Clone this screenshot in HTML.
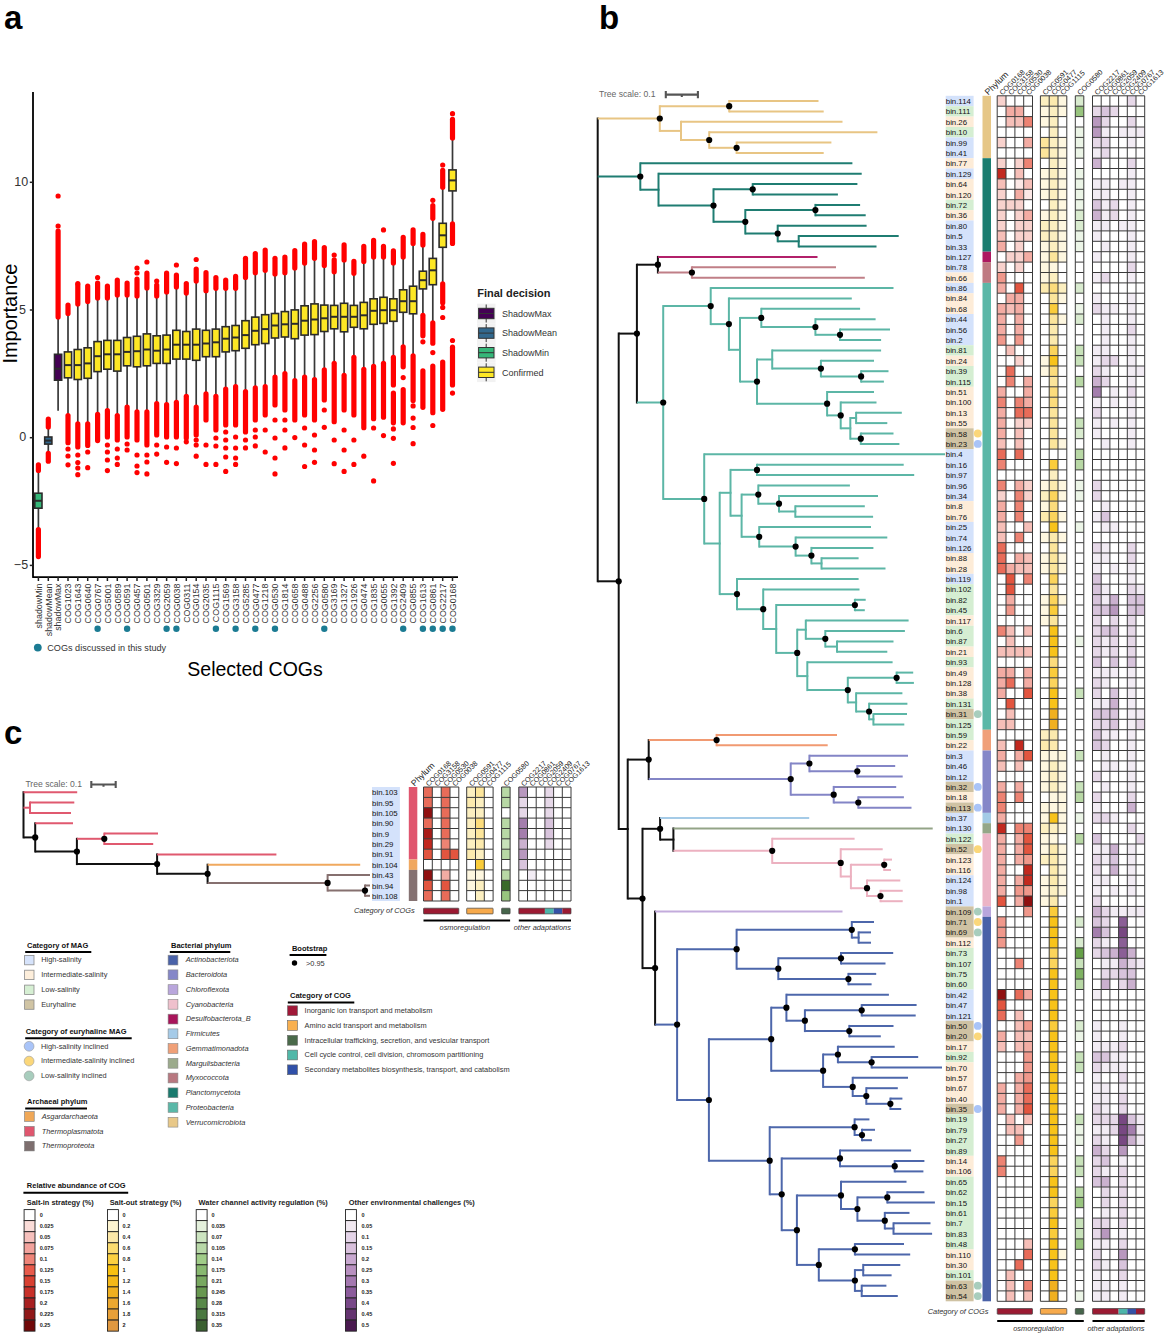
<!DOCTYPE html>
<html><head><meta charset="utf-8"><title>Figure</title>
<style>html,body{margin:0;padding:0;background:#fff;overflow:hidden;}svg{display:block;}</style></head>
<body>
<svg width="1166" height="1334" viewBox="0 0 1166 1334" font-family="'Liberation Sans', Arial, sans-serif">
<rect width="1166" height="1334" fill="#fff"/>
<line x1="38.4" y1="470.5" x2="38.4" y2="493.2" stroke="#383838" stroke-width="1.7"/>
<line x1="38.4" y1="508.2" x2="38.4" y2="529.5" stroke="#383838" stroke-width="1.7"/>
<line x1="48.3" y1="427" x2="48.3" y2="437" stroke="#383838" stroke-width="1.7"/>
<line x1="48.3" y1="444.1" x2="48.3" y2="453.4" stroke="#383838" stroke-width="1.7"/>
<line x1="58.1" y1="317" x2="58.1" y2="354.3" stroke="#383838" stroke-width="1.7"/>
<line x1="58.1" y1="380.2" x2="58.1" y2="410.7" stroke="#383838" stroke-width="1.7"/>
<line x1="68" y1="313.5" x2="68" y2="351.9" stroke="#383838" stroke-width="1.7"/>
<line x1="68" y1="377.8" x2="68" y2="415.5" stroke="#383838" stroke-width="1.7"/>
<line x1="77.8" y1="303.9" x2="77.8" y2="349.5" stroke="#383838" stroke-width="1.7"/>
<line x1="77.8" y1="379.5" x2="77.8" y2="423.9" stroke="#383838" stroke-width="1.7"/>
<line x1="87.7" y1="301.5" x2="87.7" y2="347.8" stroke="#383838" stroke-width="1.7"/>
<line x1="87.7" y1="378.3" x2="87.7" y2="423.9" stroke="#383838" stroke-width="1.7"/>
<line x1="97.6" y1="297.9" x2="97.6" y2="341.6" stroke="#383838" stroke-width="1.7"/>
<line x1="97.6" y1="371.6" x2="97.6" y2="414.3" stroke="#383838" stroke-width="1.7"/>
<line x1="107.4" y1="297.9" x2="107.4" y2="340.4" stroke="#383838" stroke-width="1.7"/>
<line x1="107.4" y1="369.2" x2="107.4" y2="410.7" stroke="#383838" stroke-width="1.7"/>
<line x1="117.3" y1="295" x2="117.3" y2="340.4" stroke="#383838" stroke-width="1.7"/>
<line x1="117.3" y1="371.1" x2="117.3" y2="415.5" stroke="#383838" stroke-width="1.7"/>
<line x1="127.1" y1="295" x2="127.1" y2="337.5" stroke="#383838" stroke-width="1.7"/>
<line x1="127.1" y1="365.8" x2="127.1" y2="407" stroke="#383838" stroke-width="1.7"/>
<line x1="137" y1="296" x2="137" y2="336.3" stroke="#383838" stroke-width="1.7"/>
<line x1="137" y1="366.8" x2="137" y2="411.9" stroke="#383838" stroke-width="1.7"/>
<line x1="146.9" y1="288" x2="146.9" y2="333.9" stroke="#383838" stroke-width="1.7"/>
<line x1="146.9" y1="365.8" x2="146.9" y2="411.9" stroke="#383838" stroke-width="1.7"/>
<line x1="156.7" y1="296" x2="156.7" y2="335.8" stroke="#383838" stroke-width="1.7"/>
<line x1="156.7" y1="363.4" x2="156.7" y2="403.5" stroke="#383838" stroke-width="1.7"/>
<line x1="166.6" y1="292" x2="166.6" y2="335.1" stroke="#383838" stroke-width="1.7"/>
<line x1="166.6" y1="363.4" x2="166.6" y2="404.7" stroke="#383838" stroke-width="1.7"/>
<line x1="176.4" y1="287" x2="176.4" y2="330.3" stroke="#383838" stroke-width="1.7"/>
<line x1="176.4" y1="359.1" x2="176.4" y2="402.3" stroke="#383838" stroke-width="1.7"/>
<line x1="186.3" y1="293.1" x2="186.3" y2="331.5" stroke="#383838" stroke-width="1.7"/>
<line x1="186.3" y1="359.1" x2="186.3" y2="396.3" stroke="#383838" stroke-width="1.7"/>
<line x1="196.2" y1="281.1" x2="196.2" y2="329.1" stroke="#383838" stroke-width="1.7"/>
<line x1="196.2" y1="360.3" x2="196.2" y2="407" stroke="#383838" stroke-width="1.7"/>
<line x1="206" y1="290.7" x2="206" y2="330.3" stroke="#383838" stroke-width="1.7"/>
<line x1="206" y1="356.7" x2="206" y2="393.9" stroke="#383838" stroke-width="1.7"/>
<line x1="215.9" y1="288.3" x2="215.9" y2="329.1" stroke="#383838" stroke-width="1.7"/>
<line x1="215.9" y1="356.7" x2="215.9" y2="396.3" stroke="#383838" stroke-width="1.7"/>
<line x1="225.7" y1="288.3" x2="225.7" y2="326.7" stroke="#383838" stroke-width="1.7"/>
<line x1="225.7" y1="351.9" x2="225.7" y2="389.1" stroke="#383838" stroke-width="1.7"/>
<line x1="235.6" y1="288.3" x2="235.6" y2="325.5" stroke="#383838" stroke-width="1.7"/>
<line x1="235.6" y1="350.7" x2="235.6" y2="386.7" stroke="#383838" stroke-width="1.7"/>
<line x1="245.5" y1="277.5" x2="245.5" y2="320.7" stroke="#383838" stroke-width="1.7"/>
<line x1="245.5" y1="348.3" x2="245.5" y2="391.5" stroke="#383838" stroke-width="1.7"/>
<line x1="255.3" y1="272.7" x2="255.3" y2="317.1" stroke="#383838" stroke-width="1.7"/>
<line x1="255.3" y1="344.7" x2="255.3" y2="387.9" stroke="#383838" stroke-width="1.7"/>
<line x1="265.2" y1="270.3" x2="265.2" y2="314.7" stroke="#383838" stroke-width="1.7"/>
<line x1="265.2" y1="343.5" x2="265.2" y2="386.7" stroke="#383838" stroke-width="1.7"/>
<line x1="275" y1="274" x2="275" y2="313.5" stroke="#383838" stroke-width="1.7"/>
<line x1="275" y1="338" x2="275" y2="377.1" stroke="#383838" stroke-width="1.7"/>
<line x1="284.9" y1="272.7" x2="284.9" y2="311.6" stroke="#383838" stroke-width="1.7"/>
<line x1="284.9" y1="337" x2="284.9" y2="373.5" stroke="#383838" stroke-width="1.7"/>
<line x1="294.8" y1="268" x2="294.8" y2="309.9" stroke="#383838" stroke-width="1.7"/>
<line x1="294.8" y1="338.7" x2="294.8" y2="380.7" stroke="#383838" stroke-width="1.7"/>
<line x1="304.6" y1="263.1" x2="304.6" y2="305.8" stroke="#383838" stroke-width="1.7"/>
<line x1="304.6" y1="335.1" x2="304.6" y2="377.1" stroke="#383838" stroke-width="1.7"/>
<line x1="314.5" y1="258.3" x2="314.5" y2="303.9" stroke="#383838" stroke-width="1.7"/>
<line x1="314.5" y1="334.6" x2="314.5" y2="379.5" stroke="#383838" stroke-width="1.7"/>
<line x1="324.3" y1="265.5" x2="324.3" y2="305.1" stroke="#383838" stroke-width="1.7"/>
<line x1="324.3" y1="331.5" x2="324.3" y2="369.9" stroke="#383838" stroke-width="1.7"/>
<line x1="334.2" y1="271.8" x2="334.2" y2="305.4" stroke="#383838" stroke-width="1.7"/>
<line x1="334.2" y1="328.8" x2="334.2" y2="363.3" stroke="#383838" stroke-width="1.7"/>
<line x1="344.1" y1="259.9" x2="344.1" y2="303.3" stroke="#383838" stroke-width="1.7"/>
<line x1="344.1" y1="331.8" x2="344.1" y2="375.3" stroke="#383838" stroke-width="1.7"/>
<line x1="353.9" y1="273.3" x2="353.9" y2="305.4" stroke="#383838" stroke-width="1.7"/>
<line x1="353.9" y1="327.3" x2="353.9" y2="357.3" stroke="#383838" stroke-width="1.7"/>
<line x1="363.8" y1="261.4" x2="363.8" y2="302.4" stroke="#383838" stroke-width="1.7"/>
<line x1="363.8" y1="328.8" x2="363.8" y2="369.3" stroke="#383838" stroke-width="1.7"/>
<line x1="373.6" y1="256.9" x2="373.6" y2="298.8" stroke="#383838" stroke-width="1.7"/>
<line x1="373.6" y1="324.3" x2="373.6" y2="366.3" stroke="#383838" stroke-width="1.7"/>
<line x1="383.5" y1="256.9" x2="383.5" y2="297.3" stroke="#383838" stroke-width="1.7"/>
<line x1="383.5" y1="323.4" x2="383.5" y2="363.3" stroke="#383838" stroke-width="1.7"/>
<line x1="393.4" y1="262.9" x2="393.4" y2="298.8" stroke="#383838" stroke-width="1.7"/>
<line x1="393.4" y1="321.3" x2="393.4" y2="357.3" stroke="#383838" stroke-width="1.7"/>
<line x1="403.2" y1="256.9" x2="403.2" y2="289.8" stroke="#383838" stroke-width="1.7"/>
<line x1="403.2" y1="312.3" x2="403.2" y2="346.8" stroke="#383838" stroke-width="1.7"/>
<line x1="413.1" y1="243.4" x2="413.1" y2="286.2" stroke="#383838" stroke-width="1.7"/>
<line x1="413.1" y1="313.8" x2="413.1" y2="355.8" stroke="#383838" stroke-width="1.7"/>
<line x1="422.9" y1="244.9" x2="422.9" y2="271.2" stroke="#383838" stroke-width="1.7"/>
<line x1="422.9" y1="288.9" x2="422.9" y2="315.3" stroke="#383838" stroke-width="1.7"/>
<line x1="432.8" y1="218.3" x2="432.8" y2="258.4" stroke="#383838" stroke-width="1.7"/>
<line x1="432.8" y1="284.7" x2="432.8" y2="322.8" stroke="#383838" stroke-width="1.7"/>
<line x1="442.7" y1="187.2" x2="442.7" y2="223.3" stroke="#383838" stroke-width="1.7"/>
<line x1="442.7" y1="247.3" x2="442.7" y2="283.8" stroke="#383838" stroke-width="1.7"/>
<line x1="452.5" y1="138" x2="452.5" y2="169.9" stroke="#383838" stroke-width="1.7"/>
<line x1="452.5" y1="190.9" x2="452.5" y2="223.9" stroke="#383838" stroke-width="1.7"/>
<line x1="38.4" y1="464.8" x2="38.4" y2="470.5" stroke="#ff0000" stroke-width="5.2" stroke-linecap="round"/>
<line x1="38.4" y1="529.5" x2="38.4" y2="556.6" stroke="#ff0000" stroke-width="5.2" stroke-linecap="round"/>
<line x1="48.3" y1="419.2" x2="48.3" y2="427" stroke="#ff0000" stroke-width="5.2" stroke-linecap="round"/>
<line x1="48.3" y1="453.4" x2="48.3" y2="461.2" stroke="#ff0000" stroke-width="5.2" stroke-linecap="round"/>
<line x1="58.1" y1="231" x2="58.1" y2="317" stroke="#ff0000" stroke-width="5.2" stroke-linecap="round"/>
<circle cx="58.1" cy="196" r="2.6" fill="#ff0000"/>
<circle cx="58.1" cy="226" r="2.6" fill="#ff0000"/>
<line x1="68" y1="305.1" x2="68" y2="313.5" stroke="#ff0000" stroke-width="5.2" stroke-linecap="round"/>
<line x1="68" y1="415.5" x2="68" y2="442.7" stroke="#ff0000" stroke-width="5.2" stroke-linecap="round"/>
<circle cx="68" cy="449" r="2.6" fill="#ff0000"/>
<circle cx="68" cy="456" r="2.6" fill="#ff0000"/>
<circle cx="68" cy="464.8" r="2.6" fill="#ff0000"/>
<line x1="77.8" y1="285" x2="77.8" y2="303.9" stroke="#ff0000" stroke-width="5.2" stroke-linecap="round"/>
<circle cx="77.8" cy="283.5" r="2.6" fill="#ff0000"/>
<line x1="77.8" y1="423.9" x2="77.8" y2="447" stroke="#ff0000" stroke-width="5.2" stroke-linecap="round"/>
<circle cx="77.8" cy="455" r="2.6" fill="#ff0000"/>
<circle cx="77.8" cy="462.6" r="2.6" fill="#ff0000"/>
<circle cx="77.8" cy="468" r="2.6" fill="#ff0000"/>
<circle cx="77.8" cy="474.7" r="2.6" fill="#ff0000"/>
<line x1="87.7" y1="286" x2="87.7" y2="301.5" stroke="#ff0000" stroke-width="5.2" stroke-linecap="round"/>
<line x1="87.7" y1="423.9" x2="87.7" y2="445.5" stroke="#ff0000" stroke-width="5.2" stroke-linecap="round"/>
<circle cx="87.7" cy="452" r="2.6" fill="#ff0000"/>
<circle cx="87.7" cy="467.7" r="2.6" fill="#ff0000"/>
<line x1="97.6" y1="283" x2="97.6" y2="297.9" stroke="#ff0000" stroke-width="5.2" stroke-linecap="round"/>
<circle cx="97.6" cy="277.5" r="2.6" fill="#ff0000"/>
<line x1="97.6" y1="414.3" x2="97.6" y2="440.6" stroke="#ff0000" stroke-width="5.2" stroke-linecap="round"/>
<line x1="107.4" y1="286" x2="107.4" y2="297.9" stroke="#ff0000" stroke-width="5.2" stroke-linecap="round"/>
<line x1="107.4" y1="410.7" x2="107.4" y2="437" stroke="#ff0000" stroke-width="5.2" stroke-linecap="round"/>
<circle cx="107.4" cy="445" r="2.6" fill="#ff0000"/>
<circle cx="107.4" cy="452" r="2.6" fill="#ff0000"/>
<circle cx="107.4" cy="460" r="2.6" fill="#ff0000"/>
<circle cx="107.4" cy="470.6" r="2.6" fill="#ff0000"/>
<line x1="117.3" y1="280" x2="117.3" y2="295" stroke="#ff0000" stroke-width="5.2" stroke-linecap="round"/>
<line x1="117.3" y1="415.5" x2="117.3" y2="440" stroke="#ff0000" stroke-width="5.2" stroke-linecap="round"/>
<circle cx="117.3" cy="449" r="2.6" fill="#ff0000"/>
<circle cx="117.3" cy="458" r="2.6" fill="#ff0000"/>
<circle cx="117.3" cy="464.4" r="2.6" fill="#ff0000"/>
<line x1="127.1" y1="283" x2="127.1" y2="295" stroke="#ff0000" stroke-width="5.2" stroke-linecap="round"/>
<line x1="127.1" y1="407" x2="127.1" y2="437" stroke="#ff0000" stroke-width="5.2" stroke-linecap="round"/>
<circle cx="127.1" cy="444" r="2.6" fill="#ff0000"/>
<circle cx="127.1" cy="450" r="2.6" fill="#ff0000"/>
<line x1="137" y1="279" x2="137" y2="296" stroke="#ff0000" stroke-width="5.2" stroke-linecap="round"/>
<circle cx="137" cy="268" r="2.6" fill="#ff0000"/>
<circle cx="137" cy="273" r="2.6" fill="#ff0000"/>
<line x1="137" y1="411.9" x2="137" y2="440" stroke="#ff0000" stroke-width="5.2" stroke-linecap="round"/>
<circle cx="137" cy="455" r="2.6" fill="#ff0000"/>
<circle cx="137" cy="466" r="2.6" fill="#ff0000"/>
<circle cx="137" cy="472.6" r="2.6" fill="#ff0000"/>
<line x1="146.9" y1="273" x2="146.9" y2="288" stroke="#ff0000" stroke-width="5.2" stroke-linecap="round"/>
<circle cx="146.9" cy="262" r="2.6" fill="#ff0000"/>
<line x1="146.9" y1="411.9" x2="146.9" y2="445" stroke="#ff0000" stroke-width="5.2" stroke-linecap="round"/>
<circle cx="146.9" cy="455" r="2.6" fill="#ff0000"/>
<circle cx="146.9" cy="462" r="2.6" fill="#ff0000"/>
<circle cx="146.9" cy="473.9" r="2.6" fill="#ff0000"/>
<line x1="156.7" y1="285" x2="156.7" y2="296" stroke="#ff0000" stroke-width="5.2" stroke-linecap="round"/>
<circle cx="156.7" cy="281" r="2.6" fill="#ff0000"/>
<line x1="156.7" y1="403.5" x2="156.7" y2="435" stroke="#ff0000" stroke-width="5.2" stroke-linecap="round"/>
<circle cx="156.7" cy="445" r="2.6" fill="#ff0000"/>
<circle cx="156.7" cy="454.1" r="2.6" fill="#ff0000"/>
<line x1="166.6" y1="273" x2="166.6" y2="292" stroke="#ff0000" stroke-width="5.2" stroke-linecap="round"/>
<line x1="166.6" y1="404.7" x2="166.6" y2="437" stroke="#ff0000" stroke-width="5.2" stroke-linecap="round"/>
<circle cx="166.6" cy="447" r="2.6" fill="#ff0000"/>
<circle cx="166.6" cy="462.3" r="2.6" fill="#ff0000"/>
<line x1="176.4" y1="275" x2="176.4" y2="287" stroke="#ff0000" stroke-width="5.2" stroke-linecap="round"/>
<circle cx="176.4" cy="265" r="2.6" fill="#ff0000"/>
<line x1="176.4" y1="402.3" x2="176.4" y2="437" stroke="#ff0000" stroke-width="5.2" stroke-linecap="round"/>
<circle cx="176.4" cy="448" r="2.6" fill="#ff0000"/>
<circle cx="176.4" cy="463.6" r="2.6" fill="#ff0000"/>
<line x1="186.3" y1="283.5" x2="186.3" y2="293.1" stroke="#ff0000" stroke-width="5.2" stroke-linecap="round"/>
<line x1="186.3" y1="396.3" x2="186.3" y2="438" stroke="#ff0000" stroke-width="5.2" stroke-linecap="round"/>
<circle cx="186.3" cy="441.8" r="2.6" fill="#ff0000"/>
<line x1="196.2" y1="269.1" x2="196.2" y2="281.1" stroke="#ff0000" stroke-width="5.2" stroke-linecap="round"/>
<circle cx="196.2" cy="259.5" r="2.6" fill="#ff0000"/>
<line x1="196.2" y1="407" x2="196.2" y2="435" stroke="#ff0000" stroke-width="5.2" stroke-linecap="round"/>
<circle cx="196.2" cy="440" r="2.6" fill="#ff0000"/>
<circle cx="196.2" cy="445" r="2.6" fill="#ff0000"/>
<circle cx="196.2" cy="456.2" r="2.6" fill="#ff0000"/>
<line x1="206" y1="272.7" x2="206" y2="290.7" stroke="#ff0000" stroke-width="5.2" stroke-linecap="round"/>
<line x1="206" y1="393.9" x2="206" y2="420" stroke="#ff0000" stroke-width="5.2" stroke-linecap="round"/>
<circle cx="206" cy="445" r="2.6" fill="#ff0000"/>
<circle cx="206" cy="464.4" r="2.6" fill="#ff0000"/>
<line x1="215.9" y1="277.5" x2="215.9" y2="288.3" stroke="#ff0000" stroke-width="5.2" stroke-linecap="round"/>
<line x1="215.9" y1="396.3" x2="215.9" y2="430" stroke="#ff0000" stroke-width="5.2" stroke-linecap="round"/>
<circle cx="215.9" cy="438" r="2.6" fill="#ff0000"/>
<circle cx="215.9" cy="446" r="2.6" fill="#ff0000"/>
<circle cx="215.9" cy="464.4" r="2.6" fill="#ff0000"/>
<line x1="225.7" y1="280" x2="225.7" y2="288.3" stroke="#ff0000" stroke-width="5.2" stroke-linecap="round"/>
<line x1="225.7" y1="389.1" x2="225.7" y2="425" stroke="#ff0000" stroke-width="5.2" stroke-linecap="round"/>
<circle cx="225.7" cy="432" r="2.6" fill="#ff0000"/>
<circle cx="225.7" cy="440" r="2.6" fill="#ff0000"/>
<circle cx="225.7" cy="448" r="2.6" fill="#ff0000"/>
<circle cx="225.7" cy="457" r="2.6" fill="#ff0000"/>
<circle cx="225.7" cy="471.4" r="2.6" fill="#ff0000"/>
<line x1="235.6" y1="276.3" x2="235.6" y2="288.3" stroke="#ff0000" stroke-width="5.2" stroke-linecap="round"/>
<line x1="235.6" y1="386.7" x2="235.6" y2="425" stroke="#ff0000" stroke-width="5.2" stroke-linecap="round"/>
<circle cx="235.6" cy="437" r="2.6" fill="#ff0000"/>
<circle cx="235.6" cy="448" r="2.6" fill="#ff0000"/>
<circle cx="235.6" cy="458" r="2.6" fill="#ff0000"/>
<circle cx="235.6" cy="464.4" r="2.6" fill="#ff0000"/>
<line x1="245.5" y1="258.3" x2="245.5" y2="277.5" stroke="#ff0000" stroke-width="5.2" stroke-linecap="round"/>
<line x1="245.5" y1="391.5" x2="245.5" y2="432" stroke="#ff0000" stroke-width="5.2" stroke-linecap="round"/>
<circle cx="245.5" cy="440" r="2.6" fill="#ff0000"/>
<circle cx="245.5" cy="447.9" r="2.6" fill="#ff0000"/>
<line x1="255.3" y1="253.5" x2="255.3" y2="272.7" stroke="#ff0000" stroke-width="5.2" stroke-linecap="round"/>
<line x1="255.3" y1="387.9" x2="255.3" y2="420" stroke="#ff0000" stroke-width="5.2" stroke-linecap="round"/>
<circle cx="255.3" cy="430" r="2.6" fill="#ff0000"/>
<circle cx="255.3" cy="437" r="2.6" fill="#ff0000"/>
<circle cx="255.3" cy="445.9" r="2.6" fill="#ff0000"/>
<line x1="265.2" y1="250" x2="265.2" y2="270.3" stroke="#ff0000" stroke-width="5.2" stroke-linecap="round"/>
<line x1="265.2" y1="386.7" x2="265.2" y2="415" stroke="#ff0000" stroke-width="5.2" stroke-linecap="round"/>
<circle cx="265.2" cy="430" r="2.6" fill="#ff0000"/>
<circle cx="265.2" cy="452" r="2.6" fill="#ff0000"/>
<line x1="275" y1="258.3" x2="275" y2="274" stroke="#ff0000" stroke-width="5.2" stroke-linecap="round"/>
<line x1="275" y1="377.1" x2="275" y2="405" stroke="#ff0000" stroke-width="5.2" stroke-linecap="round"/>
<circle cx="275" cy="420" r="2.6" fill="#ff0000"/>
<circle cx="275" cy="438" r="2.6" fill="#ff0000"/>
<circle cx="275" cy="458" r="2.6" fill="#ff0000"/>
<circle cx="275" cy="473.9" r="2.6" fill="#ff0000"/>
<line x1="284.9" y1="257" x2="284.9" y2="272.7" stroke="#ff0000" stroke-width="5.2" stroke-linecap="round"/>
<line x1="284.9" y1="373.5" x2="284.9" y2="410" stroke="#ff0000" stroke-width="5.2" stroke-linecap="round"/>
<circle cx="284.9" cy="420" r="2.6" fill="#ff0000"/>
<circle cx="284.9" cy="430" r="2.6" fill="#ff0000"/>
<circle cx="284.9" cy="447.9" r="2.6" fill="#ff0000"/>
<line x1="294.8" y1="250.7" x2="294.8" y2="268" stroke="#ff0000" stroke-width="5.2" stroke-linecap="round"/>
<line x1="294.8" y1="380.7" x2="294.8" y2="420" stroke="#ff0000" stroke-width="5.2" stroke-linecap="round"/>
<circle cx="294.8" cy="437.6" r="2.6" fill="#ff0000"/>
<line x1="304.6" y1="244" x2="304.6" y2="263.1" stroke="#ff0000" stroke-width="5.2" stroke-linecap="round"/>
<line x1="304.6" y1="377.1" x2="304.6" y2="415" stroke="#ff0000" stroke-width="5.2" stroke-linecap="round"/>
<circle cx="304.6" cy="428" r="2.6" fill="#ff0000"/>
<circle cx="304.6" cy="445" r="2.6" fill="#ff0000"/>
<circle cx="304.6" cy="466.5" r="2.6" fill="#ff0000"/>
<line x1="314.5" y1="241.6" x2="314.5" y2="258.3" stroke="#ff0000" stroke-width="5.2" stroke-linecap="round"/>
<line x1="314.5" y1="379.5" x2="314.5" y2="420" stroke="#ff0000" stroke-width="5.2" stroke-linecap="round"/>
<circle cx="314.5" cy="435" r="2.6" fill="#ff0000"/>
<circle cx="314.5" cy="450" r="2.6" fill="#ff0000"/>
<circle cx="314.5" cy="462.3" r="2.6" fill="#ff0000"/>
<line x1="324.3" y1="247.5" x2="324.3" y2="265.5" stroke="#ff0000" stroke-width="5.2" stroke-linecap="round"/>
<line x1="324.3" y1="369.9" x2="324.3" y2="400" stroke="#ff0000" stroke-width="5.2" stroke-linecap="round"/>
<circle cx="324.3" cy="410" r="2.6" fill="#ff0000"/>
<circle cx="324.3" cy="427.3" r="2.6" fill="#ff0000"/>
<line x1="334.2" y1="259.9" x2="334.2" y2="271.8" stroke="#ff0000" stroke-width="5.2" stroke-linecap="round"/>
<circle cx="334.2" cy="255" r="2.6" fill="#ff0000"/>
<line x1="334.2" y1="363.3" x2="334.2" y2="421.7" stroke="#ff0000" stroke-width="5.2" stroke-linecap="round"/>
<circle cx="334.2" cy="440" r="2.6" fill="#ff0000"/>
<circle cx="334.2" cy="463.7" r="2.6" fill="#ff0000"/>
<line x1="344.1" y1="244.9" x2="344.1" y2="259.9" stroke="#ff0000" stroke-width="5.2" stroke-linecap="round"/>
<line x1="344.1" y1="375.3" x2="344.1" y2="410" stroke="#ff0000" stroke-width="5.2" stroke-linecap="round"/>
<circle cx="344.1" cy="430" r="2.6" fill="#ff0000"/>
<circle cx="344.1" cy="450" r="2.6" fill="#ff0000"/>
<circle cx="344.1" cy="471.4" r="2.6" fill="#ff0000"/>
<line x1="353.9" y1="261.4" x2="353.9" y2="273.3" stroke="#ff0000" stroke-width="5.2" stroke-linecap="round"/>
<line x1="353.9" y1="357.3" x2="353.9" y2="415" stroke="#ff0000" stroke-width="5.2" stroke-linecap="round"/>
<circle cx="353.9" cy="440" r="2.6" fill="#ff0000"/>
<circle cx="353.9" cy="464.4" r="2.6" fill="#ff0000"/>
<line x1="363.8" y1="246.4" x2="363.8" y2="261.4" stroke="#ff0000" stroke-width="5.2" stroke-linecap="round"/>
<line x1="363.8" y1="369.3" x2="363.8" y2="427.7" stroke="#ff0000" stroke-width="5.2" stroke-linecap="round"/>
<circle cx="363.8" cy="456.2" r="2.6" fill="#ff0000"/>
<line x1="373.6" y1="240.4" x2="373.6" y2="256.9" stroke="#ff0000" stroke-width="5.2" stroke-linecap="round"/>
<line x1="373.6" y1="366.3" x2="373.6" y2="418.7" stroke="#ff0000" stroke-width="5.2" stroke-linecap="round"/>
<circle cx="373.6" cy="428" r="2.6" fill="#ff0000"/>
<circle cx="373.6" cy="480.9" r="2.6" fill="#ff0000"/>
<line x1="383.5" y1="246.4" x2="383.5" y2="256.9" stroke="#ff0000" stroke-width="5.2" stroke-linecap="round"/>
<circle cx="383.5" cy="229.9" r="2.6" fill="#ff0000"/>
<line x1="383.5" y1="363.3" x2="383.5" y2="417.2" stroke="#ff0000" stroke-width="5.2" stroke-linecap="round"/>
<circle cx="383.5" cy="435.6" r="2.6" fill="#ff0000"/>
<line x1="393.4" y1="250.9" x2="393.4" y2="262.9" stroke="#ff0000" stroke-width="5.2" stroke-linecap="round"/>
<line x1="393.4" y1="357.3" x2="393.4" y2="385" stroke="#ff0000" stroke-width="5.2" stroke-linecap="round"/>
<line x1="393.4" y1="393.1" x2="393.4" y2="422.8" stroke="#ff0000" stroke-width="5.2" stroke-linecap="round"/>
<circle cx="393.4" cy="428.9" r="2.6" fill="#ff0000"/>
<circle cx="393.4" cy="438.3" r="2.6" fill="#ff0000"/>
<circle cx="393.4" cy="463.3" r="2.6" fill="#ff0000"/>
<line x1="403.2" y1="237.4" x2="403.2" y2="256.9" stroke="#ff0000" stroke-width="5.2" stroke-linecap="round"/>
<line x1="403.2" y1="346.8" x2="403.2" y2="366.8" stroke="#ff0000" stroke-width="5.2" stroke-linecap="round"/>
<circle cx="403.2" cy="377.6" r="2.6" fill="#ff0000"/>
<line x1="403.2" y1="389.7" x2="403.2" y2="422.8" stroke="#ff0000" stroke-width="5.2" stroke-linecap="round"/>
<line x1="413.1" y1="229.9" x2="413.1" y2="243.4" stroke="#ff0000" stroke-width="5.2" stroke-linecap="round"/>
<line x1="413.1" y1="355.8" x2="413.1" y2="400.5" stroke="#ff0000" stroke-width="5.2" stroke-linecap="round"/>
<circle cx="413.1" cy="405.9" r="2.6" fill="#ff0000"/>
<circle cx="413.1" cy="418.1" r="2.6" fill="#ff0000"/>
<circle cx="413.1" cy="427.5" r="2.6" fill="#ff0000"/>
<circle cx="413.1" cy="443.7" r="2.6" fill="#ff0000"/>
<line x1="422.9" y1="234.4" x2="422.9" y2="244.9" stroke="#ff0000" stroke-width="5.2" stroke-linecap="round"/>
<line x1="422.9" y1="315.3" x2="422.9" y2="335.8" stroke="#ff0000" stroke-width="5.2" stroke-linecap="round"/>
<circle cx="422.9" cy="341.8" r="2.6" fill="#ff0000"/>
<line x1="422.9" y1="370.8" x2="422.9" y2="407.3" stroke="#ff0000" stroke-width="5.2" stroke-linecap="round"/>
<line x1="432.8" y1="205.7" x2="432.8" y2="218.3" stroke="#ff0000" stroke-width="5.2" stroke-linecap="round"/>
<circle cx="432.8" cy="200.3" r="2.6" fill="#ff0000"/>
<line x1="432.8" y1="322.8" x2="432.8" y2="343.2" stroke="#ff0000" stroke-width="5.2" stroke-linecap="round"/>
<circle cx="432.8" cy="352.6" r="2.6" fill="#ff0000"/>
<line x1="432.8" y1="366.1" x2="432.8" y2="412.7" stroke="#ff0000" stroke-width="5.2" stroke-linecap="round"/>
<circle cx="432.8" cy="425.5" r="2.6" fill="#ff0000"/>
<line x1="442.7" y1="170.4" x2="442.7" y2="187.2" stroke="#ff0000" stroke-width="5.2" stroke-linecap="round"/>
<circle cx="442.7" cy="165" r="2.6" fill="#ff0000"/>
<line x1="442.7" y1="283.8" x2="442.7" y2="302.7" stroke="#ff0000" stroke-width="5.2" stroke-linecap="round"/>
<circle cx="442.7" cy="307.4" r="2.6" fill="#ff0000"/>
<circle cx="442.7" cy="317.5" r="2.6" fill="#ff0000"/>
<line x1="442.7" y1="362.1" x2="442.7" y2="409.3" stroke="#ff0000" stroke-width="5.2" stroke-linecap="round"/>
<line x1="452.5" y1="119.4" x2="452.5" y2="138" stroke="#ff0000" stroke-width="5.2" stroke-linecap="round"/>
<circle cx="452.5" cy="113.7" r="2.6" fill="#ff0000"/>
<line x1="452.5" y1="223.9" x2="452.5" y2="243.4" stroke="#ff0000" stroke-width="5.2" stroke-linecap="round"/>
<circle cx="452.5" cy="340.5" r="2.6" fill="#ff0000"/>
<line x1="452.5" y1="347.2" x2="452.5" y2="385" stroke="#ff0000" stroke-width="5.2" stroke-linecap="round"/>
<circle cx="452.5" cy="393.1" r="2.6" fill="#ff0000"/>
<rect x="34.8" y="493.2" width="7.2" height="15" fill="#35B779" stroke="#2b2b2b" stroke-width="1.6"/>
<line x1="34.8" y1="500.8" x2="42" y2="500.8" stroke="#2b2b2b" stroke-width="2"/>
<rect x="44.7" y="437" width="7.2" height="7.1" fill="#31688E" stroke="#2b2b2b" stroke-width="1.6"/>
<line x1="44.7" y1="440.6" x2="51.9" y2="440.6" stroke="#2b2b2b" stroke-width="2"/>
<rect x="54.5" y="354.3" width="7.2" height="25.9" fill="#440154" stroke="#2b2b2b" stroke-width="1.6"/>
<line x1="54.5" y1="368.7" x2="61.7" y2="368.7" stroke="#2b2b2b" stroke-width="2"/>
<rect x="64.4" y="351.9" width="7.2" height="25.9" fill="#FDE725" stroke="#2b2b2b" stroke-width="1.6"/>
<line x1="64.4" y1="365.1" x2="71.6" y2="365.1" stroke="#2b2b2b" stroke-width="2"/>
<rect x="74.2" y="349.5" width="7.2" height="30" fill="#FDE725" stroke="#2b2b2b" stroke-width="1.6"/>
<line x1="74.2" y1="365.1" x2="81.4" y2="365.1" stroke="#2b2b2b" stroke-width="2"/>
<rect x="84.1" y="347.8" width="7.2" height="30.5" fill="#FDE725" stroke="#2b2b2b" stroke-width="1.6"/>
<line x1="84.1" y1="363.4" x2="91.3" y2="363.4" stroke="#2b2b2b" stroke-width="2"/>
<rect x="94" y="341.6" width="7.2" height="30" fill="#FDE725" stroke="#2b2b2b" stroke-width="1.6"/>
<line x1="94" y1="356.2" x2="101.2" y2="356.2" stroke="#2b2b2b" stroke-width="2"/>
<rect x="103.8" y="340.4" width="7.2" height="28.8" fill="#FDE725" stroke="#2b2b2b" stroke-width="1.6"/>
<line x1="103.8" y1="354.3" x2="111" y2="354.3" stroke="#2b2b2b" stroke-width="2"/>
<rect x="113.7" y="340.4" width="7.2" height="30.7" fill="#FDE725" stroke="#2b2b2b" stroke-width="1.6"/>
<line x1="113.7" y1="354.3" x2="120.9" y2="354.3" stroke="#2b2b2b" stroke-width="2"/>
<rect x="123.5" y="337.5" width="7.2" height="28.3" fill="#FDE725" stroke="#2b2b2b" stroke-width="1.6"/>
<line x1="123.5" y1="351.9" x2="130.7" y2="351.9" stroke="#2b2b2b" stroke-width="2"/>
<rect x="133.4" y="336.3" width="7.2" height="30.5" fill="#FDE725" stroke="#2b2b2b" stroke-width="1.6"/>
<line x1="133.4" y1="351.2" x2="140.6" y2="351.2" stroke="#2b2b2b" stroke-width="2"/>
<rect x="143.3" y="333.9" width="7.2" height="31.9" fill="#FDE725" stroke="#2b2b2b" stroke-width="1.6"/>
<line x1="143.3" y1="349.5" x2="150.5" y2="349.5" stroke="#2b2b2b" stroke-width="2"/>
<rect x="153.1" y="335.8" width="7.2" height="27.6" fill="#FDE725" stroke="#2b2b2b" stroke-width="1.6"/>
<line x1="153.1" y1="350.7" x2="160.3" y2="350.7" stroke="#2b2b2b" stroke-width="2"/>
<rect x="163" y="335.1" width="7.2" height="28.3" fill="#FDE725" stroke="#2b2b2b" stroke-width="1.6"/>
<line x1="163" y1="349.5" x2="170.2" y2="349.5" stroke="#2b2b2b" stroke-width="2"/>
<rect x="172.8" y="330.3" width="7.2" height="28.8" fill="#FDE725" stroke="#2b2b2b" stroke-width="1.6"/>
<line x1="172.8" y1="344.7" x2="180" y2="344.7" stroke="#2b2b2b" stroke-width="2"/>
<rect x="182.7" y="331.5" width="7.2" height="27.6" fill="#FDE725" stroke="#2b2b2b" stroke-width="1.6"/>
<line x1="182.7" y1="344.7" x2="189.9" y2="344.7" stroke="#2b2b2b" stroke-width="2"/>
<rect x="192.6" y="329.1" width="7.2" height="31.2" fill="#FDE725" stroke="#2b2b2b" stroke-width="1.6"/>
<line x1="192.6" y1="344.7" x2="199.8" y2="344.7" stroke="#2b2b2b" stroke-width="2"/>
<rect x="202.4" y="330.3" width="7.2" height="26.4" fill="#FDE725" stroke="#2b2b2b" stroke-width="1.6"/>
<line x1="202.4" y1="343.5" x2="209.6" y2="343.5" stroke="#2b2b2b" stroke-width="2"/>
<rect x="212.3" y="329.1" width="7.2" height="27.6" fill="#FDE725" stroke="#2b2b2b" stroke-width="1.6"/>
<line x1="212.3" y1="342.3" x2="219.5" y2="342.3" stroke="#2b2b2b" stroke-width="2"/>
<rect x="222.1" y="326.7" width="7.2" height="25.2" fill="#FDE725" stroke="#2b2b2b" stroke-width="1.6"/>
<line x1="222.1" y1="338.7" x2="229.3" y2="338.7" stroke="#2b2b2b" stroke-width="2"/>
<rect x="232" y="325.5" width="7.2" height="25.2" fill="#FDE725" stroke="#2b2b2b" stroke-width="1.6"/>
<line x1="232" y1="337.5" x2="239.2" y2="337.5" stroke="#2b2b2b" stroke-width="2"/>
<rect x="241.9" y="320.7" width="7.2" height="27.6" fill="#FDE725" stroke="#2b2b2b" stroke-width="1.6"/>
<line x1="241.9" y1="335.1" x2="249.1" y2="335.1" stroke="#2b2b2b" stroke-width="2"/>
<rect x="251.7" y="317.1" width="7.2" height="27.6" fill="#FDE725" stroke="#2b2b2b" stroke-width="1.6"/>
<line x1="251.7" y1="330.8" x2="258.9" y2="330.8" stroke="#2b2b2b" stroke-width="2"/>
<rect x="261.6" y="314.7" width="7.2" height="28.8" fill="#FDE725" stroke="#2b2b2b" stroke-width="1.6"/>
<line x1="261.6" y1="329.1" x2="268.8" y2="329.1" stroke="#2b2b2b" stroke-width="2"/>
<rect x="271.4" y="313.5" width="7.2" height="24.5" fill="#FDE725" stroke="#2b2b2b" stroke-width="1.6"/>
<line x1="271.4" y1="325.5" x2="278.6" y2="325.5" stroke="#2b2b2b" stroke-width="2"/>
<rect x="281.3" y="311.6" width="7.2" height="25.4" fill="#FDE725" stroke="#2b2b2b" stroke-width="1.6"/>
<line x1="281.3" y1="324.3" x2="288.5" y2="324.3" stroke="#2b2b2b" stroke-width="2"/>
<rect x="291.2" y="309.9" width="7.2" height="28.8" fill="#FDE725" stroke="#2b2b2b" stroke-width="1.6"/>
<line x1="291.2" y1="323.8" x2="298.4" y2="323.8" stroke="#2b2b2b" stroke-width="2"/>
<rect x="301" y="305.8" width="7.2" height="29.3" fill="#FDE725" stroke="#2b2b2b" stroke-width="1.6"/>
<line x1="301" y1="320.7" x2="308.2" y2="320.7" stroke="#2b2b2b" stroke-width="2"/>
<rect x="310.9" y="303.9" width="7.2" height="30.7" fill="#FDE725" stroke="#2b2b2b" stroke-width="1.6"/>
<line x1="310.9" y1="319.5" x2="318.1" y2="319.5" stroke="#2b2b2b" stroke-width="2"/>
<rect x="320.7" y="305.1" width="7.2" height="26.4" fill="#FDE725" stroke="#2b2b2b" stroke-width="1.6"/>
<line x1="320.7" y1="318.3" x2="327.9" y2="318.3" stroke="#2b2b2b" stroke-width="2"/>
<rect x="330.6" y="305.4" width="7.2" height="23.4" fill="#FDE725" stroke="#2b2b2b" stroke-width="1.6"/>
<line x1="330.6" y1="316.8" x2="337.8" y2="316.8" stroke="#2b2b2b" stroke-width="2"/>
<rect x="340.5" y="303.3" width="7.2" height="28.5" fill="#FDE725" stroke="#2b2b2b" stroke-width="1.6"/>
<line x1="340.5" y1="316.8" x2="347.7" y2="316.8" stroke="#2b2b2b" stroke-width="2"/>
<rect x="350.3" y="305.4" width="7.2" height="21.9" fill="#FDE725" stroke="#2b2b2b" stroke-width="1.6"/>
<line x1="350.3" y1="316.8" x2="357.5" y2="316.8" stroke="#2b2b2b" stroke-width="2"/>
<rect x="360.2" y="302.4" width="7.2" height="26.4" fill="#FDE725" stroke="#2b2b2b" stroke-width="1.6"/>
<line x1="360.2" y1="315.3" x2="367.4" y2="315.3" stroke="#2b2b2b" stroke-width="2"/>
<rect x="370" y="298.8" width="7.2" height="25.5" fill="#FDE725" stroke="#2b2b2b" stroke-width="1.6"/>
<line x1="370" y1="310.8" x2="377.2" y2="310.8" stroke="#2b2b2b" stroke-width="2"/>
<rect x="379.9" y="297.3" width="7.2" height="26.1" fill="#FDE725" stroke="#2b2b2b" stroke-width="1.6"/>
<line x1="379.9" y1="310.2" x2="387.1" y2="310.2" stroke="#2b2b2b" stroke-width="2"/>
<rect x="389.8" y="298.8" width="7.2" height="22.5" fill="#FDE725" stroke="#2b2b2b" stroke-width="1.6"/>
<line x1="389.8" y1="310.2" x2="397" y2="310.2" stroke="#2b2b2b" stroke-width="2"/>
<rect x="399.6" y="289.8" width="7.2" height="22.5" fill="#FDE725" stroke="#2b2b2b" stroke-width="1.6"/>
<line x1="399.6" y1="301.2" x2="406.8" y2="301.2" stroke="#2b2b2b" stroke-width="2"/>
<rect x="409.5" y="286.2" width="7.2" height="27.6" fill="#FDE725" stroke="#2b2b2b" stroke-width="1.6"/>
<line x1="409.5" y1="301.2" x2="416.7" y2="301.2" stroke="#2b2b2b" stroke-width="2"/>
<rect x="419.3" y="271.2" width="7.2" height="17.7" fill="#FDE725" stroke="#2b2b2b" stroke-width="1.6"/>
<line x1="419.3" y1="280.2" x2="426.5" y2="280.2" stroke="#2b2b2b" stroke-width="2"/>
<rect x="429.2" y="258.4" width="7.2" height="26.3" fill="#FDE725" stroke="#2b2b2b" stroke-width="1.6"/>
<line x1="429.2" y1="270.3" x2="436.4" y2="270.3" stroke="#2b2b2b" stroke-width="2"/>
<rect x="439.1" y="223.3" width="7.2" height="24" fill="#FDE725" stroke="#2b2b2b" stroke-width="1.6"/>
<line x1="439.1" y1="235.3" x2="446.3" y2="235.3" stroke="#2b2b2b" stroke-width="2"/>
<rect x="448.9" y="169.9" width="7.2" height="21" fill="#FDE725" stroke="#2b2b2b" stroke-width="1.6"/>
<line x1="448.9" y1="180.4" x2="456.1" y2="180.4" stroke="#2b2b2b" stroke-width="2"/>
<path d="M33 92V577.2H458" stroke="#000" stroke-width="1.8" fill="none" stroke-linejoin="round"/>
<line x1="29.8" y1="182.3" x2="33" y2="182.3" stroke="#222" stroke-width="1.5"/>
<text x="28.1" y="185.8" font-size="12.5" fill="#333" text-anchor="end">10</text>
<line x1="29.8" y1="310" x2="33" y2="310" stroke="#222" stroke-width="1.5"/>
<text x="25.9" y="313.5" font-size="12.5" fill="#333" text-anchor="end">5</text>
<line x1="29.8" y1="437.7" x2="33" y2="437.7" stroke="#222" stroke-width="1.5"/>
<text x="26.2" y="441.2" font-size="12.5" fill="#333" text-anchor="end">0</text>
<line x1="29.8" y1="565.4" x2="33" y2="565.4" stroke="#222" stroke-width="1.5"/>
<text x="28.1" y="568.9" font-size="12.5" fill="#333" text-anchor="end">−5</text>
<line x1="38.4" y1="577" x2="38.4" y2="581" stroke="#222" stroke-width="1.5"/>
<text transform="translate(41.6,583.5) rotate(-90)" font-size="8.9" fill="#333" text-anchor="end">shadowMin</text>
<line x1="48.3" y1="577" x2="48.3" y2="581" stroke="#222" stroke-width="1.5"/>
<text transform="translate(51.5,583.5) rotate(-90)" font-size="8.9" fill="#333" text-anchor="end">shadowMean</text>
<line x1="58.1" y1="577" x2="58.1" y2="581" stroke="#222" stroke-width="1.5"/>
<text transform="translate(61.3,583.5) rotate(-90)" font-size="8.9" fill="#333" text-anchor="end">shadowMax</text>
<line x1="68" y1="577" x2="68" y2="581" stroke="#222" stroke-width="1.5"/>
<text transform="translate(71.2,583.5) rotate(-90)" font-size="8.9" fill="#333" text-anchor="end">COG1023</text>
<line x1="77.8" y1="577" x2="77.8" y2="581" stroke="#222" stroke-width="1.5"/>
<text transform="translate(81,583.5) rotate(-90)" font-size="8.9" fill="#333" text-anchor="end">COG1643</text>
<line x1="87.7" y1="577" x2="87.7" y2="581" stroke="#222" stroke-width="1.5"/>
<text transform="translate(90.9,583.5) rotate(-90)" font-size="8.9" fill="#333" text-anchor="end">COG0640</text>
<line x1="97.6" y1="577" x2="97.6" y2="581" stroke="#222" stroke-width="1.5"/>
<text transform="translate(100.8,583.5) rotate(-90)" font-size="8.9" fill="#333" text-anchor="end">COG0767</text>
<circle cx="97.6" cy="628.7" r="3.2" fill="#1b7b93"/>
<line x1="107.4" y1="577" x2="107.4" y2="581" stroke="#222" stroke-width="1.5"/>
<text transform="translate(110.6,583.5) rotate(-90)" font-size="8.9" fill="#333" text-anchor="end">COG5001</text>
<line x1="117.3" y1="577" x2="117.3" y2="581" stroke="#222" stroke-width="1.5"/>
<text transform="translate(120.5,583.5) rotate(-90)" font-size="8.9" fill="#333" text-anchor="end">COG0589</text>
<line x1="127.1" y1="577" x2="127.1" y2="581" stroke="#222" stroke-width="1.5"/>
<text transform="translate(130.3,583.5) rotate(-90)" font-size="8.9" fill="#333" text-anchor="end">COG0591</text>
<circle cx="127.1" cy="628.7" r="3.2" fill="#1b7b93"/>
<line x1="137" y1="577" x2="137" y2="581" stroke="#222" stroke-width="1.5"/>
<text transform="translate(140.2,583.5) rotate(-90)" font-size="8.9" fill="#333" text-anchor="end">COG0457</text>
<line x1="146.9" y1="577" x2="146.9" y2="581" stroke="#222" stroke-width="1.5"/>
<text transform="translate(150.1,583.5) rotate(-90)" font-size="8.9" fill="#333" text-anchor="end">COG0501</text>
<line x1="156.7" y1="577" x2="156.7" y2="581" stroke="#222" stroke-width="1.5"/>
<text transform="translate(159.9,583.5) rotate(-90)" font-size="8.9" fill="#333" text-anchor="end">COG3329</text>
<line x1="166.6" y1="577" x2="166.6" y2="581" stroke="#222" stroke-width="1.5"/>
<text transform="translate(169.8,583.5) rotate(-90)" font-size="8.9" fill="#333" text-anchor="end">COG2059</text>
<circle cx="166.6" cy="628.7" r="3.2" fill="#1b7b93"/>
<line x1="176.4" y1="577" x2="176.4" y2="581" stroke="#222" stroke-width="1.5"/>
<text transform="translate(179.6,583.5) rotate(-90)" font-size="8.9" fill="#333" text-anchor="end">COG0038</text>
<circle cx="176.4" cy="628.7" r="3.2" fill="#1b7b93"/>
<line x1="186.3" y1="577" x2="186.3" y2="581" stroke="#222" stroke-width="1.5"/>
<text transform="translate(189.5,583.5) rotate(-90)" font-size="8.9" fill="#333" text-anchor="end">COG0311</text>
<line x1="196.2" y1="577" x2="196.2" y2="581" stroke="#222" stroke-width="1.5"/>
<text transform="translate(199.4,583.5) rotate(-90)" font-size="8.9" fill="#333" text-anchor="end">COG0154</text>
<line x1="206" y1="577" x2="206" y2="581" stroke="#222" stroke-width="1.5"/>
<text transform="translate(209.2,583.5) rotate(-90)" font-size="8.9" fill="#333" text-anchor="end">COG2035</text>
<line x1="215.9" y1="577" x2="215.9" y2="581" stroke="#222" stroke-width="1.5"/>
<text transform="translate(219.1,583.5) rotate(-90)" font-size="8.9" fill="#333" text-anchor="end">COG1115</text>
<circle cx="215.9" cy="628.7" r="3.2" fill="#1b7b93"/>
<line x1="225.7" y1="577" x2="225.7" y2="581" stroke="#222" stroke-width="1.5"/>
<text transform="translate(228.9,583.5) rotate(-90)" font-size="8.9" fill="#333" text-anchor="end">COG1569</text>
<line x1="235.6" y1="577" x2="235.6" y2="581" stroke="#222" stroke-width="1.5"/>
<text transform="translate(238.8,583.5) rotate(-90)" font-size="8.9" fill="#333" text-anchor="end">COG3158</text>
<circle cx="235.6" cy="628.7" r="3.2" fill="#1b7b93"/>
<line x1="245.5" y1="577" x2="245.5" y2="581" stroke="#222" stroke-width="1.5"/>
<text transform="translate(248.7,583.5) rotate(-90)" font-size="8.9" fill="#333" text-anchor="end">COG5285</text>
<line x1="255.3" y1="577" x2="255.3" y2="581" stroke="#222" stroke-width="1.5"/>
<text transform="translate(258.5,583.5) rotate(-90)" font-size="8.9" fill="#333" text-anchor="end">COG0477</text>
<circle cx="255.3" cy="628.7" r="3.2" fill="#1b7b93"/>
<line x1="265.2" y1="577" x2="265.2" y2="581" stroke="#222" stroke-width="1.5"/>
<text transform="translate(268.4,583.5) rotate(-90)" font-size="8.9" fill="#333" text-anchor="end">COG1218</text>
<line x1="275" y1="577" x2="275" y2="581" stroke="#222" stroke-width="1.5"/>
<text transform="translate(278.2,583.5) rotate(-90)" font-size="8.9" fill="#333" text-anchor="end">COG0530</text>
<circle cx="275" cy="628.7" r="3.2" fill="#1b7b93"/>
<line x1="284.9" y1="577" x2="284.9" y2="581" stroke="#222" stroke-width="1.5"/>
<text transform="translate(288.1,583.5) rotate(-90)" font-size="8.9" fill="#333" text-anchor="end">COG1814</text>
<line x1="294.8" y1="577" x2="294.8" y2="581" stroke="#222" stroke-width="1.5"/>
<text transform="translate(298,583.5) rotate(-90)" font-size="8.9" fill="#333" text-anchor="end">COG0658</text>
<line x1="304.6" y1="577" x2="304.6" y2="581" stroke="#222" stroke-width="1.5"/>
<text transform="translate(307.8,583.5) rotate(-90)" font-size="8.9" fill="#333" text-anchor="end">COG0488</text>
<line x1="314.5" y1="577" x2="314.5" y2="581" stroke="#222" stroke-width="1.5"/>
<text transform="translate(317.7,583.5) rotate(-90)" font-size="8.9" fill="#333" text-anchor="end">COG2256</text>
<line x1="324.3" y1="577" x2="324.3" y2="581" stroke="#222" stroke-width="1.5"/>
<text transform="translate(327.5,583.5) rotate(-90)" font-size="8.9" fill="#333" text-anchor="end">COG0580</text>
<circle cx="324.3" cy="628.7" r="3.2" fill="#1b7b93"/>
<line x1="334.2" y1="577" x2="334.2" y2="581" stroke="#222" stroke-width="1.5"/>
<text transform="translate(337.4,583.5) rotate(-90)" font-size="8.9" fill="#333" text-anchor="end">COG3169</text>
<line x1="344.1" y1="577" x2="344.1" y2="581" stroke="#222" stroke-width="1.5"/>
<text transform="translate(347.3,583.5) rotate(-90)" font-size="8.9" fill="#333" text-anchor="end">COG1327</text>
<line x1="353.9" y1="577" x2="353.9" y2="581" stroke="#222" stroke-width="1.5"/>
<text transform="translate(357.1,583.5) rotate(-90)" font-size="8.9" fill="#333" text-anchor="end">COG1926</text>
<line x1="363.8" y1="577" x2="363.8" y2="581" stroke="#222" stroke-width="1.5"/>
<text transform="translate(367,583.5) rotate(-90)" font-size="8.9" fill="#333" text-anchor="end">COG0474</text>
<line x1="373.6" y1="577" x2="373.6" y2="581" stroke="#222" stroke-width="1.5"/>
<text transform="translate(376.8,583.5) rotate(-90)" font-size="8.9" fill="#333" text-anchor="end">COG1835</text>
<line x1="383.5" y1="577" x2="383.5" y2="581" stroke="#222" stroke-width="1.5"/>
<text transform="translate(386.7,583.5) rotate(-90)" font-size="8.9" fill="#333" text-anchor="end">COG0055</text>
<line x1="393.4" y1="577" x2="393.4" y2="581" stroke="#222" stroke-width="1.5"/>
<text transform="translate(396.6,583.5) rotate(-90)" font-size="8.9" fill="#333" text-anchor="end">COG1392</text>
<line x1="403.2" y1="577" x2="403.2" y2="581" stroke="#222" stroke-width="1.5"/>
<text transform="translate(406.4,583.5) rotate(-90)" font-size="8.9" fill="#333" text-anchor="end">COG2409</text>
<circle cx="403.2" cy="628.7" r="3.2" fill="#1b7b93"/>
<line x1="413.1" y1="577" x2="413.1" y2="581" stroke="#222" stroke-width="1.5"/>
<text transform="translate(416.3,583.5) rotate(-90)" font-size="8.9" fill="#333" text-anchor="end">COG0855</text>
<line x1="422.9" y1="577" x2="422.9" y2="581" stroke="#222" stroke-width="1.5"/>
<text transform="translate(426.1,583.5) rotate(-90)" font-size="8.9" fill="#333" text-anchor="end">COG1613</text>
<circle cx="422.9" cy="628.7" r="3.2" fill="#1b7b93"/>
<line x1="432.8" y1="577" x2="432.8" y2="581" stroke="#222" stroke-width="1.5"/>
<text transform="translate(436,583.5) rotate(-90)" font-size="8.9" fill="#333" text-anchor="end">COG0861</text>
<circle cx="432.8" cy="628.7" r="3.2" fill="#1b7b93"/>
<line x1="442.7" y1="577" x2="442.7" y2="581" stroke="#222" stroke-width="1.5"/>
<text transform="translate(445.9,583.5) rotate(-90)" font-size="8.9" fill="#333" text-anchor="end">COG2217</text>
<circle cx="442.7" cy="628.7" r="3.2" fill="#1b7b93"/>
<line x1="452.5" y1="577" x2="452.5" y2="581" stroke="#222" stroke-width="1.5"/>
<text transform="translate(455.7,583.5) rotate(-90)" font-size="8.9" fill="#333" text-anchor="end">COG0168</text>
<circle cx="452.5" cy="628.7" r="3.2" fill="#1b7b93"/>
<circle cx="37.8" cy="647.6" r="3.9" fill="#1b7b93"/>
<text x="47.3" y="650.8" font-size="9.1" fill="#333">COGs discussed in this study</text>
<text x="187.3" y="676" font-size="19.5" fill="#000">Selected COGs</text>
<text transform="translate(17.2,363.6) rotate(-90)" font-size="20" fill="#000">Importance</text>
<text x="477.2" y="296.5" font-size="11" font-weight="bold" fill="#222">Final decision</text>
<rect x="477" y="303.7" width="18.5" height="19.6" fill="#f2f2f2"/>
<line x1="486.2" y1="304.5" x2="486.2" y2="322.5" stroke="#333" stroke-width="1"/>
<rect x="478.6" y="308.3" width="15.4" height="10.4" fill="#440154" stroke="#333" stroke-width="1"/>
<line x1="478.6" y1="313.5" x2="494" y2="313.5" stroke="#333" stroke-width="1"/>
<text x="502" y="316.7" font-size="9" fill="#333">ShadowMax</text>
<rect x="477" y="323.3" width="18.5" height="19.6" fill="#f2f2f2"/>
<line x1="486.2" y1="324.1" x2="486.2" y2="342.1" stroke="#333" stroke-width="1"/>
<rect x="478.6" y="327.9" width="15.4" height="10.4" fill="#31688E" stroke="#333" stroke-width="1"/>
<line x1="478.6" y1="333.1" x2="494" y2="333.1" stroke="#333" stroke-width="1"/>
<text x="502" y="336.3" font-size="9" fill="#333">ShadowMean</text>
<rect x="477" y="342.9" width="18.5" height="19.6" fill="#f2f2f2"/>
<line x1="486.2" y1="343.7" x2="486.2" y2="361.7" stroke="#333" stroke-width="1"/>
<rect x="478.6" y="347.5" width="15.4" height="10.4" fill="#35B779" stroke="#333" stroke-width="1"/>
<line x1="478.6" y1="352.7" x2="494" y2="352.7" stroke="#333" stroke-width="1"/>
<text x="502" y="355.9" font-size="9" fill="#333">ShadowMin</text>
<rect x="477" y="362.5" width="18.5" height="19.6" fill="#f2f2f2"/>
<line x1="486.2" y1="363.3" x2="486.2" y2="381.3" stroke="#333" stroke-width="1"/>
<rect x="478.6" y="367.1" width="15.4" height="10.4" fill="#FDE725" stroke="#333" stroke-width="1"/>
<line x1="478.6" y1="372.3" x2="494" y2="372.3" stroke="#333" stroke-width="1"/>
<text x="502" y="375.5" font-size="9" fill="#333">Confirmed</text>
<text x="4" y="28.8" font-size="33" font-weight="bold" fill="#000">a</text>
<text x="599" y="29.3" font-size="33" font-weight="bold" fill="#000">b</text>
<text x="599" y="97" font-size="8.6" fill="#666">Tree scale: 0.1</text>
<path d="M665.8 94.6H697.9M665.8 91V98.2M697.9 91V98.2M681.8 94.6V97" stroke="#555" stroke-width="2.1" fill="none"/>
<line x1="597.7" y1="118.5" x2="597.7" y2="581.3" stroke="#111" stroke-width="2.0" stroke-linecap="square"/>
<line x1="597.7" y1="118.5" x2="660.8" y2="118.5" stroke="#e8c584" stroke-width="2.0"/>
<line x1="659.8" y1="106.2" x2="659.8" y2="130.9" stroke="#e8c584" stroke-width="2.0" stroke-linecap="square"/>
<line x1="659.8" y1="106.2" x2="730.2" y2="106.2" stroke="#e8c584" stroke-width="2.0"/>
<line x1="729.2" y1="101" x2="729.2" y2="111.4" stroke="#e8c584" stroke-width="2.0" stroke-linecap="square"/>
<line x1="729.2" y1="101" x2="818.5" y2="101" stroke="#e8c584" stroke-width="2.0"/>
<line x1="729.2" y1="111.4" x2="823.7" y2="111.4" stroke="#e8c584" stroke-width="2.0"/>
<line x1="659.8" y1="130.9" x2="682" y2="130.9" stroke="#e8c584" stroke-width="2.0"/>
<line x1="681" y1="121.8" x2="681" y2="140" stroke="#e8c584" stroke-width="2.0" stroke-linecap="square"/>
<line x1="681" y1="121.8" x2="842.5" y2="121.8" stroke="#e8c584" stroke-width="2.0"/>
<line x1="681" y1="140" x2="710.2" y2="140" stroke="#e8c584" stroke-width="2.0"/>
<line x1="709.2" y1="132.2" x2="709.2" y2="147.8" stroke="#e8c584" stroke-width="2.0" stroke-linecap="square"/>
<line x1="709.2" y1="132.2" x2="877.4" y2="132.2" stroke="#e8c584" stroke-width="2.0"/>
<line x1="709.2" y1="147.8" x2="737.6" y2="147.8" stroke="#e8c584" stroke-width="2.0"/>
<line x1="736.6" y1="142.6" x2="736.6" y2="153" stroke="#e8c584" stroke-width="2.0" stroke-linecap="square"/>
<line x1="736.6" y1="142.6" x2="831.4" y2="142.6" stroke="#e8c584" stroke-width="2.0"/>
<line x1="736.6" y1="153" x2="823.7" y2="153" stroke="#e8c584" stroke-width="2.0"/>
<line x1="597.7" y1="176.5" x2="641.3" y2="176.5" stroke="#1f7d72" stroke-width="2.0"/>
<line x1="640.3" y1="163.3" x2="640.3" y2="189.7" stroke="#1f7d72" stroke-width="2.0" stroke-linecap="square"/>
<line x1="640.3" y1="163.3" x2="852.4" y2="163.3" stroke="#1f7d72" stroke-width="2.0"/>
<line x1="640.3" y1="189.7" x2="659.5" y2="189.7" stroke="#1f7d72" stroke-width="2.0"/>
<line x1="658.5" y1="173.7" x2="658.5" y2="205.6" stroke="#1f7d72" stroke-width="2.0" stroke-linecap="square"/>
<line x1="658.5" y1="173.7" x2="861.7" y2="173.7" stroke="#1f7d72" stroke-width="2.0"/>
<line x1="658.5" y1="205.6" x2="714.5" y2="205.6" stroke="#1f7d72" stroke-width="2.0"/>
<line x1="713.5" y1="189.3" x2="713.5" y2="221.8" stroke="#1f7d72" stroke-width="2.0" stroke-linecap="square"/>
<line x1="713.5" y1="189.3" x2="753.7" y2="189.3" stroke="#1f7d72" stroke-width="2.0"/>
<line x1="752.7" y1="184.1" x2="752.7" y2="194.5" stroke="#1f7d72" stroke-width="2.0" stroke-linecap="square"/>
<line x1="752.7" y1="184.1" x2="857.4" y2="184.1" stroke="#1f7d72" stroke-width="2.0"/>
<line x1="752.7" y1="194.5" x2="837.9" y2="194.5" stroke="#1f7d72" stroke-width="2.0"/>
<line x1="713.5" y1="221.8" x2="746.3" y2="221.8" stroke="#1f7d72" stroke-width="2.0"/>
<line x1="745.3" y1="210.1" x2="745.3" y2="233.5" stroke="#1f7d72" stroke-width="2.0" stroke-linecap="square"/>
<line x1="745.3" y1="210.1" x2="816.4" y2="210.1" stroke="#1f7d72" stroke-width="2.0"/>
<line x1="815.4" y1="204.9" x2="815.4" y2="215.3" stroke="#1f7d72" stroke-width="2.0" stroke-linecap="square"/>
<line x1="815.4" y1="204.9" x2="860.1" y2="204.9" stroke="#1f7d72" stroke-width="2.0"/>
<line x1="815.4" y1="215.3" x2="865.7" y2="215.3" stroke="#1f7d72" stroke-width="2.0"/>
<line x1="745.3" y1="233.5" x2="778.7" y2="233.5" stroke="#1f7d72" stroke-width="2.0"/>
<line x1="777.7" y1="225.7" x2="777.7" y2="241.3" stroke="#1f7d72" stroke-width="2.0" stroke-linecap="square"/>
<line x1="777.7" y1="225.7" x2="866.6" y2="225.7" stroke="#1f7d72" stroke-width="2.0"/>
<line x1="777.7" y1="241.3" x2="799.7" y2="241.3" stroke="#1f7d72" stroke-width="2.0"/>
<line x1="798.7" y1="236.1" x2="798.7" y2="246.5" stroke="#1f7d72" stroke-width="2.0" stroke-linecap="square"/>
<line x1="798.7" y1="236.1" x2="898.7" y2="236.1" stroke="#1f7d72" stroke-width="2.0"/>
<line x1="798.7" y1="246.5" x2="876.5" y2="246.5" stroke="#1f7d72" stroke-width="2.0"/>
<line x1="597.7" y1="581.3" x2="619.7" y2="581.3" stroke="#111" stroke-width="2.0"/>
<line x1="618.7" y1="333.6" x2="618.7" y2="829" stroke="#111" stroke-width="2.0" stroke-linecap="square"/>
<line x1="618.7" y1="333.6" x2="637.9" y2="333.6" stroke="#111" stroke-width="2.0"/>
<line x1="636.9" y1="264.7" x2="636.9" y2="402.5" stroke="#111" stroke-width="2.0" stroke-linecap="square"/>
<line x1="636.9" y1="264.7" x2="658.9" y2="264.7" stroke="#111" stroke-width="2.0"/>
<line x1="657.9" y1="256.9" x2="657.9" y2="272.5" stroke="#111" stroke-width="2.0" stroke-linecap="square"/>
<line x1="657.9" y1="256.9" x2="817.5" y2="256.9" stroke="#b2206a" stroke-width="2.0"/>
<line x1="657.9" y1="272.5" x2="692.9" y2="272.5" stroke="#c07f87" stroke-width="2.0"/>
<line x1="691.9" y1="267.3" x2="691.9" y2="277.7" stroke="#c07f87" stroke-width="2.0" stroke-linecap="square"/>
<line x1="691.9" y1="267.3" x2="836" y2="267.3" stroke="#c07f87" stroke-width="2.0"/>
<line x1="691.9" y1="277.7" x2="864.8" y2="277.7" stroke="#c07f87" stroke-width="2.0"/>
<line x1="636.9" y1="402.5" x2="664.2" y2="402.5" stroke="#5cb6a6" stroke-width="2.0"/>
<line x1="663.2" y1="306.1" x2="663.2" y2="498.9" stroke="#5cb6a6" stroke-width="2.0" stroke-linecap="square"/>
<line x1="663.2" y1="306.1" x2="711.7" y2="306.1" stroke="#5cb6a6" stroke-width="2.0"/>
<line x1="710.7" y1="288.1" x2="710.7" y2="324.1" stroke="#5cb6a6" stroke-width="2.0" stroke-linecap="square"/>
<line x1="710.7" y1="288.1" x2="893.5" y2="288.1" stroke="#5cb6a6" stroke-width="2.0"/>
<line x1="710.7" y1="324.1" x2="729.9" y2="324.1" stroke="#5cb6a6" stroke-width="2.0"/>
<line x1="728.9" y1="298.4" x2="728.9" y2="349.8" stroke="#5cb6a6" stroke-width="2.0" stroke-linecap="square"/>
<line x1="728.9" y1="298.4" x2="851.8" y2="298.4" stroke="#5cb6a6" stroke-width="2.0"/>
<line x1="728.9" y1="349.8" x2="741" y2="349.8" stroke="#5cb6a6" stroke-width="2.0"/>
<line x1="740" y1="317.9" x2="740" y2="381.6" stroke="#5cb6a6" stroke-width="2.0" stroke-linecap="square"/>
<line x1="740" y1="317.9" x2="762.3" y2="317.9" stroke="#5cb6a6" stroke-width="2.0"/>
<line x1="761.3" y1="308.8" x2="761.3" y2="327" stroke="#5cb6a6" stroke-width="2.0" stroke-linecap="square"/>
<line x1="761.3" y1="308.8" x2="860.1" y2="308.8" stroke="#5cb6a6" stroke-width="2.0"/>
<line x1="761.3" y1="327" x2="816.4" y2="327" stroke="#5cb6a6" stroke-width="2.0"/>
<line x1="815.4" y1="319.2" x2="815.4" y2="334.8" stroke="#5cb6a6" stroke-width="2.0" stroke-linecap="square"/>
<line x1="815.4" y1="319.2" x2="875.6" y2="319.2" stroke="#5cb6a6" stroke-width="2.0"/>
<line x1="815.4" y1="334.8" x2="841" y2="334.8" stroke="#5cb6a6" stroke-width="2.0"/>
<line x1="840" y1="329.6" x2="840" y2="340" stroke="#5cb6a6" stroke-width="2.0" stroke-linecap="square"/>
<line x1="840" y1="329.6" x2="890" y2="329.6" stroke="#5cb6a6" stroke-width="2.0"/>
<line x1="840" y1="340" x2="881.1" y2="340" stroke="#5cb6a6" stroke-width="2.0"/>
<line x1="740" y1="381.6" x2="758" y2="381.6" stroke="#5cb6a6" stroke-width="2.0"/>
<line x1="757" y1="359.5" x2="757" y2="403.7" stroke="#5cb6a6" stroke-width="2.0" stroke-linecap="square"/>
<line x1="757" y1="359.5" x2="773.2" y2="359.5" stroke="#5cb6a6" stroke-width="2.0"/>
<line x1="772.2" y1="350.4" x2="772.2" y2="368.6" stroke="#5cb6a6" stroke-width="2.0" stroke-linecap="square"/>
<line x1="772.2" y1="350.4" x2="881.1" y2="350.4" stroke="#5cb6a6" stroke-width="2.0"/>
<line x1="772.2" y1="368.6" x2="821.9" y2="368.6" stroke="#5cb6a6" stroke-width="2.0"/>
<line x1="820.9" y1="360.8" x2="820.9" y2="376.4" stroke="#5cb6a6" stroke-width="2.0" stroke-linecap="square"/>
<line x1="820.9" y1="360.8" x2="874" y2="360.8" stroke="#5cb6a6" stroke-width="2.0"/>
<line x1="820.9" y1="376.4" x2="862.1" y2="376.4" stroke="#5cb6a6" stroke-width="2.0"/>
<line x1="861.1" y1="371.2" x2="861.1" y2="381.6" stroke="#5cb6a6" stroke-width="2.0" stroke-linecap="square"/>
<line x1="861.1" y1="371.2" x2="888.5" y2="371.2" stroke="#5cb6a6" stroke-width="2.0"/>
<line x1="861.1" y1="381.6" x2="883.9" y2="381.6" stroke="#5cb6a6" stroke-width="2.0"/>
<line x1="757" y1="403.7" x2="828.1" y2="403.7" stroke="#5cb6a6" stroke-width="2.0"/>
<line x1="827.1" y1="392" x2="827.1" y2="415.4" stroke="#5cb6a6" stroke-width="2.0" stroke-linecap="square"/>
<line x1="827.1" y1="392" x2="874" y2="392" stroke="#5cb6a6" stroke-width="2.0"/>
<line x1="827.1" y1="415.4" x2="841.7" y2="415.4" stroke="#5cb6a6" stroke-width="2.0"/>
<line x1="840.7" y1="402.4" x2="840.7" y2="428.3" stroke="#5cb6a6" stroke-width="2.0" stroke-linecap="square"/>
<line x1="840.7" y1="402.4" x2="876.5" y2="402.4" stroke="#5cb6a6" stroke-width="2.0"/>
<line x1="840.7" y1="428.3" x2="851.3" y2="428.3" stroke="#5cb6a6" stroke-width="2.0"/>
<line x1="850.3" y1="418" x2="850.3" y2="438.7" stroke="#5cb6a6" stroke-width="2.0" stroke-linecap="square"/>
<line x1="850.3" y1="418" x2="857.1" y2="418" stroke="#5cb6a6" stroke-width="2.0"/>
<line x1="856.1" y1="412.8" x2="856.1" y2="423.1" stroke="#5cb6a6" stroke-width="2.0" stroke-linecap="square"/>
<line x1="856.1" y1="412.8" x2="901.8" y2="412.8" stroke="#5cb6a6" stroke-width="2.0"/>
<line x1="856.1" y1="423.1" x2="887.3" y2="423.1" stroke="#5cb6a6" stroke-width="2.0"/>
<line x1="850.3" y1="438.7" x2="861.8" y2="438.7" stroke="#5cb6a6" stroke-width="2.0"/>
<line x1="860.8" y1="433.5" x2="860.8" y2="443.9" stroke="#5cb6a6" stroke-width="2.0" stroke-linecap="square"/>
<line x1="860.8" y1="433.5" x2="893.5" y2="433.5" stroke="#5cb6a6" stroke-width="2.0"/>
<line x1="860.8" y1="443.9" x2="899.4" y2="443.9" stroke="#5cb6a6" stroke-width="2.0"/>
<line x1="663.2" y1="498.9" x2="705.2" y2="498.9" stroke="#5cb6a6" stroke-width="2.0"/>
<line x1="704.2" y1="454.3" x2="704.2" y2="543.5" stroke="#5cb6a6" stroke-width="2.0" stroke-linecap="square"/>
<line x1="704.2" y1="454.3" x2="945" y2="454.3" stroke="#5cb6a6" stroke-width="2.0"/>
<line x1="704.2" y1="543.5" x2="720.7" y2="543.5" stroke="#5cb6a6" stroke-width="2.0"/>
<line x1="719.7" y1="492.8" x2="719.7" y2="594.1" stroke="#5cb6a6" stroke-width="2.0" stroke-linecap="square"/>
<line x1="719.7" y1="492.8" x2="731.5" y2="492.8" stroke="#5cb6a6" stroke-width="2.0"/>
<line x1="730.5" y1="469.9" x2="730.5" y2="515.7" stroke="#5cb6a6" stroke-width="2.0" stroke-linecap="square"/>
<line x1="730.5" y1="469.9" x2="758" y2="469.9" stroke="#5cb6a6" stroke-width="2.0"/>
<line x1="757" y1="464.7" x2="757" y2="475.1" stroke="#5cb6a6" stroke-width="2.0" stroke-linecap="square"/>
<line x1="757" y1="464.7" x2="903.7" y2="464.7" stroke="#5cb6a6" stroke-width="2.0"/>
<line x1="757" y1="475.1" x2="914.2" y2="475.1" stroke="#5cb6a6" stroke-width="2.0"/>
<line x1="730.5" y1="515.7" x2="742.6" y2="515.7" stroke="#5cb6a6" stroke-width="2.0"/>
<line x1="741.6" y1="494.6" x2="741.6" y2="536.8" stroke="#5cb6a6" stroke-width="2.0" stroke-linecap="square"/>
<line x1="741.6" y1="494.6" x2="759.3" y2="494.6" stroke="#5cb6a6" stroke-width="2.0"/>
<line x1="758.3" y1="485.5" x2="758.3" y2="503.7" stroke="#5cb6a6" stroke-width="2.0" stroke-linecap="square"/>
<line x1="758.3" y1="485.5" x2="849.9" y2="485.5" stroke="#5cb6a6" stroke-width="2.0"/>
<line x1="758.3" y1="503.7" x2="780" y2="503.7" stroke="#5cb6a6" stroke-width="2.0"/>
<line x1="779" y1="495.9" x2="779" y2="511.5" stroke="#5cb6a6" stroke-width="2.0" stroke-linecap="square"/>
<line x1="779" y1="495.9" x2="878" y2="495.9" stroke="#5cb6a6" stroke-width="2.0"/>
<line x1="779" y1="511.5" x2="796.3" y2="511.5" stroke="#5cb6a6" stroke-width="2.0"/>
<line x1="795.3" y1="506.3" x2="795.3" y2="516.7" stroke="#5cb6a6" stroke-width="2.0" stroke-linecap="square"/>
<line x1="795.3" y1="506.3" x2="864.8" y2="506.3" stroke="#5cb6a6" stroke-width="2.0"/>
<line x1="795.3" y1="516.7" x2="873.1" y2="516.7" stroke="#5cb6a6" stroke-width="2.0"/>
<line x1="741.6" y1="536.8" x2="760.2" y2="536.8" stroke="#5cb6a6" stroke-width="2.0"/>
<line x1="759.2" y1="527.1" x2="759.2" y2="546.6" stroke="#5cb6a6" stroke-width="2.0" stroke-linecap="square"/>
<line x1="759.2" y1="527.1" x2="871" y2="527.1" stroke="#5cb6a6" stroke-width="2.0"/>
<line x1="759.2" y1="546.6" x2="796.6" y2="546.6" stroke="#5cb6a6" stroke-width="2.0"/>
<line x1="795.6" y1="537.5" x2="795.6" y2="555.6" stroke="#5cb6a6" stroke-width="2.0" stroke-linecap="square"/>
<line x1="795.6" y1="537.5" x2="887.3" y2="537.5" stroke="#5cb6a6" stroke-width="2.0"/>
<line x1="795.6" y1="555.6" x2="812.4" y2="555.6" stroke="#5cb6a6" stroke-width="2.0"/>
<line x1="811.4" y1="547.9" x2="811.4" y2="563.4" stroke="#5cb6a6" stroke-width="2.0" stroke-linecap="square"/>
<line x1="811.4" y1="547.9" x2="873.4" y2="547.9" stroke="#5cb6a6" stroke-width="2.0"/>
<line x1="811.4" y1="563.4" x2="822.5" y2="563.4" stroke="#5cb6a6" stroke-width="2.0"/>
<line x1="821.5" y1="558.2" x2="821.5" y2="568.6" stroke="#5cb6a6" stroke-width="2.0" stroke-linecap="square"/>
<line x1="821.5" y1="558.2" x2="858.6" y2="558.2" stroke="#5cb6a6" stroke-width="2.0"/>
<line x1="821.5" y1="568.6" x2="885.5" y2="568.6" stroke="#5cb6a6" stroke-width="2.0"/>
<line x1="719.7" y1="594.1" x2="738" y2="594.1" stroke="#5cb6a6" stroke-width="2.0"/>
<line x1="737" y1="579" x2="737" y2="609.2" stroke="#5cb6a6" stroke-width="2.0" stroke-linecap="square"/>
<line x1="737" y1="579" x2="858.6" y2="579" stroke="#5cb6a6" stroke-width="2.0"/>
<line x1="737" y1="609.2" x2="764.2" y2="609.2" stroke="#5cb6a6" stroke-width="2.0"/>
<line x1="763.2" y1="589.4" x2="763.2" y2="629" stroke="#5cb6a6" stroke-width="2.0" stroke-linecap="square"/>
<line x1="763.2" y1="589.4" x2="859.5" y2="589.4" stroke="#5cb6a6" stroke-width="2.0"/>
<line x1="763.2" y1="629" x2="777.2" y2="629" stroke="#5cb6a6" stroke-width="2.0"/>
<line x1="776.2" y1="605" x2="776.2" y2="652.9" stroke="#5cb6a6" stroke-width="2.0" stroke-linecap="square"/>
<line x1="776.2" y1="605" x2="855.9" y2="605" stroke="#5cb6a6" stroke-width="2.0"/>
<line x1="854.9" y1="599.8" x2="854.9" y2="610.2" stroke="#5cb6a6" stroke-width="2.0" stroke-linecap="square"/>
<line x1="854.9" y1="599.8" x2="865.7" y2="599.8" stroke="#5cb6a6" stroke-width="2.0"/>
<line x1="854.9" y1="610.2" x2="864.8" y2="610.2" stroke="#5cb6a6" stroke-width="2.0"/>
<line x1="776.2" y1="652.9" x2="798.2" y2="652.9" stroke="#5cb6a6" stroke-width="2.0"/>
<line x1="797.2" y1="629.7" x2="797.2" y2="676.1" stroke="#5cb6a6" stroke-width="2.0" stroke-linecap="square"/>
<line x1="797.2" y1="629.7" x2="806.8" y2="629.7" stroke="#5cb6a6" stroke-width="2.0"/>
<line x1="805.8" y1="620.6" x2="805.8" y2="638.8" stroke="#5cb6a6" stroke-width="2.0" stroke-linecap="square"/>
<line x1="805.8" y1="620.6" x2="908.6" y2="620.6" stroke="#5cb6a6" stroke-width="2.0"/>
<line x1="805.8" y1="638.8" x2="826.3" y2="638.8" stroke="#5cb6a6" stroke-width="2.0"/>
<line x1="825.3" y1="631" x2="825.3" y2="646.6" stroke="#5cb6a6" stroke-width="2.0" stroke-linecap="square"/>
<line x1="825.3" y1="631" x2="904.9" y2="631" stroke="#5cb6a6" stroke-width="2.0"/>
<line x1="825.3" y1="646.6" x2="838" y2="646.6" stroke="#5cb6a6" stroke-width="2.0"/>
<line x1="837" y1="641.4" x2="837" y2="651.8" stroke="#5cb6a6" stroke-width="2.0" stroke-linecap="square"/>
<line x1="837" y1="641.4" x2="893.5" y2="641.4" stroke="#5cb6a6" stroke-width="2.0"/>
<line x1="837" y1="651.8" x2="887.3" y2="651.8" stroke="#5cb6a6" stroke-width="2.0"/>
<line x1="797.2" y1="676.1" x2="808.3" y2="676.1" stroke="#5cb6a6" stroke-width="2.0"/>
<line x1="807.3" y1="662.2" x2="807.3" y2="690.1" stroke="#5cb6a6" stroke-width="2.0" stroke-linecap="square"/>
<line x1="807.3" y1="662.2" x2="892.6" y2="662.2" stroke="#5cb6a6" stroke-width="2.0"/>
<line x1="807.3" y1="690.1" x2="848.8" y2="690.1" stroke="#5cb6a6" stroke-width="2.0"/>
<line x1="847.8" y1="677.8" x2="847.8" y2="702.4" stroke="#5cb6a6" stroke-width="2.0" stroke-linecap="square"/>
<line x1="847.8" y1="677.8" x2="897.6" y2="677.8" stroke="#5cb6a6" stroke-width="2.0"/>
<line x1="896.6" y1="672.6" x2="896.6" y2="682.9" stroke="#5cb6a6" stroke-width="2.0" stroke-linecap="square"/>
<line x1="896.6" y1="672.6" x2="913.2" y2="672.6" stroke="#5cb6a6" stroke-width="2.0"/>
<line x1="896.6" y1="682.9" x2="913.9" y2="682.9" stroke="#5cb6a6" stroke-width="2.0"/>
<line x1="847.8" y1="702.4" x2="857.1" y2="702.4" stroke="#5cb6a6" stroke-width="2.0"/>
<line x1="856.1" y1="693.3" x2="856.1" y2="711.5" stroke="#5cb6a6" stroke-width="2.0" stroke-linecap="square"/>
<line x1="856.1" y1="693.3" x2="902.4" y2="693.3" stroke="#5cb6a6" stroke-width="2.0"/>
<line x1="856.1" y1="711.5" x2="870.1" y2="711.5" stroke="#5cb6a6" stroke-width="2.0"/>
<line x1="869.1" y1="703.7" x2="869.1" y2="719.3" stroke="#5cb6a6" stroke-width="2.0" stroke-linecap="square"/>
<line x1="869.1" y1="703.7" x2="907.4" y2="703.7" stroke="#5cb6a6" stroke-width="2.0"/>
<line x1="869.1" y1="719.3" x2="874.4" y2="719.3" stroke="#5cb6a6" stroke-width="2.0"/>
<line x1="873.4" y1="714.1" x2="873.4" y2="724.5" stroke="#5cb6a6" stroke-width="2.0" stroke-linecap="square"/>
<line x1="873.4" y1="714.1" x2="907" y2="714.1" stroke="#5cb6a6" stroke-width="2.0"/>
<line x1="873.4" y1="724.5" x2="904.3" y2="724.5" stroke="#5cb6a6" stroke-width="2.0"/>
<line x1="618.7" y1="829" x2="628.7" y2="829" stroke="#111" stroke-width="2.0"/>
<line x1="627.7" y1="759.6" x2="627.7" y2="898.5" stroke="#111" stroke-width="2.0" stroke-linecap="square"/>
<line x1="627.7" y1="759.6" x2="649.7" y2="759.6" stroke="#111" stroke-width="2.0"/>
<line x1="648.7" y1="740.1" x2="648.7" y2="779.1" stroke="#111" stroke-width="2.0" stroke-linecap="square"/>
<line x1="648.7" y1="740.1" x2="717.6" y2="740.1" stroke="#f19a72" stroke-width="2.0"/>
<line x1="716.6" y1="734.9" x2="716.6" y2="745.3" stroke="#f19a72" stroke-width="2.0" stroke-linecap="square"/>
<line x1="716.6" y1="734.9" x2="837" y2="734.9" stroke="#f19a72" stroke-width="2.0"/>
<line x1="716.6" y1="745.3" x2="827.7" y2="745.3" stroke="#f19a72" stroke-width="2.0"/>
<line x1="648.7" y1="779.1" x2="791.7" y2="779.1" stroke="#8385c6" stroke-width="2.0"/>
<line x1="790.7" y1="763.5" x2="790.7" y2="794.7" stroke="#8385c6" stroke-width="2.0" stroke-linecap="square"/>
<line x1="790.7" y1="763.5" x2="810.4" y2="763.5" stroke="#8385c6" stroke-width="2.0"/>
<line x1="809.4" y1="755.7" x2="809.4" y2="771.3" stroke="#8385c6" stroke-width="2.0" stroke-linecap="square"/>
<line x1="809.4" y1="755.7" x2="908" y2="755.7" stroke="#8385c6" stroke-width="2.0"/>
<line x1="809.4" y1="771.3" x2="858.3" y2="771.3" stroke="#8385c6" stroke-width="2.0"/>
<line x1="857.3" y1="766.1" x2="857.3" y2="776.5" stroke="#8385c6" stroke-width="2.0" stroke-linecap="square"/>
<line x1="857.3" y1="766.1" x2="895.2" y2="766.1" stroke="#8385c6" stroke-width="2.0"/>
<line x1="857.3" y1="776.5" x2="902.7" y2="776.5" stroke="#8385c6" stroke-width="2.0"/>
<line x1="790.7" y1="794.7" x2="834.7" y2="794.7" stroke="#8385c6" stroke-width="2.0"/>
<line x1="833.7" y1="786.9" x2="833.7" y2="802.5" stroke="#8385c6" stroke-width="2.0" stroke-linecap="square"/>
<line x1="833.7" y1="786.9" x2="896.2" y2="786.9" stroke="#8385c6" stroke-width="2.0"/>
<line x1="833.7" y1="802.5" x2="859.3" y2="802.5" stroke="#8385c6" stroke-width="2.0"/>
<line x1="858.3" y1="797.3" x2="858.3" y2="807.7" stroke="#8385c6" stroke-width="2.0" stroke-linecap="square"/>
<line x1="858.3" y1="797.3" x2="903.9" y2="797.3" stroke="#8385c6" stroke-width="2.0"/>
<line x1="858.3" y1="807.7" x2="911.5" y2="807.7" stroke="#8385c6" stroke-width="2.0"/>
<line x1="627.7" y1="898.5" x2="643.5" y2="898.5" stroke="#111" stroke-width="2.0"/>
<line x1="642.5" y1="828.8" x2="642.5" y2="968.1" stroke="#111" stroke-width="2.0" stroke-linecap="square"/>
<line x1="642.5" y1="828.8" x2="661.1" y2="828.8" stroke="#111" stroke-width="2.0"/>
<line x1="660.1" y1="818" x2="660.1" y2="839.6" stroke="#111" stroke-width="2.0" stroke-linecap="square"/>
<line x1="660.1" y1="818" x2="809.2" y2="818" stroke="#a5cbe7" stroke-width="2.0"/>
<line x1="660.1" y1="839.6" x2="674.4" y2="839.6" stroke="#111" stroke-width="2.0"/>
<line x1="673.4" y1="828.4" x2="673.4" y2="850.8" stroke="#111" stroke-width="2.0" stroke-linecap="square"/>
<line x1="673.4" y1="828.4" x2="932.7" y2="828.4" stroke="#93a487" stroke-width="2.0"/>
<line x1="673.4" y1="850.8" x2="773.2" y2="850.8" stroke="#ecb1c0" stroke-width="2.0"/>
<line x1="772.2" y1="838.8" x2="772.2" y2="862.9" stroke="#ecb1c0" stroke-width="2.0" stroke-linecap="square"/>
<line x1="772.2" y1="838.8" x2="854.6" y2="838.8" stroke="#ecb1c0" stroke-width="2.0"/>
<line x1="772.2" y1="862.9" x2="841.7" y2="862.9" stroke="#ecb1c0" stroke-width="2.0"/>
<line x1="840.7" y1="849.2" x2="840.7" y2="876.5" stroke="#ecb1c0" stroke-width="2.0" stroke-linecap="square"/>
<line x1="840.7" y1="849.2" x2="882.7" y2="849.2" stroke="#ecb1c0" stroke-width="2.0"/>
<line x1="840.7" y1="876.5" x2="851.9" y2="876.5" stroke="#ecb1c0" stroke-width="2.0"/>
<line x1="850.9" y1="864.8" x2="850.9" y2="888.2" stroke="#ecb1c0" stroke-width="2.0" stroke-linecap="square"/>
<line x1="850.9" y1="864.8" x2="885.2" y2="864.8" stroke="#ecb1c0" stroke-width="2.0"/>
<line x1="884.2" y1="859.6" x2="884.2" y2="870" stroke="#ecb1c0" stroke-width="2.0" stroke-linecap="square"/>
<line x1="884.2" y1="859.6" x2="892" y2="859.6" stroke="#ecb1c0" stroke-width="2.0"/>
<line x1="884.2" y1="870" x2="891" y2="870" stroke="#ecb1c0" stroke-width="2.0"/>
<line x1="850.9" y1="888.2" x2="868" y2="888.2" stroke="#ecb1c0" stroke-width="2.0"/>
<line x1="867" y1="880.4" x2="867" y2="896" stroke="#ecb1c0" stroke-width="2.0" stroke-linecap="square"/>
<line x1="867" y1="880.4" x2="900.3" y2="880.4" stroke="#ecb1c0" stroke-width="2.0"/>
<line x1="867" y1="896" x2="881.5" y2="896" stroke="#ecb1c0" stroke-width="2.0"/>
<line x1="880.5" y1="890.8" x2="880.5" y2="901.2" stroke="#ecb1c0" stroke-width="2.0" stroke-linecap="square"/>
<line x1="880.5" y1="890.8" x2="902.7" y2="890.8" stroke="#ecb1c0" stroke-width="2.0"/>
<line x1="880.5" y1="901.2" x2="902.7" y2="901.2" stroke="#ecb1c0" stroke-width="2.0"/>
<line x1="642.5" y1="968.1" x2="656.1" y2="968.1" stroke="#111" stroke-width="2.0"/>
<line x1="655.1" y1="911.6" x2="655.1" y2="1024.6" stroke="#111" stroke-width="2.0" stroke-linecap="square"/>
<line x1="655.1" y1="911.6" x2="842.5" y2="911.6" stroke="#c3abdc" stroke-width="2.0"/>
<line x1="655.1" y1="1024.6" x2="678.1" y2="1024.6" stroke="#4d67ab" stroke-width="2.0"/>
<line x1="677.1" y1="949.2" x2="677.1" y2="1100" stroke="#4d67ab" stroke-width="2.0" stroke-linecap="square"/>
<line x1="677.1" y1="949.2" x2="737.6" y2="949.2" stroke="#4d67ab" stroke-width="2.0"/>
<line x1="736.6" y1="929.8" x2="736.6" y2="968.7" stroke="#4d67ab" stroke-width="2.0" stroke-linecap="square"/>
<line x1="736.6" y1="929.8" x2="852.8" y2="929.8" stroke="#4d67ab" stroke-width="2.0"/>
<line x1="851.8" y1="922" x2="851.8" y2="937.6" stroke="#4d67ab" stroke-width="2.0" stroke-linecap="square"/>
<line x1="851.8" y1="922" x2="874" y2="922" stroke="#4d67ab" stroke-width="2.0"/>
<line x1="851.8" y1="937.6" x2="859.6" y2="937.6" stroke="#4d67ab" stroke-width="2.0"/>
<line x1="858.6" y1="932.4" x2="858.6" y2="942.7" stroke="#4d67ab" stroke-width="2.0" stroke-linecap="square"/>
<line x1="858.6" y1="932.4" x2="871" y2="932.4" stroke="#4d67ab" stroke-width="2.0"/>
<line x1="858.6" y1="942.7" x2="871" y2="942.7" stroke="#4d67ab" stroke-width="2.0"/>
<line x1="736.6" y1="968.7" x2="779.3" y2="968.7" stroke="#4d67ab" stroke-width="2.0"/>
<line x1="778.3" y1="958.3" x2="778.3" y2="979.1" stroke="#4d67ab" stroke-width="2.0" stroke-linecap="square"/>
<line x1="778.3" y1="958.3" x2="842" y2="958.3" stroke="#4d67ab" stroke-width="2.0"/>
<line x1="841" y1="953.1" x2="841" y2="963.5" stroke="#4d67ab" stroke-width="2.0" stroke-linecap="square"/>
<line x1="841" y1="953.1" x2="893.2" y2="953.1" stroke="#4d67ab" stroke-width="2.0"/>
<line x1="841" y1="963.5" x2="885.5" y2="963.5" stroke="#4d67ab" stroke-width="2.0"/>
<line x1="778.3" y1="979.1" x2="849.4" y2="979.1" stroke="#4d67ab" stroke-width="2.0"/>
<line x1="848.4" y1="973.9" x2="848.4" y2="984.3" stroke="#4d67ab" stroke-width="2.0" stroke-linecap="square"/>
<line x1="848.4" y1="973.9" x2="876.2" y2="973.9" stroke="#4d67ab" stroke-width="2.0"/>
<line x1="848.4" y1="984.3" x2="871.6" y2="984.3" stroke="#4d67ab" stroke-width="2.0"/>
<line x1="677.1" y1="1100" x2="709.9" y2="1100" stroke="#4d67ab" stroke-width="2.0"/>
<line x1="708.9" y1="1039.2" x2="708.9" y2="1160.7" stroke="#4d67ab" stroke-width="2.0" stroke-linecap="square"/>
<line x1="708.9" y1="1039.2" x2="772.2" y2="1039.2" stroke="#4d67ab" stroke-width="2.0"/>
<line x1="771.2" y1="1007.7" x2="771.2" y2="1070.7" stroke="#4d67ab" stroke-width="2.0" stroke-linecap="square"/>
<line x1="771.2" y1="1007.7" x2="787.4" y2="1007.7" stroke="#4d67ab" stroke-width="2.0"/>
<line x1="786.4" y1="994.7" x2="786.4" y2="1020.7" stroke="#4d67ab" stroke-width="2.0" stroke-linecap="square"/>
<line x1="786.4" y1="994.7" x2="888.9" y2="994.7" stroke="#4d67ab" stroke-width="2.0"/>
<line x1="786.4" y1="1020.7" x2="805.9" y2="1020.7" stroke="#4d67ab" stroke-width="2.0"/>
<line x1="804.9" y1="1010.3" x2="804.9" y2="1031.1" stroke="#4d67ab" stroke-width="2.0" stroke-linecap="square"/>
<line x1="804.9" y1="1010.3" x2="862.7" y2="1010.3" stroke="#4d67ab" stroke-width="2.0"/>
<line x1="861.7" y1="1005.1" x2="861.7" y2="1015.5" stroke="#4d67ab" stroke-width="2.0" stroke-linecap="square"/>
<line x1="861.7" y1="1005.1" x2="916.6" y2="1005.1" stroke="#4d67ab" stroke-width="2.0"/>
<line x1="861.7" y1="1015.5" x2="915.7" y2="1015.5" stroke="#4d67ab" stroke-width="2.0"/>
<line x1="804.9" y1="1031.1" x2="850.3" y2="1031.1" stroke="#4d67ab" stroke-width="2.0"/>
<line x1="849.3" y1="1025.9" x2="849.3" y2="1036.3" stroke="#4d67ab" stroke-width="2.0" stroke-linecap="square"/>
<line x1="849.3" y1="1025.9" x2="893.5" y2="1025.9" stroke="#4d67ab" stroke-width="2.0"/>
<line x1="849.3" y1="1036.3" x2="880.8" y2="1036.3" stroke="#4d67ab" stroke-width="2.0"/>
<line x1="771.2" y1="1070.7" x2="824.1" y2="1070.7" stroke="#4d67ab" stroke-width="2.0"/>
<line x1="823.1" y1="1054.5" x2="823.1" y2="1086.9" stroke="#4d67ab" stroke-width="2.0" stroke-linecap="square"/>
<line x1="823.1" y1="1054.5" x2="838.9" y2="1054.5" stroke="#4d67ab" stroke-width="2.0"/>
<line x1="837.9" y1="1046.7" x2="837.9" y2="1062.3" stroke="#4d67ab" stroke-width="2.0" stroke-linecap="square"/>
<line x1="837.9" y1="1046.7" x2="894.7" y2="1046.7" stroke="#4d67ab" stroke-width="2.0"/>
<line x1="837.9" y1="1062.3" x2="872.6" y2="1062.3" stroke="#4d67ab" stroke-width="2.0"/>
<line x1="871.6" y1="1057.1" x2="871.6" y2="1067.5" stroke="#4d67ab" stroke-width="2.0" stroke-linecap="square"/>
<line x1="871.6" y1="1057.1" x2="918.2" y2="1057.1" stroke="#4d67ab" stroke-width="2.0"/>
<line x1="871.6" y1="1067.5" x2="942" y2="1067.5" stroke="#4d67ab" stroke-width="2.0"/>
<line x1="823.1" y1="1086.9" x2="853.7" y2="1086.9" stroke="#4d67ab" stroke-width="2.0"/>
<line x1="852.7" y1="1077.8" x2="852.7" y2="1096" stroke="#4d67ab" stroke-width="2.0" stroke-linecap="square"/>
<line x1="852.7" y1="1077.8" x2="908" y2="1077.8" stroke="#4d67ab" stroke-width="2.0"/>
<line x1="852.7" y1="1096" x2="867.3" y2="1096" stroke="#4d67ab" stroke-width="2.0"/>
<line x1="866.3" y1="1088.2" x2="866.3" y2="1103.8" stroke="#4d67ab" stroke-width="2.0" stroke-linecap="square"/>
<line x1="866.3" y1="1088.2" x2="897.8" y2="1088.2" stroke="#4d67ab" stroke-width="2.0"/>
<line x1="866.3" y1="1103.8" x2="891.4" y2="1103.8" stroke="#4d67ab" stroke-width="2.0"/>
<line x1="890.4" y1="1098.6" x2="890.4" y2="1109" stroke="#4d67ab" stroke-width="2.0" stroke-linecap="square"/>
<line x1="890.4" y1="1098.6" x2="902.4" y2="1098.6" stroke="#4d67ab" stroke-width="2.0"/>
<line x1="890.4" y1="1109" x2="901.2" y2="1109" stroke="#4d67ab" stroke-width="2.0"/>
<line x1="708.9" y1="1160.7" x2="770.7" y2="1160.7" stroke="#4d67ab" stroke-width="2.0"/>
<line x1="769.7" y1="1127.2" x2="769.7" y2="1194.3" stroke="#4d67ab" stroke-width="2.0" stroke-linecap="square"/>
<line x1="769.7" y1="1127.2" x2="855.6" y2="1127.2" stroke="#4d67ab" stroke-width="2.0"/>
<line x1="854.6" y1="1119.4" x2="854.6" y2="1135" stroke="#4d67ab" stroke-width="2.0" stroke-linecap="square"/>
<line x1="854.6" y1="1119.4" x2="869.4" y2="1119.4" stroke="#4d67ab" stroke-width="2.0"/>
<line x1="854.6" y1="1135" x2="863" y2="1135" stroke="#4d67ab" stroke-width="2.0"/>
<line x1="862" y1="1129.8" x2="862" y2="1140.2" stroke="#4d67ab" stroke-width="2.0" stroke-linecap="square"/>
<line x1="862" y1="1129.8" x2="875" y2="1129.8" stroke="#4d67ab" stroke-width="2.0"/>
<line x1="862" y1="1140.2" x2="871.9" y2="1140.2" stroke="#4d67ab" stroke-width="2.0"/>
<line x1="769.7" y1="1194.3" x2="782.7" y2="1194.3" stroke="#4d67ab" stroke-width="2.0"/>
<line x1="781.7" y1="1158.4" x2="781.7" y2="1230.2" stroke="#4d67ab" stroke-width="2.0" stroke-linecap="square"/>
<line x1="781.7" y1="1158.4" x2="841" y2="1158.4" stroke="#4d67ab" stroke-width="2.0"/>
<line x1="840" y1="1150.6" x2="840" y2="1166.2" stroke="#4d67ab" stroke-width="2.0" stroke-linecap="square"/>
<line x1="840" y1="1150.6" x2="911.1" y2="1150.6" stroke="#4d67ab" stroke-width="2.0"/>
<line x1="840" y1="1166.2" x2="895.7" y2="1166.2" stroke="#4d67ab" stroke-width="2.0"/>
<line x1="894.7" y1="1161" x2="894.7" y2="1171.4" stroke="#4d67ab" stroke-width="2.0" stroke-linecap="square"/>
<line x1="894.7" y1="1161" x2="924.4" y2="1161" stroke="#4d67ab" stroke-width="2.0"/>
<line x1="894.7" y1="1171.4" x2="923.4" y2="1171.4" stroke="#4d67ab" stroke-width="2.0"/>
<line x1="781.7" y1="1230.2" x2="797.9" y2="1230.2" stroke="#4d67ab" stroke-width="2.0"/>
<line x1="796.9" y1="1195.4" x2="796.9" y2="1264.9" stroke="#4d67ab" stroke-width="2.0" stroke-linecap="square"/>
<line x1="796.9" y1="1195.4" x2="842" y2="1195.4" stroke="#4d67ab" stroke-width="2.0"/>
<line x1="841" y1="1181.8" x2="841" y2="1209" stroke="#4d67ab" stroke-width="2.0" stroke-linecap="square"/>
<line x1="841" y1="1181.8" x2="906.5" y2="1181.8" stroke="#4d67ab" stroke-width="2.0"/>
<line x1="841" y1="1209" x2="858.4" y2="1209" stroke="#4d67ab" stroke-width="2.0"/>
<line x1="857.4" y1="1197.4" x2="857.4" y2="1220.7" stroke="#4d67ab" stroke-width="2.0" stroke-linecap="square"/>
<line x1="857.4" y1="1197.4" x2="888.3" y2="1197.4" stroke="#4d67ab" stroke-width="2.0"/>
<line x1="887.3" y1="1192.2" x2="887.3" y2="1202.5" stroke="#4d67ab" stroke-width="2.0" stroke-linecap="square"/>
<line x1="887.3" y1="1192.2" x2="924.4" y2="1192.2" stroke="#4d67ab" stroke-width="2.0"/>
<line x1="887.3" y1="1202.5" x2="934.9" y2="1202.5" stroke="#4d67ab" stroke-width="2.0"/>
<line x1="857.4" y1="1220.7" x2="885.8" y2="1220.7" stroke="#4d67ab" stroke-width="2.0"/>
<line x1="884.8" y1="1212.9" x2="884.8" y2="1228.5" stroke="#4d67ab" stroke-width="2.0" stroke-linecap="square"/>
<line x1="884.8" y1="1212.9" x2="909.5" y2="1212.9" stroke="#4d67ab" stroke-width="2.0"/>
<line x1="884.8" y1="1228.5" x2="894.5" y2="1228.5" stroke="#4d67ab" stroke-width="2.0"/>
<line x1="893.5" y1="1223.3" x2="893.5" y2="1233.7" stroke="#4d67ab" stroke-width="2.0" stroke-linecap="square"/>
<line x1="893.5" y1="1223.3" x2="930.5" y2="1223.3" stroke="#4d67ab" stroke-width="2.0"/>
<line x1="893.5" y1="1233.7" x2="932.1" y2="1233.7" stroke="#4d67ab" stroke-width="2.0"/>
<line x1="796.9" y1="1264.9" x2="819.8" y2="1264.9" stroke="#4d67ab" stroke-width="2.0"/>
<line x1="818.8" y1="1249.3" x2="818.8" y2="1280.5" stroke="#4d67ab" stroke-width="2.0" stroke-linecap="square"/>
<line x1="818.8" y1="1249.3" x2="855.9" y2="1249.3" stroke="#4d67ab" stroke-width="2.0"/>
<line x1="854.9" y1="1244.1" x2="854.9" y2="1254.5" stroke="#4d67ab" stroke-width="2.0" stroke-linecap="square"/>
<line x1="854.9" y1="1244.1" x2="904" y2="1244.1" stroke="#4d67ab" stroke-width="2.0"/>
<line x1="854.9" y1="1254.5" x2="910.2" y2="1254.5" stroke="#4d67ab" stroke-width="2.0"/>
<line x1="818.8" y1="1280.5" x2="855.9" y2="1280.5" stroke="#4d67ab" stroke-width="2.0"/>
<line x1="854.9" y1="1270.1" x2="854.9" y2="1290.9" stroke="#4d67ab" stroke-width="2.0" stroke-linecap="square"/>
<line x1="854.9" y1="1270.1" x2="864.2" y2="1270.1" stroke="#4d67ab" stroke-width="2.0"/>
<line x1="863.2" y1="1264.9" x2="863.2" y2="1275.3" stroke="#4d67ab" stroke-width="2.0" stroke-linecap="square"/>
<line x1="863.2" y1="1264.9" x2="900.3" y2="1264.9" stroke="#4d67ab" stroke-width="2.0"/>
<line x1="863.2" y1="1275.3" x2="891.6" y2="1275.3" stroke="#4d67ab" stroke-width="2.0"/>
<line x1="854.9" y1="1290.9" x2="862.7" y2="1290.9" stroke="#4d67ab" stroke-width="2.0"/>
<line x1="861.7" y1="1285.7" x2="861.7" y2="1296.1" stroke="#4d67ab" stroke-width="2.0" stroke-linecap="square"/>
<line x1="861.7" y1="1285.7" x2="886.4" y2="1285.7" stroke="#4d67ab" stroke-width="2.0"/>
<line x1="861.7" y1="1296.1" x2="897.8" y2="1296.1" stroke="#4d67ab" stroke-width="2.0"/>
<g fill="#000"><circle cx="729.2" cy="106.2" r="3.1"/>
<circle cx="736.6" cy="147.8" r="3.1"/>
<circle cx="709.2" cy="140" r="3.1"/>
<circle cx="659.8" cy="118.5" r="3.1"/>
<circle cx="752.7" cy="189.3" r="3.1"/>
<circle cx="815.4" cy="210.1" r="3.1"/>
<circle cx="777.7" cy="233.5" r="3.1"/>
<circle cx="745.3" cy="221.8" r="3.1"/>
<circle cx="713.5" cy="205.6" r="3.1"/>
<circle cx="640.3" cy="176.5" r="3.1"/>
<circle cx="691.9" cy="272.5" r="3.1"/>
<circle cx="657.9" cy="264.7" r="3.1"/>
<circle cx="840" cy="334.8" r="3.1"/>
<circle cx="815.4" cy="327" r="3.1"/>
<circle cx="761.3" cy="317.9" r="3.1"/>
<circle cx="861.1" cy="376.4" r="3.1"/>
<circle cx="820.9" cy="368.6" r="3.1"/>
<circle cx="860.8" cy="438.7" r="3.1"/>
<circle cx="840.7" cy="415.4" r="3.1"/>
<circle cx="827.1" cy="403.7" r="3.1"/>
<circle cx="757" cy="381.6" r="3.1"/>
<circle cx="728.9" cy="324.1" r="3.1"/>
<circle cx="710.7" cy="306.1" r="3.1"/>
<circle cx="757" cy="469.9" r="3.1"/>
<circle cx="779" cy="503.7" r="3.1"/>
<circle cx="758.3" cy="494.6" r="3.1"/>
<circle cx="811.4" cy="555.6" r="3.1"/>
<circle cx="795.6" cy="546.6" r="3.1"/>
<circle cx="759.2" cy="536.8" r="3.1"/>
<circle cx="854.9" cy="605" r="3.1"/>
<circle cx="825.3" cy="638.8" r="3.1"/>
<circle cx="896.6" cy="677.8" r="3.1"/>
<circle cx="869.1" cy="711.5" r="3.1"/>
<circle cx="847.8" cy="690.1" r="3.1"/>
<circle cx="797.2" cy="652.9" r="3.1"/>
<circle cx="763.2" cy="609.2" r="3.1"/>
<circle cx="737" cy="594.1" r="3.1"/>
<circle cx="704.2" cy="498.9" r="3.1"/>
<circle cx="663.2" cy="402.5" r="3.1"/>
<circle cx="636.9" cy="333.6" r="3.1"/>
<circle cx="716.6" cy="740.1" r="3.1"/>
<circle cx="857.3" cy="771.3" r="3.1"/>
<circle cx="809.4" cy="763.5" r="3.1"/>
<circle cx="858.3" cy="802.5" r="3.1"/>
<circle cx="833.7" cy="794.7" r="3.1"/>
<circle cx="790.7" cy="779.1" r="3.1"/>
<circle cx="648.7" cy="759.6" r="3.1"/>
<circle cx="884.2" cy="864.8" r="3.1"/>
<circle cx="880.5" cy="896" r="3.1"/>
<circle cx="867" cy="888.2" r="3.1"/>
<circle cx="840.7" cy="862.9" r="3.1"/>
<circle cx="772.2" cy="850.8" r="3.1"/>
<circle cx="660.1" cy="828.8" r="3.1"/>
<circle cx="851.8" cy="929.8" r="3.1"/>
<circle cx="841" cy="958.3" r="3.1"/>
<circle cx="848.4" cy="979.1" r="3.1"/>
<circle cx="778.3" cy="968.7" r="3.1"/>
<circle cx="736.6" cy="949.2" r="3.1"/>
<circle cx="861.7" cy="1010.3" r="3.1"/>
<circle cx="849.3" cy="1031.1" r="3.1"/>
<circle cx="804.9" cy="1020.7" r="3.1"/>
<circle cx="786.4" cy="1007.7" r="3.1"/>
<circle cx="871.6" cy="1062.3" r="3.1"/>
<circle cx="837.9" cy="1054.5" r="3.1"/>
<circle cx="890.4" cy="1103.8" r="3.1"/>
<circle cx="866.3" cy="1096" r="3.1"/>
<circle cx="852.7" cy="1086.9" r="3.1"/>
<circle cx="823.1" cy="1070.7" r="3.1"/>
<circle cx="771.2" cy="1039.2" r="3.1"/>
<circle cx="862" cy="1135" r="3.1"/>
<circle cx="854.6" cy="1127.2" r="3.1"/>
<circle cx="894.7" cy="1166.2" r="3.1"/>
<circle cx="840" cy="1158.4" r="3.1"/>
<circle cx="887.3" cy="1197.4" r="3.1"/>
<circle cx="884.8" cy="1220.7" r="3.1"/>
<circle cx="857.4" cy="1209" r="3.1"/>
<circle cx="841" cy="1195.4" r="3.1"/>
<circle cx="854.9" cy="1249.3" r="3.1"/>
<circle cx="854.9" cy="1280.5" r="3.1"/>
<circle cx="818.8" cy="1264.9" r="3.1"/>
<circle cx="796.9" cy="1230.2" r="3.1"/>
<circle cx="781.7" cy="1194.3" r="3.1"/>
<circle cx="769.7" cy="1160.7" r="3.1"/>
<circle cx="708.9" cy="1100" r="3.1"/>
<circle cx="677.1" cy="1024.6" r="3.1"/>
<circle cx="655.1" cy="968.1" r="3.1"/>
<circle cx="642.5" cy="898.5" r="3.1"/>
<circle cx="618.7" cy="581.3" r="3.1"/></g>
<rect x="945.7" y="95.8" width="27.9" height="10.4" fill="#d4e2fb"/>
<rect x="945.7" y="106.2" width="27.9" height="10.4" fill="#d5eed2"/>
<rect x="945.7" y="116.6" width="27.9" height="10.4" fill="#fdecd8"/>
<rect x="945.7" y="127" width="27.9" height="10.4" fill="#d5eed2"/>
<rect x="945.7" y="137.4" width="27.9" height="20.8" fill="#d4e2fb"/>
<rect x="945.7" y="158.2" width="27.9" height="10.4" fill="#fdecd8"/>
<rect x="945.7" y="168.5" width="27.9" height="10.4" fill="#d4e2fb"/>
<rect x="945.7" y="178.9" width="27.9" height="20.8" fill="#fdecd8"/>
<rect x="945.7" y="199.7" width="27.9" height="10.4" fill="#d5eed2"/>
<rect x="945.7" y="210.1" width="27.9" height="10.4" fill="#fdecd8"/>
<rect x="945.7" y="220.5" width="27.9" height="52" fill="#d4e2fb"/>
<rect x="945.7" y="272.5" width="27.9" height="10.4" fill="#fdecd8"/>
<rect x="945.7" y="282.9" width="27.9" height="10.4" fill="#d4e2fb"/>
<rect x="945.7" y="293.2" width="27.9" height="20.8" fill="#fdecd8"/>
<rect x="945.7" y="314" width="27.9" height="31.2" fill="#d4e2fb"/>
<rect x="945.7" y="345.2" width="27.9" height="10.4" fill="#d5eed2"/>
<rect x="945.7" y="355.6" width="27.9" height="10.4" fill="#fdecd8"/>
<rect x="945.7" y="366" width="27.9" height="20.8" fill="#d5eed2"/>
<rect x="945.7" y="386.8" width="27.9" height="41.6" fill="#fdecd8"/>
<rect x="945.7" y="428.3" width="27.9" height="20.8" fill="#cfc2a3"/>
<rect x="945.7" y="449.1" width="27.9" height="52" fill="#d4e2fb"/>
<rect x="945.7" y="501.1" width="27.9" height="20.8" fill="#fdecd8"/>
<rect x="945.7" y="521.9" width="27.9" height="31.2" fill="#d4e2fb"/>
<rect x="945.7" y="553" width="27.9" height="20.8" fill="#fdecd8"/>
<rect x="945.7" y="573.8" width="27.9" height="10.4" fill="#d4e2fb"/>
<rect x="945.7" y="584.2" width="27.9" height="31.2" fill="#d5eed2"/>
<rect x="945.7" y="615.4" width="27.9" height="10.4" fill="#fdecd8"/>
<rect x="945.7" y="625.8" width="27.9" height="20.8" fill="#d5eed2"/>
<rect x="945.7" y="646.6" width="27.9" height="10.4" fill="#fdecd8"/>
<rect x="945.7" y="657" width="27.9" height="10.4" fill="#d5eed2"/>
<rect x="945.7" y="667.4" width="27.9" height="31.2" fill="#fdecd8"/>
<rect x="945.7" y="698.5" width="27.9" height="10.4" fill="#d5eed2"/>
<rect x="945.7" y="708.9" width="27.9" height="10.4" fill="#cfc2a3"/>
<rect x="945.7" y="719.3" width="27.9" height="20.8" fill="#d5eed2"/>
<rect x="945.7" y="740.1" width="27.9" height="10.4" fill="#fdecd8"/>
<rect x="945.7" y="750.5" width="27.9" height="31.2" fill="#d4e2fb"/>
<rect x="945.7" y="781.7" width="27.9" height="10.4" fill="#cfc2a3"/>
<rect x="945.7" y="792.1" width="27.9" height="10.4" fill="#fdecd8"/>
<rect x="945.7" y="802.5" width="27.9" height="10.4" fill="#cfc2a3"/>
<rect x="945.7" y="812.8" width="27.9" height="20.8" fill="#d4e2fb"/>
<rect x="945.7" y="833.6" width="27.9" height="10.4" fill="#d5eed2"/>
<rect x="945.7" y="844" width="27.9" height="10.4" fill="#cfc2a3"/>
<rect x="945.7" y="854.4" width="27.9" height="20.8" fill="#fdecd8"/>
<rect x="945.7" y="875.2" width="27.9" height="31.2" fill="#d4e2fb"/>
<rect x="945.7" y="906.4" width="27.9" height="31.2" fill="#cfc2a3"/>
<rect x="945.7" y="937.6" width="27.9" height="10.4" fill="#fdecd8"/>
<rect x="945.7" y="947.9" width="27.9" height="41.6" fill="#d5eed2"/>
<rect x="945.7" y="989.5" width="27.9" height="31.2" fill="#d4e2fb"/>
<rect x="945.7" y="1020.7" width="27.9" height="20.8" fill="#cfc2a3"/>
<rect x="945.7" y="1041.5" width="27.9" height="10.4" fill="#fdecd8"/>
<rect x="945.7" y="1051.9" width="27.9" height="10.4" fill="#d5eed2"/>
<rect x="945.7" y="1062.3" width="27.9" height="41.6" fill="#fdecd8"/>
<rect x="945.7" y="1103.8" width="27.9" height="10.4" fill="#cfc2a3"/>
<rect x="945.7" y="1114.2" width="27.9" height="41.6" fill="#d5eed2"/>
<rect x="945.7" y="1155.8" width="27.9" height="20.8" fill="#fdecd8"/>
<rect x="945.7" y="1176.6" width="27.9" height="72.7" fill="#d5eed2"/>
<rect x="945.7" y="1249.3" width="27.9" height="20.8" fill="#fdecd8"/>
<rect x="945.7" y="1270.1" width="27.9" height="10.4" fill="#d5eed2"/>
<rect x="945.7" y="1280.5" width="27.9" height="20.8" fill="#cfc2a3"/>
<rect x="982.5" y="95.8" width="8.5" height="62.4" fill="#e6c787"/>
<rect x="982.5" y="158.2" width="8.5" height="93.5" fill="#1a7d70"/>
<rect x="982.5" y="251.7" width="8.5" height="10.4" fill="#ad1860"/>
<rect x="982.5" y="262.1" width="8.5" height="20.8" fill="#bf7a82"/>
<rect x="982.5" y="282.9" width="8.5" height="446.9" fill="#5bb7a7"/>
<rect x="982.5" y="729.7" width="8.5" height="20.8" fill="#f0a07a"/>
<rect x="982.5" y="750.5" width="8.5" height="62.4" fill="#8587c8"/>
<rect x="982.5" y="812.8" width="8.5" height="10.4" fill="#a3cbe6"/>
<rect x="982.5" y="823.2" width="8.5" height="10.4" fill="#94a788"/>
<rect x="982.5" y="833.6" width="8.5" height="72.7" fill="#ecb4c6"/>
<rect x="982.5" y="906.4" width="8.5" height="10.4" fill="#b9a6dc"/>
<rect x="982.5" y="916.8" width="8.5" height="384.5" fill="#4a62a8"/>
<g font-size="7.8" fill="#111">
<text x="945.8" y="104">bin.114</text>
<text x="945.8" y="114.4">bin.111</text>
<text x="945.8" y="124.8">bin.26</text>
<text x="945.8" y="135.2">bin.10</text>
<text x="945.8" y="145.6">bin.99</text>
<text x="945.8" y="156">bin.41</text>
<text x="945.8" y="166.3">bin.77</text>
<text x="945.8" y="176.7">bin.129</text>
<text x="945.8" y="187.1">bin.64</text>
<text x="945.8" y="197.5">bin.120</text>
<text x="945.8" y="207.9">bin.72</text>
<text x="945.8" y="218.3">bin.36</text>
<text x="945.8" y="228.7">bin.80</text>
<text x="945.8" y="239.1">bin.5</text>
<text x="945.8" y="249.5">bin.33</text>
<text x="945.8" y="259.9">bin.127</text>
<text x="945.8" y="270.3">bin.78</text>
<text x="945.8" y="280.7">bin.66</text>
<text x="945.8" y="291.1">bin.86</text>
<text x="945.8" y="301.4">bin.84</text>
<text x="945.8" y="311.8">bin.68</text>
<text x="945.8" y="322.2">bin.44</text>
<text x="945.8" y="332.6">bin.56</text>
<text x="945.8" y="343">bin.2</text>
<text x="945.8" y="353.4">bin.81</text>
<text x="945.8" y="363.8">bin.24</text>
<text x="945.8" y="374.2">bin.39</text>
<text x="945.8" y="384.6">bin.115</text>
<text x="945.8" y="395">bin.51</text>
<text x="945.8" y="405.4">bin.100</text>
<text x="945.8" y="415.8">bin.13</text>
<text x="945.8" y="426.1">bin.55</text>
<text x="945.8" y="436.5">bin.58</text>
<text x="945.8" y="446.9">bin.23</text>
<text x="945.8" y="457.3">bin.4</text>
<text x="945.8" y="467.7">bin.16</text>
<text x="945.8" y="478.1">bin.97</text>
<text x="945.8" y="488.5">bin.96</text>
<text x="945.8" y="498.9">bin.34</text>
<text x="945.8" y="509.3">bin.8</text>
<text x="945.8" y="519.7">bin.76</text>
<text x="945.8" y="530.1">bin.25</text>
<text x="945.8" y="540.5">bin.74</text>
<text x="945.8" y="550.9">bin.126</text>
<text x="945.8" y="561.2">bin.88</text>
<text x="945.8" y="571.6">bin.28</text>
<text x="945.8" y="582">bin.119</text>
<text x="945.8" y="592.4">bin.102</text>
<text x="945.8" y="602.8">bin.82</text>
<text x="945.8" y="613.2">bin.45</text>
<text x="945.8" y="623.6">bin.117</text>
<text x="945.8" y="634">bin.6</text>
<text x="945.8" y="644.4">bin.87</text>
<text x="945.8" y="654.8">bin.21</text>
<text x="945.8" y="665.2">bin.93</text>
<text x="945.8" y="675.6">bin.49</text>
<text x="945.8" y="685.9">bin.128</text>
<text x="945.8" y="696.3">bin.38</text>
<text x="945.8" y="706.7">bin.131</text>
<text x="945.8" y="717.1">bin.31</text>
<text x="945.8" y="727.5">bin.125</text>
<text x="945.8" y="737.9">bin.59</text>
<text x="945.8" y="748.3">bin.22</text>
<text x="945.8" y="758.7">bin.3</text>
<text x="945.8" y="769.1">bin.46</text>
<text x="945.8" y="779.5">bin.12</text>
<text x="945.8" y="789.9">bin.32</text>
<text x="945.8" y="800.3">bin.18</text>
<text x="945.8" y="810.7">bin.113</text>
<text x="945.8" y="821">bin.37</text>
<text x="945.8" y="831.4">bin.130</text>
<text x="945.8" y="841.8">bin.122</text>
<text x="945.8" y="852.2">bin.52</text>
<text x="945.8" y="862.6">bin.123</text>
<text x="945.8" y="873">bin.116</text>
<text x="945.8" y="883.4">bin.124</text>
<text x="945.8" y="893.8">bin.98</text>
<text x="945.8" y="904.2">bin.1</text>
<text x="945.8" y="914.6">bin.109</text>
<text x="945.8" y="925">bin.71</text>
<text x="945.8" y="935.4">bin.69</text>
<text x="945.8" y="945.7">bin.112</text>
<text x="945.8" y="956.1">bin.73</text>
<text x="945.8" y="966.5">bin.107</text>
<text x="945.8" y="976.9">bin.75</text>
<text x="945.8" y="987.3">bin.60</text>
<text x="945.8" y="997.7">bin.42</text>
<text x="945.8" y="1008.1">bin.47</text>
<text x="945.8" y="1018.5">bin.121</text>
<text x="945.8" y="1028.9">bin.50</text>
<text x="945.8" y="1039.3">bin.20</text>
<text x="945.8" y="1049.7">bin.17</text>
<text x="945.8" y="1060.1">bin.92</text>
<text x="945.8" y="1070.5">bin.70</text>
<text x="945.8" y="1080.8">bin.57</text>
<text x="945.8" y="1091.2">bin.67</text>
<text x="945.8" y="1101.6">bin.40</text>
<text x="945.8" y="1112">bin.35</text>
<text x="945.8" y="1122.4">bin.19</text>
<text x="945.8" y="1132.8">bin.79</text>
<text x="945.8" y="1143.2">bin.27</text>
<text x="945.8" y="1153.6">bin.89</text>
<text x="945.8" y="1164">bin.14</text>
<text x="945.8" y="1174.4">bin.106</text>
<text x="945.8" y="1184.8">bin.65</text>
<text x="945.8" y="1195.2">bin.62</text>
<text x="945.8" y="1205.5">bin.15</text>
<text x="945.8" y="1215.9">bin.61</text>
<text x="945.8" y="1226.3">bin.7</text>
<text x="945.8" y="1236.7">bin.83</text>
<text x="945.8" y="1247.1">bin.48</text>
<text x="945.8" y="1257.5">bin.110</text>
<text x="945.8" y="1267.9">bin.30</text>
<text x="945.8" y="1278.3">bin.101</text>
<text x="945.8" y="1288.7">bin.63</text>
<text x="945.8" y="1299.1">bin.54</text>
</g>
<circle cx="977.8" cy="433.5" r="3.9" fill="#fbd77a"/>
<circle cx="977.8" cy="443.9" r="3.9" fill="#a9c4f8"/>
<circle cx="977.8" cy="714.1" r="3.9" fill="#a8cdbd"/>
<circle cx="977.8" cy="786.9" r="3.9" fill="#a9c4f8"/>
<circle cx="977.8" cy="807.7" r="3.9" fill="#a9c4f8"/>
<circle cx="977.8" cy="849.2" r="3.9" fill="#fbd77a"/>
<circle cx="977.8" cy="911.6" r="3.9" fill="#a8cdbd"/>
<circle cx="977.8" cy="922" r="3.9" fill="#fbd77a"/>
<circle cx="977.8" cy="932.4" r="3.9" fill="#a8cdbd"/>
<circle cx="977.8" cy="1025.9" r="3.9" fill="#a9c4f8"/>
<circle cx="977.8" cy="1036.3" r="3.9" fill="#fbd77a"/>
<circle cx="977.8" cy="1109" r="3.9" fill="#a9c4f8"/>
<circle cx="977.8" cy="1285.7" r="3.9" fill="#a8cdbd"/>
<circle cx="977.8" cy="1296.1" r="3.9" fill="#a8cdbd"/>
<rect x="997.2" y="95.8" width="8.8" height="10.4" fill="#f8d2cd"/>
<rect x="1006" y="106.2" width="8.8" height="10.4" fill="#f3aca3"/>
<rect x="1014.9" y="106.2" width="8.8" height="10.4" fill="#f3aca3"/>
<rect x="1006" y="116.6" width="8.8" height="10.4" fill="#f6bfb8"/>
<rect x="1014.9" y="116.6" width="8.8" height="10.4" fill="#f6bfb8"/>
<rect x="1023.7" y="116.6" width="8.8" height="10.4" fill="#ed8373"/>
<rect x="997.2" y="137.4" width="8.8" height="10.4" fill="#f8d2cd"/>
<rect x="1023.7" y="137.4" width="8.8" height="10.4" fill="#f3aca3"/>
<rect x="997.2" y="158.2" width="8.8" height="10.4" fill="#f8d2cd"/>
<rect x="1014.9" y="158.2" width="8.8" height="10.4" fill="#f8d2cd"/>
<rect x="1023.7" y="158.2" width="8.8" height="10.4" fill="#ed8373"/>
<rect x="997.2" y="168.5" width="8.8" height="10.4" fill="#c2291f"/>
<rect x="1014.9" y="168.5" width="8.8" height="10.4" fill="#f6bfb8"/>
<rect x="997.2" y="178.9" width="8.8" height="10.4" fill="#f6bfb8"/>
<rect x="1014.9" y="178.9" width="8.8" height="10.4" fill="#fce8e6"/>
<rect x="1023.7" y="178.9" width="8.8" height="10.4" fill="#f6bfb8"/>
<rect x="997.2" y="189.3" width="8.8" height="10.4" fill="#f8d2cd"/>
<rect x="1014.9" y="189.3" width="8.8" height="10.4" fill="#f3aca3"/>
<rect x="1023.7" y="189.3" width="8.8" height="10.4" fill="#fce8e6"/>
<rect x="997.2" y="199.7" width="8.8" height="10.4" fill="#f8d2cd"/>
<rect x="1006" y="199.7" width="8.8" height="10.4" fill="#f8d2cd"/>
<rect x="1014.9" y="199.7" width="8.8" height="10.4" fill="#f8d2cd"/>
<rect x="997.2" y="210.1" width="8.8" height="10.4" fill="#f8d2cd"/>
<rect x="1014.9" y="210.1" width="8.8" height="10.4" fill="#f8d2cd"/>
<rect x="1023.7" y="210.1" width="8.8" height="10.4" fill="#f3aca3"/>
<rect x="997.2" y="220.5" width="8.8" height="10.4" fill="#f8d2cd"/>
<rect x="1014.9" y="220.5" width="8.8" height="10.4" fill="#f8d2cd"/>
<rect x="1023.7" y="220.5" width="8.8" height="10.4" fill="#f8d2cd"/>
<rect x="997.2" y="230.9" width="8.8" height="10.4" fill="#f6bfb8"/>
<rect x="1014.9" y="230.9" width="8.8" height="10.4" fill="#f8d2cd"/>
<rect x="1023.7" y="230.9" width="8.8" height="10.4" fill="#f8d2cd"/>
<rect x="997.2" y="241.3" width="8.8" height="10.4" fill="#f3aca3"/>
<rect x="1014.9" y="241.3" width="8.8" height="10.4" fill="#f8d2cd"/>
<rect x="1006" y="251.7" width="8.8" height="10.4" fill="#f8d2cd"/>
<rect x="1014.9" y="251.7" width="8.8" height="10.4" fill="#f8d2cd"/>
<rect x="1023.7" y="251.7" width="8.8" height="10.4" fill="#f3aca3"/>
<rect x="997.2" y="262.1" width="8.8" height="10.4" fill="#f8d2cd"/>
<rect x="1014.9" y="262.1" width="8.8" height="10.4" fill="#f8d2cd"/>
<rect x="997.2" y="272.5" width="8.8" height="10.4" fill="#f0988b"/>
<rect x="997.2" y="282.9" width="8.8" height="10.4" fill="#f3aca3"/>
<rect x="1014.9" y="282.9" width="8.8" height="10.4" fill="#e2553f"/>
<rect x="1006" y="293.2" width="8.8" height="10.4" fill="#f3aca3"/>
<rect x="1014.9" y="293.2" width="8.8" height="10.4" fill="#f3aca3"/>
<rect x="997.2" y="303.6" width="8.8" height="10.4" fill="#f3aca3"/>
<rect x="1006" y="303.6" width="8.8" height="10.4" fill="#f6bfb8"/>
<rect x="1014.9" y="303.6" width="8.8" height="10.4" fill="#f3aca3"/>
<rect x="997.2" y="314" width="8.8" height="10.4" fill="#f3aca3"/>
<rect x="1014.9" y="314" width="8.8" height="10.4" fill="#f3aca3"/>
<rect x="997.2" y="324.4" width="8.8" height="10.4" fill="#f3aca3"/>
<rect x="1014.9" y="324.4" width="8.8" height="10.4" fill="#f3aca3"/>
<rect x="997.2" y="334.8" width="8.8" height="10.4" fill="#f0988b"/>
<rect x="1014.9" y="334.8" width="8.8" height="10.4" fill="#f0988b"/>
<rect x="1006" y="345.2" width="8.8" height="10.4" fill="#f6bfb8"/>
<rect x="1014.9" y="355.6" width="8.8" height="10.4" fill="#f8d2cd"/>
<rect x="1006" y="366" width="8.8" height="10.4" fill="#e86c59"/>
<rect x="1006" y="376.4" width="8.8" height="10.4" fill="#ed8373"/>
<rect x="1023.7" y="376.4" width="8.8" height="10.4" fill="#f3aca3"/>
<rect x="997.2" y="386.8" width="8.8" height="10.4" fill="#f3aca3"/>
<rect x="1023.7" y="386.8" width="8.8" height="10.4" fill="#f3aca3"/>
<rect x="997.2" y="397.2" width="8.8" height="10.4" fill="#ed8373"/>
<rect x="1014.9" y="397.2" width="8.8" height="10.4" fill="#ed8373"/>
<rect x="1023.7" y="397.2" width="8.8" height="10.4" fill="#f3aca3"/>
<rect x="997.2" y="407.6" width="8.8" height="10.4" fill="#f3aca3"/>
<rect x="1014.9" y="407.6" width="8.8" height="10.4" fill="#e86c59"/>
<rect x="1023.7" y="407.6" width="8.8" height="10.4" fill="#e86c59"/>
<rect x="997.2" y="418" width="8.8" height="10.4" fill="#f3aca3"/>
<rect x="1014.9" y="418" width="8.8" height="10.4" fill="#f8d2cd"/>
<rect x="1023.7" y="418" width="8.8" height="10.4" fill="#f8d2cd"/>
<rect x="997.2" y="428.3" width="8.8" height="10.4" fill="#f3aca3"/>
<rect x="1014.9" y="428.3" width="8.8" height="10.4" fill="#f6bfb8"/>
<rect x="997.2" y="438.7" width="8.8" height="10.4" fill="#f6bfb8"/>
<rect x="1014.9" y="438.7" width="8.8" height="10.4" fill="#f6bfb8"/>
<rect x="997.2" y="449.1" width="8.8" height="10.4" fill="#e86c59"/>
<rect x="1014.9" y="449.1" width="8.8" height="10.4" fill="#e86c59"/>
<rect x="997.2" y="459.5" width="8.8" height="10.4" fill="#ed8373"/>
<rect x="997.2" y="480.3" width="8.8" height="10.4" fill="#ed8373"/>
<rect x="1014.9" y="480.3" width="8.8" height="10.4" fill="#f3aca3"/>
<rect x="1023.7" y="480.3" width="8.8" height="10.4" fill="#f8d2cd"/>
<rect x="997.2" y="490.7" width="8.8" height="10.4" fill="#f8d2cd"/>
<rect x="1014.9" y="490.7" width="8.8" height="10.4" fill="#ed8373"/>
<rect x="1023.7" y="490.7" width="8.8" height="10.4" fill="#f8d2cd"/>
<rect x="997.2" y="501.1" width="8.8" height="10.4" fill="#f3aca3"/>
<rect x="1014.9" y="501.1" width="8.8" height="10.4" fill="#ed8373"/>
<rect x="997.2" y="511.5" width="8.8" height="10.4" fill="#f3aca3"/>
<rect x="1014.9" y="511.5" width="8.8" height="10.4" fill="#ed8373"/>
<rect x="997.2" y="521.9" width="8.8" height="10.4" fill="#f6bfb8"/>
<rect x="1023.7" y="521.9" width="8.8" height="10.4" fill="#f6bfb8"/>
<rect x="997.2" y="532.3" width="8.8" height="10.4" fill="#f6bfb8"/>
<rect x="1014.9" y="532.3" width="8.8" height="10.4" fill="#ed8373"/>
<rect x="997.2" y="542.7" width="8.8" height="10.4" fill="#e86c59"/>
<rect x="997.2" y="553" width="8.8" height="10.4" fill="#e86c59"/>
<rect x="1014.9" y="553" width="8.8" height="10.4" fill="#f3aca3"/>
<rect x="1023.7" y="553" width="8.8" height="10.4" fill="#f6bfb8"/>
<rect x="997.2" y="563.4" width="8.8" height="10.4" fill="#e86c59"/>
<rect x="1006" y="563.4" width="8.8" height="10.4" fill="#f3aca3"/>
<rect x="1014.9" y="563.4" width="8.8" height="10.4" fill="#f6bfb8"/>
<rect x="1023.7" y="563.4" width="8.8" height="10.4" fill="#f6bfb8"/>
<rect x="1006" y="573.8" width="8.8" height="10.4" fill="#e2553f"/>
<rect x="1023.7" y="573.8" width="8.8" height="10.4" fill="#ed8373"/>
<rect x="1006" y="584.2" width="8.8" height="10.4" fill="#e2553f"/>
<rect x="1006" y="594.6" width="8.8" height="10.4" fill="#f3aca3"/>
<rect x="1006" y="605" width="8.8" height="10.4" fill="#f0988b"/>
<rect x="997.2" y="625.8" width="8.8" height="10.4" fill="#ed8373"/>
<rect x="1006" y="625.8" width="8.8" height="10.4" fill="#f6bfb8"/>
<rect x="1023.7" y="625.8" width="8.8" height="10.4" fill="#f6bfb8"/>
<rect x="1006" y="636.2" width="8.8" height="10.4" fill="#f6bfb8"/>
<rect x="997.2" y="646.6" width="8.8" height="10.4" fill="#f6bfb8"/>
<rect x="1006" y="646.6" width="8.8" height="10.4" fill="#f6bfb8"/>
<rect x="1014.9" y="646.6" width="8.8" height="10.4" fill="#f6bfb8"/>
<rect x="1023.7" y="646.6" width="8.8" height="10.4" fill="#f6bfb8"/>
<rect x="997.2" y="667.4" width="8.8" height="10.4" fill="#f3aca3"/>
<rect x="1006" y="667.4" width="8.8" height="10.4" fill="#f3aca3"/>
<rect x="1023.7" y="667.4" width="8.8" height="10.4" fill="#f3aca3"/>
<rect x="997.2" y="677.8" width="8.8" height="10.4" fill="#f3aca3"/>
<rect x="1006" y="677.8" width="8.8" height="10.4" fill="#e86c59"/>
<rect x="1023.7" y="677.8" width="8.8" height="10.4" fill="#f3aca3"/>
<rect x="997.2" y="688.1" width="8.8" height="10.4" fill="#f3aca3"/>
<rect x="1023.7" y="688.1" width="8.8" height="10.4" fill="#e2553f"/>
<rect x="1006" y="698.5" width="8.8" height="10.4" fill="#e2553f"/>
<rect x="1006" y="708.9" width="8.8" height="10.4" fill="#f6bfb8"/>
<rect x="997.2" y="719.3" width="8.8" height="10.4" fill="#f6bfb8"/>
<rect x="1006" y="719.3" width="8.8" height="10.4" fill="#f6bfb8"/>
<rect x="997.2" y="740.1" width="8.8" height="10.4" fill="#f6bfb8"/>
<rect x="1014.9" y="740.1" width="8.8" height="10.4" fill="#c2291f"/>
<rect x="997.2" y="750.5" width="8.8" height="10.4" fill="#f3aca3"/>
<rect x="1014.9" y="750.5" width="8.8" height="10.4" fill="#f3aca3"/>
<rect x="1023.7" y="750.5" width="8.8" height="10.4" fill="#e2553f"/>
<rect x="997.2" y="760.9" width="8.8" height="10.4" fill="#f6bfb8"/>
<rect x="1014.9" y="760.9" width="8.8" height="10.4" fill="#f6bfb8"/>
<rect x="997.2" y="781.7" width="8.8" height="10.4" fill="#f3aca3"/>
<rect x="1014.9" y="781.7" width="8.8" height="10.4" fill="#f3aca3"/>
<rect x="997.2" y="792.1" width="8.8" height="10.4" fill="#ed8373"/>
<rect x="1014.9" y="792.1" width="8.8" height="10.4" fill="#ed8373"/>
<rect x="997.2" y="802.5" width="8.8" height="10.4" fill="#ed8373"/>
<rect x="997.2" y="812.8" width="8.8" height="10.4" fill="#f3aca3"/>
<rect x="997.2" y="823.2" width="8.8" height="10.4" fill="#c2291f"/>
<rect x="1014.9" y="823.2" width="8.8" height="10.4" fill="#ed8373"/>
<rect x="1023.7" y="823.2" width="8.8" height="10.4" fill="#ed8373"/>
<rect x="997.2" y="833.6" width="8.8" height="10.4" fill="#f3aca3"/>
<rect x="1014.9" y="833.6" width="8.8" height="10.4" fill="#f3aca3"/>
<rect x="1023.7" y="833.6" width="8.8" height="10.4" fill="#e2553f"/>
<rect x="997.2" y="844" width="8.8" height="10.4" fill="#f3aca3"/>
<rect x="1014.9" y="844" width="8.8" height="10.4" fill="#f3aca3"/>
<rect x="1023.7" y="844" width="8.8" height="10.4" fill="#e2553f"/>
<rect x="997.2" y="854.4" width="8.8" height="10.4" fill="#f3aca3"/>
<rect x="1014.9" y="854.4" width="8.8" height="10.4" fill="#f3aca3"/>
<rect x="1023.7" y="854.4" width="8.8" height="10.4" fill="#f0988b"/>
<rect x="997.2" y="864.8" width="8.8" height="10.4" fill="#f3aca3"/>
<rect x="1023.7" y="864.8" width="8.8" height="10.4" fill="#c2291f"/>
<rect x="997.2" y="875.2" width="8.8" height="10.4" fill="#f3aca3"/>
<rect x="1014.9" y="875.2" width="8.8" height="10.4" fill="#f3aca3"/>
<rect x="1023.7" y="875.2" width="8.8" height="10.4" fill="#c2291f"/>
<rect x="997.2" y="885.6" width="8.8" height="10.4" fill="#f3aca3"/>
<rect x="1014.9" y="885.6" width="8.8" height="10.4" fill="#f0988b"/>
<rect x="1023.7" y="885.6" width="8.8" height="10.4" fill="#f0988b"/>
<rect x="997.2" y="896" width="8.8" height="10.4" fill="#e2553f"/>
<rect x="1014.9" y="896" width="8.8" height="10.4" fill="#f3aca3"/>
<rect x="1023.7" y="896" width="8.8" height="10.4" fill="#901010"/>
<rect x="1023.7" y="906.4" width="8.8" height="10.4" fill="#f0988b"/>
<rect x="997.2" y="916.8" width="8.8" height="10.4" fill="#f0988b"/>
<rect x="997.2" y="927.2" width="8.8" height="10.4" fill="#f0988b"/>
<rect x="997.2" y="937.6" width="8.8" height="10.4" fill="#f0988b"/>
<rect x="1014.9" y="958.3" width="8.8" height="10.4" fill="#ed8373"/>
<rect x="997.2" y="989.5" width="8.8" height="10.4" fill="#901010"/>
<rect x="1014.9" y="989.5" width="8.8" height="10.4" fill="#e86c59"/>
<rect x="1023.7" y="989.5" width="8.8" height="10.4" fill="#f3aca3"/>
<rect x="997.2" y="999.9" width="8.8" height="10.4" fill="#e2553f"/>
<rect x="997.2" y="1010.3" width="8.8" height="10.4" fill="#e86c59"/>
<rect x="1014.9" y="1010.3" width="8.8" height="10.4" fill="#f6bfb8"/>
<rect x="1014.9" y="1020.7" width="8.8" height="10.4" fill="#f6bfb8"/>
<rect x="1023.7" y="1020.7" width="8.8" height="10.4" fill="#f0988b"/>
<rect x="997.2" y="1031.1" width="8.8" height="10.4" fill="#f3aca3"/>
<rect x="1014.9" y="1031.1" width="8.8" height="10.4" fill="#f6bfb8"/>
<rect x="1023.7" y="1031.1" width="8.8" height="10.4" fill="#f6bfb8"/>
<rect x="997.2" y="1041.5" width="8.8" height="10.4" fill="#f6bfb8"/>
<rect x="1014.9" y="1041.5" width="8.8" height="10.4" fill="#f6bfb8"/>
<rect x="1023.7" y="1041.5" width="8.8" height="10.4" fill="#f3aca3"/>
<rect x="1023.7" y="1051.9" width="8.8" height="10.4" fill="#f0988b"/>
<rect x="1023.7" y="1062.3" width="8.8" height="10.4" fill="#f0988b"/>
<rect x="1014.9" y="1072.6" width="8.8" height="10.4" fill="#f3aca3"/>
<rect x="1023.7" y="1072.6" width="8.8" height="10.4" fill="#f0988b"/>
<rect x="997.2" y="1083" width="8.8" height="10.4" fill="#f3aca3"/>
<rect x="1014.9" y="1083" width="8.8" height="10.4" fill="#f3aca3"/>
<rect x="1023.7" y="1083" width="8.8" height="10.4" fill="#e86c59"/>
<rect x="997.2" y="1093.4" width="8.8" height="10.4" fill="#f3aca3"/>
<rect x="1014.9" y="1093.4" width="8.8" height="10.4" fill="#f3aca3"/>
<rect x="1023.7" y="1093.4" width="8.8" height="10.4" fill="#e86c59"/>
<rect x="997.2" y="1103.8" width="8.8" height="10.4" fill="#f3aca3"/>
<rect x="1014.9" y="1103.8" width="8.8" height="10.4" fill="#f3aca3"/>
<rect x="1023.7" y="1103.8" width="8.8" height="10.4" fill="#e2553f"/>
<rect x="1006" y="1114.2" width="8.8" height="10.4" fill="#f6bfb8"/>
<rect x="1023.7" y="1114.2" width="8.8" height="10.4" fill="#f6bfb8"/>
<rect x="1006" y="1124.6" width="8.8" height="10.4" fill="#f6bfb8"/>
<rect x="1014.9" y="1124.6" width="8.8" height="10.4" fill="#f6bfb8"/>
<rect x="1014.9" y="1135" width="8.8" height="10.4" fill="#f0988b"/>
<rect x="997.2" y="1155.8" width="8.8" height="10.4" fill="#ed8373"/>
<rect x="997.2" y="1166.2" width="8.8" height="10.4" fill="#ed8373"/>
<rect x="1023.7" y="1238.9" width="8.8" height="10.4" fill="#f6bfb8"/>
<rect x="1023.7" y="1249.3" width="8.8" height="10.4" fill="#e86c59"/>
<rect x="1014.9" y="1259.7" width="8.8" height="10.4" fill="#e86c59"/>
<rect x="1006" y="1270.1" width="8.8" height="10.4" fill="#f6bfb8"/>
<rect x="1006" y="1280.5" width="8.8" height="10.4" fill="#f6bfb8"/>
<rect x="1023.7" y="1280.5" width="8.8" height="10.4" fill="#ed8373"/>
<rect x="1006" y="1290.9" width="8.8" height="10.4" fill="#f6bfb8"/>
<rect x="1023.7" y="1290.9" width="8.8" height="10.4" fill="#f6bfb8"/>
<path d="M997.2 95.8H1032.5M997.2 106.2H1032.5M997.2 116.6H1032.5M997.2 127H1032.5M997.2 137.4H1032.5M997.2 147.8H1032.5M997.2 158.2H1032.5M997.2 168.5H1032.5M997.2 178.9H1032.5M997.2 189.3H1032.5M997.2 199.7H1032.5M997.2 210.1H1032.5M997.2 220.5H1032.5M997.2 230.9H1032.5M997.2 241.3H1032.5M997.2 251.7H1032.5M997.2 262.1H1032.5M997.2 272.5H1032.5M997.2 282.9H1032.5M997.2 293.2H1032.5M997.2 303.6H1032.5M997.2 314H1032.5M997.2 324.4H1032.5M997.2 334.8H1032.5M997.2 345.2H1032.5M997.2 355.6H1032.5M997.2 366H1032.5M997.2 376.4H1032.5M997.2 386.8H1032.5M997.2 397.2H1032.5M997.2 407.6H1032.5M997.2 418H1032.5M997.2 428.3H1032.5M997.2 438.7H1032.5M997.2 449.1H1032.5M997.2 459.5H1032.5M997.2 469.9H1032.5M997.2 480.3H1032.5M997.2 490.7H1032.5M997.2 501.1H1032.5M997.2 511.5H1032.5M997.2 521.9H1032.5M997.2 532.3H1032.5M997.2 542.7H1032.5M997.2 553H1032.5M997.2 563.4H1032.5M997.2 573.8H1032.5M997.2 584.2H1032.5M997.2 594.6H1032.5M997.2 605H1032.5M997.2 615.4H1032.5M997.2 625.8H1032.5M997.2 636.2H1032.5M997.2 646.6H1032.5M997.2 657H1032.5M997.2 667.4H1032.5M997.2 677.8H1032.5M997.2 688.1H1032.5M997.2 698.5H1032.5M997.2 708.9H1032.5M997.2 719.3H1032.5M997.2 729.7H1032.5M997.2 740.1H1032.5M997.2 750.5H1032.5M997.2 760.9H1032.5M997.2 771.3H1032.5M997.2 781.7H1032.5M997.2 792.1H1032.5M997.2 802.5H1032.5M997.2 812.8H1032.5M997.2 823.2H1032.5M997.2 833.6H1032.5M997.2 844H1032.5M997.2 854.4H1032.5M997.2 864.8H1032.5M997.2 875.2H1032.5M997.2 885.6H1032.5M997.2 896H1032.5M997.2 906.4H1032.5M997.2 916.8H1032.5M997.2 927.2H1032.5M997.2 937.6H1032.5M997.2 947.9H1032.5M997.2 958.3H1032.5M997.2 968.7H1032.5M997.2 979.1H1032.5M997.2 989.5H1032.5M997.2 999.9H1032.5M997.2 1010.3H1032.5M997.2 1020.7H1032.5M997.2 1031.1H1032.5M997.2 1041.5H1032.5M997.2 1051.9H1032.5M997.2 1062.3H1032.5M997.2 1072.6H1032.5M997.2 1083H1032.5M997.2 1093.4H1032.5M997.2 1103.8H1032.5M997.2 1114.2H1032.5M997.2 1124.6H1032.5M997.2 1135H1032.5M997.2 1145.4H1032.5M997.2 1155.8H1032.5M997.2 1166.2H1032.5M997.2 1176.6H1032.5M997.2 1187H1032.5M997.2 1197.4H1032.5M997.2 1207.7H1032.5M997.2 1218.1H1032.5M997.2 1228.5H1032.5M997.2 1238.9H1032.5M997.2 1249.3H1032.5M997.2 1259.7H1032.5M997.2 1270.1H1032.5M997.2 1280.5H1032.5M997.2 1290.9H1032.5M997.2 1301.3H1032.5M997.2 95.8V1301.3M1006 95.8V1301.3M1014.9 95.8V1301.3M1023.7 95.8V1301.3M1032.5 95.8V1301.3" stroke="#3a3a3a" stroke-width="1" fill="none"/>
<rect x="1040.4" y="95.8" width="8.8" height="10.4" fill="#fcefc0"/>
<rect x="1049.2" y="95.8" width="8.8" height="10.4" fill="#fceaae"/>
<rect x="1058" y="95.8" width="8.8" height="10.4" fill="#fef7e0"/>
<rect x="1040.4" y="106.2" width="8.8" height="10.4" fill="#fef7e0"/>
<rect x="1049.2" y="106.2" width="8.8" height="10.4" fill="#fcefc0"/>
<rect x="1058" y="106.2" width="8.8" height="10.4" fill="#fef7e0"/>
<rect x="1040.4" y="116.6" width="8.8" height="10.4" fill="#fef7e0"/>
<rect x="1049.2" y="116.6" width="8.8" height="10.4" fill="#fcefc0"/>
<rect x="1049.2" y="127" width="8.8" height="10.4" fill="#fcefc0"/>
<rect x="1040.4" y="137.4" width="8.8" height="10.4" fill="#fce59b"/>
<rect x="1049.2" y="137.4" width="8.8" height="10.4" fill="#fcefc0"/>
<rect x="1058" y="137.4" width="8.8" height="10.4" fill="#fef7e0"/>
<rect x="1040.4" y="147.8" width="8.8" height="10.4" fill="#fce59b"/>
<rect x="1049.2" y="147.8" width="8.8" height="10.4" fill="#fcefc0"/>
<rect x="1058" y="147.8" width="8.8" height="10.4" fill="#fef7e0"/>
<rect x="1049.2" y="158.2" width="8.8" height="10.4" fill="#fcefc0"/>
<rect x="1058" y="158.2" width="8.8" height="10.4" fill="#fef7e0"/>
<rect x="1040.4" y="168.5" width="8.8" height="10.4" fill="#fef7e0"/>
<rect x="1049.2" y="168.5" width="8.8" height="10.4" fill="#fcefc0"/>
<rect x="1058" y="168.5" width="8.8" height="10.4" fill="#fef7e0"/>
<rect x="1040.4" y="178.9" width="8.8" height="10.4" fill="#fef7e0"/>
<rect x="1049.2" y="178.9" width="8.8" height="10.4" fill="#fcefc0"/>
<rect x="1058" y="178.9" width="8.8" height="10.4" fill="#fef7e0"/>
<rect x="1040.4" y="189.3" width="8.8" height="10.4" fill="#fef7e0"/>
<rect x="1049.2" y="189.3" width="8.8" height="10.4" fill="#fcefc0"/>
<rect x="1058" y="189.3" width="8.8" height="10.4" fill="#fef7e0"/>
<rect x="1049.2" y="199.7" width="8.8" height="10.4" fill="#fcefc0"/>
<rect x="1058" y="199.7" width="8.8" height="10.4" fill="#fef7e0"/>
<rect x="1040.4" y="210.1" width="8.8" height="10.4" fill="#fef7e0"/>
<rect x="1049.2" y="210.1" width="8.8" height="10.4" fill="#fcefc0"/>
<rect x="1058" y="210.1" width="8.8" height="10.4" fill="#fef7e0"/>
<rect x="1040.4" y="220.5" width="8.8" height="10.4" fill="#fcefc0"/>
<rect x="1049.2" y="220.5" width="8.8" height="10.4" fill="#fcefc0"/>
<rect x="1058" y="220.5" width="8.8" height="10.4" fill="#fef7e0"/>
<rect x="1040.4" y="230.9" width="8.8" height="10.4" fill="#fcefc0"/>
<rect x="1049.2" y="230.9" width="8.8" height="10.4" fill="#fcefc0"/>
<rect x="1058" y="230.9" width="8.8" height="10.4" fill="#fef7e0"/>
<rect x="1040.4" y="241.3" width="8.8" height="10.4" fill="#fef7e0"/>
<rect x="1049.2" y="241.3" width="8.8" height="10.4" fill="#fcefc0"/>
<rect x="1058" y="241.3" width="8.8" height="10.4" fill="#fef7e0"/>
<rect x="1040.4" y="251.7" width="8.8" height="10.4" fill="#fef7e0"/>
<rect x="1049.2" y="251.7" width="8.8" height="10.4" fill="#fce59b"/>
<rect x="1058" y="251.7" width="8.8" height="10.4" fill="#fef7e0"/>
<rect x="1040.4" y="262.1" width="8.8" height="10.4" fill="#fef7e0"/>
<rect x="1049.2" y="262.1" width="8.8" height="10.4" fill="#fef7e0"/>
<rect x="1040.4" y="272.5" width="8.8" height="10.4" fill="#fef7e0"/>
<rect x="1049.2" y="272.5" width="8.8" height="10.4" fill="#fcefc0"/>
<rect x="1040.4" y="282.9" width="8.8" height="10.4" fill="#fceaae"/>
<rect x="1049.2" y="282.9" width="8.8" height="10.4" fill="#fcdc7c"/>
<rect x="1058" y="282.9" width="8.8" height="10.4" fill="#fcefc0"/>
<rect x="1049.2" y="293.2" width="8.8" height="10.4" fill="#fce59b"/>
<rect x="1058" y="293.2" width="8.8" height="10.4" fill="#fef7e0"/>
<rect x="1049.2" y="303.6" width="8.8" height="10.4" fill="#facc3b"/>
<rect x="1049.2" y="314" width="8.8" height="10.4" fill="#fce59b"/>
<rect x="1058" y="314" width="8.8" height="10.4" fill="#fef7e0"/>
<rect x="1049.2" y="324.4" width="8.8" height="10.4" fill="#fceaae"/>
<rect x="1049.2" y="334.8" width="8.8" height="10.4" fill="#fceaae"/>
<rect x="1049.2" y="345.2" width="8.8" height="10.4" fill="#fbd45c"/>
<rect x="1040.4" y="355.6" width="8.8" height="10.4" fill="#fef7e0"/>
<rect x="1049.2" y="355.6" width="8.8" height="10.4" fill="#f8c31a"/>
<rect x="1040.4" y="366" width="8.8" height="10.4" fill="#fef7e0"/>
<rect x="1049.2" y="366" width="8.8" height="10.4" fill="#fcdc7c"/>
<rect x="1049.2" y="376.4" width="8.8" height="10.4" fill="#fce59b"/>
<rect x="1049.2" y="386.8" width="8.8" height="10.4" fill="#fcdc7c"/>
<rect x="1049.2" y="397.2" width="8.8" height="10.4" fill="#fcdc7c"/>
<rect x="1049.2" y="407.6" width="8.8" height="10.4" fill="#fce59b"/>
<rect x="1049.2" y="418" width="8.8" height="10.4" fill="#fce59b"/>
<rect x="1049.2" y="428.3" width="8.8" height="10.4" fill="#fce59b"/>
<rect x="1049.2" y="438.7" width="8.8" height="10.4" fill="#fce59b"/>
<rect x="1058" y="438.7" width="8.8" height="10.4" fill="#fef7e0"/>
<rect x="1049.2" y="459.5" width="8.8" height="10.4" fill="#facc3b"/>
<rect x="1049.2" y="469.9" width="8.8" height="10.4" fill="#fcefc0"/>
<rect x="1040.4" y="480.3" width="8.8" height="10.4" fill="#fef7e0"/>
<rect x="1049.2" y="480.3" width="8.8" height="10.4" fill="#fceaae"/>
<rect x="1058" y="480.3" width="8.8" height="10.4" fill="#fef7e0"/>
<rect x="1040.4" y="490.7" width="8.8" height="10.4" fill="#fcefc0"/>
<rect x="1049.2" y="490.7" width="8.8" height="10.4" fill="#fbd45c"/>
<rect x="1058" y="490.7" width="8.8" height="10.4" fill="#fef7e0"/>
<rect x="1040.4" y="501.1" width="8.8" height="10.4" fill="#fef7e0"/>
<rect x="1049.2" y="501.1" width="8.8" height="10.4" fill="#fcdc7c"/>
<rect x="1040.4" y="511.5" width="8.8" height="10.4" fill="#fceaae"/>
<rect x="1049.2" y="511.5" width="8.8" height="10.4" fill="#fbd45c"/>
<rect x="1058" y="511.5" width="8.8" height="10.4" fill="#fef7e0"/>
<rect x="1049.2" y="521.9" width="8.8" height="10.4" fill="#f8c31a"/>
<rect x="1040.4" y="532.3" width="8.8" height="10.4" fill="#fef7e0"/>
<rect x="1049.2" y="532.3" width="8.8" height="10.4" fill="#fceaae"/>
<rect x="1058" y="532.3" width="8.8" height="10.4" fill="#fef7e0"/>
<rect x="1049.2" y="542.7" width="8.8" height="10.4" fill="#fce59b"/>
<rect x="1040.4" y="553" width="8.8" height="10.4" fill="#fef7e0"/>
<rect x="1049.2" y="553" width="8.8" height="10.4" fill="#fce59b"/>
<rect x="1058" y="553" width="8.8" height="10.4" fill="#fef7e0"/>
<rect x="1040.4" y="563.4" width="8.8" height="10.4" fill="#fef7e0"/>
<rect x="1049.2" y="563.4" width="8.8" height="10.4" fill="#fce59b"/>
<rect x="1058" y="563.4" width="8.8" height="10.4" fill="#fef7e0"/>
<rect x="1049.2" y="573.8" width="8.8" height="10.4" fill="#fbd45c"/>
<rect x="1049.2" y="584.2" width="8.8" height="10.4" fill="#fce59b"/>
<rect x="1040.4" y="594.6" width="8.8" height="10.4" fill="#fef7e0"/>
<rect x="1049.2" y="594.6" width="8.8" height="10.4" fill="#fbd45c"/>
<rect x="1058" y="594.6" width="8.8" height="10.4" fill="#fef7e0"/>
<rect x="1040.4" y="605" width="8.8" height="10.4" fill="#fef7e0"/>
<rect x="1049.2" y="605" width="8.8" height="10.4" fill="#facc3b"/>
<rect x="1040.4" y="615.4" width="8.8" height="10.4" fill="#fef7e0"/>
<rect x="1049.2" y="615.4" width="8.8" height="10.4" fill="#fce59b"/>
<rect x="1049.2" y="625.8" width="8.8" height="10.4" fill="#f8c31a"/>
<rect x="1049.2" y="636.2" width="8.8" height="10.4" fill="#f8c31a"/>
<rect x="1049.2" y="646.6" width="8.8" height="10.4" fill="#f8c31a"/>
<rect x="1049.2" y="657" width="8.8" height="10.4" fill="#fcdc7c"/>
<rect x="1049.2" y="667.4" width="8.8" height="10.4" fill="#facc3b"/>
<rect x="1049.2" y="677.8" width="8.8" height="10.4" fill="#fbd45c"/>
<rect x="1049.2" y="688.1" width="8.8" height="10.4" fill="#f8c31a"/>
<rect x="1049.2" y="698.5" width="8.8" height="10.4" fill="#f8c31a"/>
<rect x="1049.2" y="708.9" width="8.8" height="10.4" fill="#f0b020"/>
<rect x="1049.2" y="719.3" width="8.8" height="10.4" fill="#f0b020"/>
<rect x="1040.4" y="729.7" width="8.8" height="10.4" fill="#fcefc0"/>
<rect x="1049.2" y="729.7" width="8.8" height="10.4" fill="#fceaae"/>
<rect x="1040.4" y="740.1" width="8.8" height="10.4" fill="#fceaae"/>
<rect x="1049.2" y="740.1" width="8.8" height="10.4" fill="#fceaae"/>
<rect x="1040.4" y="750.5" width="8.8" height="10.4" fill="#fef7e0"/>
<rect x="1049.2" y="750.5" width="8.8" height="10.4" fill="#fef7e0"/>
<rect x="1058" y="750.5" width="8.8" height="10.4" fill="#fef7e0"/>
<rect x="1040.4" y="760.9" width="8.8" height="10.4" fill="#fef7e0"/>
<rect x="1049.2" y="760.9" width="8.8" height="10.4" fill="#fcefc0"/>
<rect x="1058" y="760.9" width="8.8" height="10.4" fill="#fef7e0"/>
<rect x="1040.4" y="771.3" width="8.8" height="10.4" fill="#fef7e0"/>
<rect x="1049.2" y="771.3" width="8.8" height="10.4" fill="#fcefc0"/>
<rect x="1058" y="771.3" width="8.8" height="10.4" fill="#fef7e0"/>
<rect x="1040.4" y="781.7" width="8.8" height="10.4" fill="#fef7e0"/>
<rect x="1049.2" y="781.7" width="8.8" height="10.4" fill="#fcefc0"/>
<rect x="1058" y="781.7" width="8.8" height="10.4" fill="#fef7e0"/>
<rect x="1049.2" y="792.1" width="8.8" height="10.4" fill="#fef7e0"/>
<rect x="1058" y="792.1" width="8.8" height="10.4" fill="#fef7e0"/>
<rect x="1040.4" y="802.5" width="8.8" height="10.4" fill="#fef7e0"/>
<rect x="1049.2" y="802.5" width="8.8" height="10.4" fill="#fef7e0"/>
<rect x="1058" y="802.5" width="8.8" height="10.4" fill="#fef7e0"/>
<rect x="1040.4" y="812.8" width="8.8" height="10.4" fill="#fef7e0"/>
<rect x="1049.2" y="812.8" width="8.8" height="10.4" fill="#f8c31a"/>
<rect x="1058" y="812.8" width="8.8" height="10.4" fill="#fef7e0"/>
<rect x="1040.4" y="823.2" width="8.8" height="10.4" fill="#fcefc0"/>
<rect x="1049.2" y="823.2" width="8.8" height="10.4" fill="#fcefc0"/>
<rect x="1058" y="823.2" width="8.8" height="10.4" fill="#fef7e0"/>
<rect x="1040.4" y="833.6" width="8.8" height="10.4" fill="#fef7e0"/>
<rect x="1049.2" y="833.6" width="8.8" height="10.4" fill="#fef7e0"/>
<rect x="1040.4" y="844" width="8.8" height="10.4" fill="#fef7e0"/>
<rect x="1049.2" y="844" width="8.8" height="10.4" fill="#fceaae"/>
<rect x="1058" y="844" width="8.8" height="10.4" fill="#fef7e0"/>
<rect x="1040.4" y="854.4" width="8.8" height="10.4" fill="#fcefc0"/>
<rect x="1049.2" y="854.4" width="8.8" height="10.4" fill="#fceaae"/>
<rect x="1058" y="854.4" width="8.8" height="10.4" fill="#fef7e0"/>
<rect x="1049.2" y="864.8" width="8.8" height="10.4" fill="#fceaae"/>
<rect x="1058" y="864.8" width="8.8" height="10.4" fill="#fef7e0"/>
<rect x="1040.4" y="875.2" width="8.8" height="10.4" fill="#fef7e0"/>
<rect x="1049.2" y="875.2" width="8.8" height="10.4" fill="#fceaae"/>
<rect x="1058" y="875.2" width="8.8" height="10.4" fill="#fef7e0"/>
<rect x="1040.4" y="885.6" width="8.8" height="10.4" fill="#fef7e0"/>
<rect x="1049.2" y="885.6" width="8.8" height="10.4" fill="#fcefc0"/>
<rect x="1058" y="885.6" width="8.8" height="10.4" fill="#fef7e0"/>
<rect x="1040.4" y="896" width="8.8" height="10.4" fill="#fef7e0"/>
<rect x="1049.2" y="896" width="8.8" height="10.4" fill="#fceaae"/>
<rect x="1049.2" y="906.4" width="8.8" height="10.4" fill="#facc3b"/>
<rect x="1049.2" y="916.8" width="8.8" height="10.4" fill="#f8c31a"/>
<rect x="1049.2" y="927.2" width="8.8" height="10.4" fill="#f8c31a"/>
<rect x="1049.2" y="937.6" width="8.8" height="10.4" fill="#f8c31a"/>
<rect x="1049.2" y="947.9" width="8.8" height="10.4" fill="#fbd45c"/>
<rect x="1049.2" y="958.3" width="8.8" height="10.4" fill="#fbd45c"/>
<rect x="1049.2" y="968.7" width="8.8" height="10.4" fill="#f8c31a"/>
<rect x="1049.2" y="979.1" width="8.8" height="10.4" fill="#f8c31a"/>
<rect x="1049.2" y="989.5" width="8.8" height="10.4" fill="#f8c31a"/>
<rect x="1049.2" y="999.9" width="8.8" height="10.4" fill="#f8c31a"/>
<rect x="1049.2" y="1010.3" width="8.8" height="10.4" fill="#f8c31a"/>
<rect x="1049.2" y="1020.7" width="8.8" height="10.4" fill="#facc3b"/>
<rect x="1049.2" y="1031.1" width="8.8" height="10.4" fill="#f8c31a"/>
<rect x="1049.2" y="1041.5" width="8.8" height="10.4" fill="#f8c31a"/>
<rect x="1049.2" y="1051.9" width="8.8" height="10.4" fill="#f8c31a"/>
<rect x="1049.2" y="1062.3" width="8.8" height="10.4" fill="#f8c31a"/>
<rect x="1049.2" y="1072.6" width="8.8" height="10.4" fill="#f8c31a"/>
<rect x="1049.2" y="1083" width="8.8" height="10.4" fill="#f8c31a"/>
<rect x="1049.2" y="1093.4" width="8.8" height="10.4" fill="#f8c31a"/>
<rect x="1049.2" y="1103.8" width="8.8" height="10.4" fill="#f8c31a"/>
<rect x="1049.2" y="1114.2" width="8.8" height="10.4" fill="#f8c31a"/>
<rect x="1049.2" y="1124.6" width="8.8" height="10.4" fill="#f8c31a"/>
<rect x="1049.2" y="1135" width="8.8" height="10.4" fill="#f8c31a"/>
<rect x="1049.2" y="1145.4" width="8.8" height="10.4" fill="#f8c31a"/>
<rect x="1049.2" y="1155.8" width="8.8" height="10.4" fill="#fbd45c"/>
<rect x="1049.2" y="1166.2" width="8.8" height="10.4" fill="#fbd45c"/>
<rect x="1049.2" y="1176.6" width="8.8" height="10.4" fill="#f8c31a"/>
<rect x="1049.2" y="1187" width="8.8" height="10.4" fill="#f8c31a"/>
<rect x="1049.2" y="1197.4" width="8.8" height="10.4" fill="#fbd45c"/>
<rect x="1049.2" y="1207.7" width="8.8" height="10.4" fill="#facc3b"/>
<rect x="1049.2" y="1218.1" width="8.8" height="10.4" fill="#f8c31a"/>
<rect x="1049.2" y="1228.5" width="8.8" height="10.4" fill="#facc3b"/>
<rect x="1049.2" y="1238.9" width="8.8" height="10.4" fill="#f8c31a"/>
<rect x="1049.2" y="1249.3" width="8.8" height="10.4" fill="#f8c31a"/>
<rect x="1058" y="1249.3" width="8.8" height="10.4" fill="#fef7e0"/>
<rect x="1049.2" y="1259.7" width="8.8" height="10.4" fill="#f8c31a"/>
<rect x="1049.2" y="1270.1" width="8.8" height="10.4" fill="#f8c31a"/>
<rect x="1049.2" y="1280.5" width="8.8" height="10.4" fill="#f0b020"/>
<rect x="1049.2" y="1290.9" width="8.8" height="10.4" fill="#f0b020"/>
<path d="M1040.4 95.8H1066.8M1040.4 106.2H1066.8M1040.4 116.6H1066.8M1040.4 127H1066.8M1040.4 137.4H1066.8M1040.4 147.8H1066.8M1040.4 158.2H1066.8M1040.4 168.5H1066.8M1040.4 178.9H1066.8M1040.4 189.3H1066.8M1040.4 199.7H1066.8M1040.4 210.1H1066.8M1040.4 220.5H1066.8M1040.4 230.9H1066.8M1040.4 241.3H1066.8M1040.4 251.7H1066.8M1040.4 262.1H1066.8M1040.4 272.5H1066.8M1040.4 282.9H1066.8M1040.4 293.2H1066.8M1040.4 303.6H1066.8M1040.4 314H1066.8M1040.4 324.4H1066.8M1040.4 334.8H1066.8M1040.4 345.2H1066.8M1040.4 355.6H1066.8M1040.4 366H1066.8M1040.4 376.4H1066.8M1040.4 386.8H1066.8M1040.4 397.2H1066.8M1040.4 407.6H1066.8M1040.4 418H1066.8M1040.4 428.3H1066.8M1040.4 438.7H1066.8M1040.4 449.1H1066.8M1040.4 459.5H1066.8M1040.4 469.9H1066.8M1040.4 480.3H1066.8M1040.4 490.7H1066.8M1040.4 501.1H1066.8M1040.4 511.5H1066.8M1040.4 521.9H1066.8M1040.4 532.3H1066.8M1040.4 542.7H1066.8M1040.4 553H1066.8M1040.4 563.4H1066.8M1040.4 573.8H1066.8M1040.4 584.2H1066.8M1040.4 594.6H1066.8M1040.4 605H1066.8M1040.4 615.4H1066.8M1040.4 625.8H1066.8M1040.4 636.2H1066.8M1040.4 646.6H1066.8M1040.4 657H1066.8M1040.4 667.4H1066.8M1040.4 677.8H1066.8M1040.4 688.1H1066.8M1040.4 698.5H1066.8M1040.4 708.9H1066.8M1040.4 719.3H1066.8M1040.4 729.7H1066.8M1040.4 740.1H1066.8M1040.4 750.5H1066.8M1040.4 760.9H1066.8M1040.4 771.3H1066.8M1040.4 781.7H1066.8M1040.4 792.1H1066.8M1040.4 802.5H1066.8M1040.4 812.8H1066.8M1040.4 823.2H1066.8M1040.4 833.6H1066.8M1040.4 844H1066.8M1040.4 854.4H1066.8M1040.4 864.8H1066.8M1040.4 875.2H1066.8M1040.4 885.6H1066.8M1040.4 896H1066.8M1040.4 906.4H1066.8M1040.4 916.8H1066.8M1040.4 927.2H1066.8M1040.4 937.6H1066.8M1040.4 947.9H1066.8M1040.4 958.3H1066.8M1040.4 968.7H1066.8M1040.4 979.1H1066.8M1040.4 989.5H1066.8M1040.4 999.9H1066.8M1040.4 1010.3H1066.8M1040.4 1020.7H1066.8M1040.4 1031.1H1066.8M1040.4 1041.5H1066.8M1040.4 1051.9H1066.8M1040.4 1062.3H1066.8M1040.4 1072.6H1066.8M1040.4 1083H1066.8M1040.4 1093.4H1066.8M1040.4 1103.8H1066.8M1040.4 1114.2H1066.8M1040.4 1124.6H1066.8M1040.4 1135H1066.8M1040.4 1145.4H1066.8M1040.4 1155.8H1066.8M1040.4 1166.2H1066.8M1040.4 1176.6H1066.8M1040.4 1187H1066.8M1040.4 1197.4H1066.8M1040.4 1207.7H1066.8M1040.4 1218.1H1066.8M1040.4 1228.5H1066.8M1040.4 1238.9H1066.8M1040.4 1249.3H1066.8M1040.4 1259.7H1066.8M1040.4 1270.1H1066.8M1040.4 1280.5H1066.8M1040.4 1290.9H1066.8M1040.4 1301.3H1066.8M1040.4 95.8V1301.3M1049.2 95.8V1301.3M1058 95.8V1301.3M1066.8 95.8V1301.3" stroke="#3a3a3a" stroke-width="1" fill="none"/>
<rect x="1075.3" y="95.8" width="8.5" height="10.4" fill="#d9ebcf"/>
<rect x="1075.3" y="106.2" width="8.5" height="10.4" fill="#98c47e"/>
<rect x="1075.3" y="127" width="8.5" height="10.4" fill="#ecf5e7"/>
<rect x="1075.3" y="137.4" width="8.5" height="10.4" fill="#ecf5e7"/>
<rect x="1075.3" y="147.8" width="8.5" height="10.4" fill="#ecf5e7"/>
<rect x="1075.3" y="168.5" width="8.5" height="10.4" fill="#ecf5e7"/>
<rect x="1075.3" y="178.9" width="8.5" height="10.4" fill="#ecf5e7"/>
<rect x="1075.3" y="189.3" width="8.5" height="10.4" fill="#ecf5e7"/>
<rect x="1075.3" y="199.7" width="8.5" height="10.4" fill="#ecf5e7"/>
<rect x="1075.3" y="210.1" width="8.5" height="10.4" fill="#d9ebcf"/>
<rect x="1075.3" y="220.5" width="8.5" height="10.4" fill="#d9ebcf"/>
<rect x="1075.3" y="230.9" width="8.5" height="10.4" fill="#ecf5e7"/>
<rect x="1075.3" y="241.3" width="8.5" height="10.4" fill="#ecf5e7"/>
<rect x="1075.3" y="282.9" width="8.5" height="10.4" fill="#d9ebcf"/>
<rect x="1075.3" y="303.6" width="8.5" height="10.4" fill="#ecf5e7"/>
<rect x="1075.3" y="314" width="8.5" height="10.4" fill="#d9ebcf"/>
<rect x="1075.3" y="345.2" width="8.5" height="10.4" fill="#c8e2ba"/>
<rect x="1075.3" y="355.6" width="8.5" height="10.4" fill="#c8e2ba"/>
<rect x="1075.3" y="376.4" width="8.5" height="10.4" fill="#b8d8a5"/>
<rect x="1075.3" y="418" width="8.5" height="10.4" fill="#c8e2ba"/>
<rect x="1075.3" y="428.3" width="8.5" height="10.4" fill="#d9ebcf"/>
<rect x="1075.3" y="449.1" width="8.5" height="10.4" fill="#b8d8a5"/>
<rect x="1075.3" y="459.5" width="8.5" height="10.4" fill="#b8d8a5"/>
<rect x="1075.3" y="480.3" width="8.5" height="10.4" fill="#ecf5e7"/>
<rect x="1075.3" y="490.7" width="8.5" height="10.4" fill="#ecf5e7"/>
<rect x="1075.3" y="521.9" width="8.5" height="10.4" fill="#ecf5e7"/>
<rect x="1075.3" y="636.2" width="8.5" height="10.4" fill="#ecf5e7"/>
<rect x="1075.3" y="688.1" width="8.5" height="10.4" fill="#c8e2ba"/>
<rect x="1075.3" y="750.5" width="8.5" height="10.4" fill="#c8e2ba"/>
<rect x="1075.3" y="781.7" width="8.5" height="10.4" fill="#c8e2ba"/>
<rect x="1075.3" y="792.1" width="8.5" height="10.4" fill="#b8d8a5"/>
<rect x="1075.3" y="812.8" width="8.5" height="10.4" fill="#ecf5e7"/>
<rect x="1075.3" y="833.6" width="8.5" height="10.4" fill="#b8d8a5"/>
<rect x="1075.3" y="916.8" width="8.5" height="10.4" fill="#d9ebcf"/>
<rect x="1075.3" y="937.6" width="8.5" height="10.4" fill="#d9ebcf"/>
<rect x="1075.3" y="947.9" width="8.5" height="10.4" fill="#66a048"/>
<rect x="1075.3" y="958.3" width="8.5" height="10.4" fill="#c8e2ba"/>
<rect x="1075.3" y="968.7" width="8.5" height="10.4" fill="#7fb263"/>
<rect x="1075.3" y="979.1" width="8.5" height="10.4" fill="#b8d8a5"/>
<rect x="1075.3" y="1020.7" width="8.5" height="10.4" fill="#d9ebcf"/>
<rect x="1075.3" y="1031.1" width="8.5" height="10.4" fill="#ecf5e7"/>
<rect x="1075.3" y="1051.9" width="8.5" height="10.4" fill="#c8e2ba"/>
<rect x="1075.3" y="1062.3" width="8.5" height="10.4" fill="#c8e2ba"/>
<rect x="1075.3" y="1114.2" width="8.5" height="10.4" fill="#c8e2ba"/>
<rect x="1075.3" y="1124.6" width="8.5" height="10.4" fill="#ecf5e7"/>
<rect x="1075.3" y="1135" width="8.5" height="10.4" fill="#ecf5e7"/>
<rect x="1075.3" y="1155.8" width="8.5" height="10.4" fill="#c8e2ba"/>
<rect x="1075.3" y="1166.2" width="8.5" height="10.4" fill="#c8e2ba"/>
<rect x="1075.3" y="1187" width="8.5" height="10.4" fill="#b8d8a5"/>
<rect x="1075.3" y="1197.4" width="8.5" height="10.4" fill="#98c47e"/>
<rect x="1075.3" y="1218.1" width="8.5" height="10.4" fill="#c8e2ba"/>
<rect x="1075.3" y="1228.5" width="8.5" height="10.4" fill="#c8e2ba"/>
<rect x="1075.3" y="1238.9" width="8.5" height="10.4" fill="#98c47e"/>
<rect x="1075.3" y="1290.9" width="8.5" height="10.4" fill="#ecf5e7"/>
<path d="M1075.3 95.8H1083.8M1075.3 106.2H1083.8M1075.3 116.6H1083.8M1075.3 127H1083.8M1075.3 137.4H1083.8M1075.3 147.8H1083.8M1075.3 158.2H1083.8M1075.3 168.5H1083.8M1075.3 178.9H1083.8M1075.3 189.3H1083.8M1075.3 199.7H1083.8M1075.3 210.1H1083.8M1075.3 220.5H1083.8M1075.3 230.9H1083.8M1075.3 241.3H1083.8M1075.3 251.7H1083.8M1075.3 262.1H1083.8M1075.3 272.5H1083.8M1075.3 282.9H1083.8M1075.3 293.2H1083.8M1075.3 303.6H1083.8M1075.3 314H1083.8M1075.3 324.4H1083.8M1075.3 334.8H1083.8M1075.3 345.2H1083.8M1075.3 355.6H1083.8M1075.3 366H1083.8M1075.3 376.4H1083.8M1075.3 386.8H1083.8M1075.3 397.2H1083.8M1075.3 407.6H1083.8M1075.3 418H1083.8M1075.3 428.3H1083.8M1075.3 438.7H1083.8M1075.3 449.1H1083.8M1075.3 459.5H1083.8M1075.3 469.9H1083.8M1075.3 480.3H1083.8M1075.3 490.7H1083.8M1075.3 501.1H1083.8M1075.3 511.5H1083.8M1075.3 521.9H1083.8M1075.3 532.3H1083.8M1075.3 542.7H1083.8M1075.3 553H1083.8M1075.3 563.4H1083.8M1075.3 573.8H1083.8M1075.3 584.2H1083.8M1075.3 594.6H1083.8M1075.3 605H1083.8M1075.3 615.4H1083.8M1075.3 625.8H1083.8M1075.3 636.2H1083.8M1075.3 646.6H1083.8M1075.3 657H1083.8M1075.3 667.4H1083.8M1075.3 677.8H1083.8M1075.3 688.1H1083.8M1075.3 698.5H1083.8M1075.3 708.9H1083.8M1075.3 719.3H1083.8M1075.3 729.7H1083.8M1075.3 740.1H1083.8M1075.3 750.5H1083.8M1075.3 760.9H1083.8M1075.3 771.3H1083.8M1075.3 781.7H1083.8M1075.3 792.1H1083.8M1075.3 802.5H1083.8M1075.3 812.8H1083.8M1075.3 823.2H1083.8M1075.3 833.6H1083.8M1075.3 844H1083.8M1075.3 854.4H1083.8M1075.3 864.8H1083.8M1075.3 875.2H1083.8M1075.3 885.6H1083.8M1075.3 896H1083.8M1075.3 906.4H1083.8M1075.3 916.8H1083.8M1075.3 927.2H1083.8M1075.3 937.6H1083.8M1075.3 947.9H1083.8M1075.3 958.3H1083.8M1075.3 968.7H1083.8M1075.3 979.1H1083.8M1075.3 989.5H1083.8M1075.3 999.9H1083.8M1075.3 1010.3H1083.8M1075.3 1020.7H1083.8M1075.3 1031.1H1083.8M1075.3 1041.5H1083.8M1075.3 1051.9H1083.8M1075.3 1062.3H1083.8M1075.3 1072.6H1083.8M1075.3 1083H1083.8M1075.3 1093.4H1083.8M1075.3 1103.8H1083.8M1075.3 1114.2H1083.8M1075.3 1124.6H1083.8M1075.3 1135H1083.8M1075.3 1145.4H1083.8M1075.3 1155.8H1083.8M1075.3 1166.2H1083.8M1075.3 1176.6H1083.8M1075.3 1187H1083.8M1075.3 1197.4H1083.8M1075.3 1207.7H1083.8M1075.3 1218.1H1083.8M1075.3 1228.5H1083.8M1075.3 1238.9H1083.8M1075.3 1249.3H1083.8M1075.3 1259.7H1083.8M1075.3 1270.1H1083.8M1075.3 1280.5H1083.8M1075.3 1290.9H1083.8M1075.3 1301.3H1083.8M1075.3 95.8V1301.3M1083.8 95.8V1301.3" stroke="#3a3a3a" stroke-width="1" fill="none"/>
<rect x="1127.3" y="95.8" width="8.7" height="10.4" fill="#e6d8e8"/>
<rect x="1092.5" y="106.2" width="8.7" height="10.4" fill="#e6d8e8"/>
<rect x="1101.2" y="106.2" width="8.7" height="10.4" fill="#d8c4dc"/>
<rect x="1109.9" y="106.2" width="8.7" height="10.4" fill="#e6d8e8"/>
<rect x="1092.5" y="116.6" width="8.7" height="10.4" fill="#b898be"/>
<rect x="1101.2" y="116.6" width="8.7" height="10.4" fill="#e6d8e8"/>
<rect x="1127.3" y="116.6" width="8.7" height="10.4" fill="#e6d8e8"/>
<rect x="1092.5" y="127" width="8.7" height="10.4" fill="#b898be"/>
<rect x="1101.2" y="127" width="8.7" height="10.4" fill="#f2ecf4"/>
<rect x="1118.6" y="127" width="8.7" height="10.4" fill="#f2ecf4"/>
<rect x="1127.3" y="127" width="8.7" height="10.4" fill="#f2ecf4"/>
<rect x="1136" y="127" width="8.7" height="10.4" fill="#f2ecf4"/>
<rect x="1092.5" y="137.4" width="8.7" height="10.4" fill="#e6d8e8"/>
<rect x="1101.2" y="137.4" width="8.7" height="10.4" fill="#e6d8e8"/>
<rect x="1127.3" y="137.4" width="8.7" height="10.4" fill="#f2ecf4"/>
<rect x="1092.5" y="147.8" width="8.7" height="10.4" fill="#f2ecf4"/>
<rect x="1101.2" y="147.8" width="8.7" height="10.4" fill="#e6d8e8"/>
<rect x="1092.5" y="158.2" width="8.7" height="10.4" fill="#cbb1cf"/>
<rect x="1127.3" y="158.2" width="8.7" height="10.4" fill="#e6d8e8"/>
<rect x="1127.3" y="168.5" width="8.7" height="10.4" fill="#f2ecf4"/>
<rect x="1092.5" y="178.9" width="8.7" height="10.4" fill="#f2ecf4"/>
<rect x="1101.2" y="178.9" width="8.7" height="10.4" fill="#f2ecf4"/>
<rect x="1118.6" y="178.9" width="8.7" height="10.4" fill="#f2ecf4"/>
<rect x="1127.3" y="178.9" width="8.7" height="10.4" fill="#f2ecf4"/>
<rect x="1092.5" y="189.3" width="8.7" height="10.4" fill="#f2ecf4"/>
<rect x="1101.2" y="189.3" width="8.7" height="10.4" fill="#f2ecf4"/>
<rect x="1127.3" y="189.3" width="8.7" height="10.4" fill="#f2ecf4"/>
<rect x="1092.5" y="199.7" width="8.7" height="10.4" fill="#d8c4dc"/>
<rect x="1101.2" y="199.7" width="8.7" height="10.4" fill="#f2ecf4"/>
<rect x="1109.9" y="199.7" width="8.7" height="10.4" fill="#e6d8e8"/>
<rect x="1127.3" y="199.7" width="8.7" height="10.4" fill="#f2ecf4"/>
<rect x="1092.5" y="210.1" width="8.7" height="10.4" fill="#cbb1cf"/>
<rect x="1101.2" y="210.1" width="8.7" height="10.4" fill="#f2ecf4"/>
<rect x="1109.9" y="210.1" width="8.7" height="10.4" fill="#e6d8e8"/>
<rect x="1127.3" y="210.1" width="8.7" height="10.4" fill="#f2ecf4"/>
<rect x="1092.5" y="220.5" width="8.7" height="10.4" fill="#f2ecf4"/>
<rect x="1101.2" y="220.5" width="8.7" height="10.4" fill="#f2ecf4"/>
<rect x="1118.6" y="220.5" width="8.7" height="10.4" fill="#f2ecf4"/>
<rect x="1127.3" y="220.5" width="8.7" height="10.4" fill="#f2ecf4"/>
<rect x="1092.5" y="230.9" width="8.7" height="10.4" fill="#f2ecf4"/>
<rect x="1127.3" y="230.9" width="8.7" height="10.4" fill="#f2ecf4"/>
<rect x="1101.2" y="241.3" width="8.7" height="10.4" fill="#f2ecf4"/>
<rect x="1127.3" y="241.3" width="8.7" height="10.4" fill="#f2ecf4"/>
<rect x="1092.5" y="251.7" width="8.7" height="10.4" fill="#f2ecf4"/>
<rect x="1127.3" y="251.7" width="8.7" height="10.4" fill="#f2ecf4"/>
<rect x="1127.3" y="262.1" width="8.7" height="10.4" fill="#e6d8e8"/>
<rect x="1092.5" y="272.5" width="8.7" height="10.4" fill="#f2ecf4"/>
<rect x="1101.2" y="272.5" width="8.7" height="10.4" fill="#e6d8e8"/>
<rect x="1127.3" y="272.5" width="8.7" height="10.4" fill="#f2ecf4"/>
<rect x="1092.5" y="293.2" width="8.7" height="10.4" fill="#f2ecf4"/>
<rect x="1127.3" y="293.2" width="8.7" height="10.4" fill="#f2ecf4"/>
<rect x="1092.5" y="303.6" width="8.7" height="10.4" fill="#e6d8e8"/>
<rect x="1101.2" y="303.6" width="8.7" height="10.4" fill="#f2ecf4"/>
<rect x="1109.9" y="303.6" width="8.7" height="10.4" fill="#f2ecf4"/>
<rect x="1127.3" y="303.6" width="8.7" height="10.4" fill="#f2ecf4"/>
<rect x="1101.2" y="314" width="8.7" height="10.4" fill="#f2ecf4"/>
<rect x="1127.3" y="314" width="8.7" height="10.4" fill="#f2ecf4"/>
<rect x="1101.2" y="324.4" width="8.7" height="10.4" fill="#f2ecf4"/>
<rect x="1127.3" y="324.4" width="8.7" height="10.4" fill="#e6d8e8"/>
<rect x="1101.2" y="334.8" width="8.7" height="10.4" fill="#f2ecf4"/>
<rect x="1127.3" y="334.8" width="8.7" height="10.4" fill="#f2ecf4"/>
<rect x="1092.5" y="345.2" width="8.7" height="10.4" fill="#f2ecf4"/>
<rect x="1101.2" y="345.2" width="8.7" height="10.4" fill="#f2ecf4"/>
<rect x="1127.3" y="345.2" width="8.7" height="10.4" fill="#f2ecf4"/>
<rect x="1092.5" y="355.6" width="8.7" height="10.4" fill="#f2ecf4"/>
<rect x="1101.2" y="355.6" width="8.7" height="10.4" fill="#e6d8e8"/>
<rect x="1109.9" y="355.6" width="8.7" height="10.4" fill="#e6d8e8"/>
<rect x="1127.3" y="355.6" width="8.7" height="10.4" fill="#f2ecf4"/>
<rect x="1092.5" y="366" width="8.7" height="10.4" fill="#e6d8e8"/>
<rect x="1101.2" y="366" width="8.7" height="10.4" fill="#f2ecf4"/>
<rect x="1127.3" y="366" width="8.7" height="10.4" fill="#f2ecf4"/>
<rect x="1136" y="366" width="8.7" height="10.4" fill="#f2ecf4"/>
<rect x="1092.5" y="376.4" width="8.7" height="10.4" fill="#cbb1cf"/>
<rect x="1101.2" y="376.4" width="8.7" height="10.4" fill="#e6d8e8"/>
<rect x="1127.3" y="376.4" width="8.7" height="10.4" fill="#f2ecf4"/>
<rect x="1092.5" y="386.8" width="8.7" height="10.4" fill="#a47ead"/>
<rect x="1109.9" y="386.8" width="8.7" height="10.4" fill="#f2ecf4"/>
<rect x="1127.3" y="386.8" width="8.7" height="10.4" fill="#e6d8e8"/>
<rect x="1092.5" y="397.2" width="8.7" height="10.4" fill="#f2ecf4"/>
<rect x="1109.9" y="397.2" width="8.7" height="10.4" fill="#f2ecf4"/>
<rect x="1127.3" y="397.2" width="8.7" height="10.4" fill="#f2ecf4"/>
<rect x="1092.5" y="407.6" width="8.7" height="10.4" fill="#e6d8e8"/>
<rect x="1127.3" y="407.6" width="8.7" height="10.4" fill="#f2ecf4"/>
<rect x="1092.5" y="418" width="8.7" height="10.4" fill="#f2ecf4"/>
<rect x="1109.9" y="418" width="8.7" height="10.4" fill="#f2ecf4"/>
<rect x="1127.3" y="418" width="8.7" height="10.4" fill="#f2ecf4"/>
<rect x="1092.5" y="428.3" width="8.7" height="10.4" fill="#f2ecf4"/>
<rect x="1127.3" y="428.3" width="8.7" height="10.4" fill="#f2ecf4"/>
<rect x="1101.2" y="438.7" width="8.7" height="10.4" fill="#f2ecf4"/>
<rect x="1127.3" y="438.7" width="8.7" height="10.4" fill="#f2ecf4"/>
<rect x="1092.5" y="480.3" width="8.7" height="10.4" fill="#e6d8e8"/>
<rect x="1092.5" y="490.7" width="8.7" height="10.4" fill="#e6d8e8"/>
<rect x="1101.2" y="501.1" width="8.7" height="10.4" fill="#f2ecf4"/>
<rect x="1092.5" y="511.5" width="8.7" height="10.4" fill="#f2ecf4"/>
<rect x="1101.2" y="511.5" width="8.7" height="10.4" fill="#d8c4dc"/>
<rect x="1101.2" y="521.9" width="8.7" height="10.4" fill="#f2ecf4"/>
<rect x="1109.9" y="521.9" width="8.7" height="10.4" fill="#f2ecf4"/>
<rect x="1092.5" y="542.7" width="8.7" height="10.4" fill="#e6d8e8"/>
<rect x="1101.2" y="542.7" width="8.7" height="10.4" fill="#f2ecf4"/>
<rect x="1127.3" y="542.7" width="8.7" height="10.4" fill="#e6d8e8"/>
<rect x="1092.5" y="553" width="8.7" height="10.4" fill="#f2ecf4"/>
<rect x="1101.2" y="553" width="8.7" height="10.4" fill="#f2ecf4"/>
<rect x="1127.3" y="553" width="8.7" height="10.4" fill="#e6d8e8"/>
<rect x="1092.5" y="563.4" width="8.7" height="10.4" fill="#f2ecf4"/>
<rect x="1109.9" y="563.4" width="8.7" height="10.4" fill="#f2ecf4"/>
<rect x="1127.3" y="563.4" width="8.7" height="10.4" fill="#f2ecf4"/>
<rect x="1092.5" y="573.8" width="8.7" height="10.4" fill="#d8c4dc"/>
<rect x="1127.3" y="573.8" width="8.7" height="10.4" fill="#f2ecf4"/>
<rect x="1092.5" y="584.2" width="8.7" height="10.4" fill="#d8c4dc"/>
<rect x="1101.2" y="584.2" width="8.7" height="10.4" fill="#f2ecf4"/>
<rect x="1127.3" y="584.2" width="8.7" height="10.4" fill="#e6d8e8"/>
<rect x="1136" y="584.2" width="8.7" height="10.4" fill="#f2ecf4"/>
<rect x="1092.5" y="594.6" width="8.7" height="10.4" fill="#d8c4dc"/>
<rect x="1101.2" y="594.6" width="8.7" height="10.4" fill="#f2ecf4"/>
<rect x="1109.9" y="594.6" width="8.7" height="10.4" fill="#cbb1cf"/>
<rect x="1127.3" y="594.6" width="8.7" height="10.4" fill="#d8c4dc"/>
<rect x="1136" y="594.6" width="8.7" height="10.4" fill="#d8c4dc"/>
<rect x="1092.5" y="605" width="8.7" height="10.4" fill="#d8c4dc"/>
<rect x="1101.2" y="605" width="8.7" height="10.4" fill="#d8c4dc"/>
<rect x="1109.9" y="605" width="8.7" height="10.4" fill="#b898be"/>
<rect x="1127.3" y="605" width="8.7" height="10.4" fill="#d8c4dc"/>
<rect x="1136" y="605" width="8.7" height="10.4" fill="#d8c4dc"/>
<rect x="1092.5" y="615.4" width="8.7" height="10.4" fill="#e6d8e8"/>
<rect x="1109.9" y="615.4" width="8.7" height="10.4" fill="#e6d8e8"/>
<rect x="1127.3" y="615.4" width="8.7" height="10.4" fill="#e6d8e8"/>
<rect x="1092.5" y="625.8" width="8.7" height="10.4" fill="#e6d8e8"/>
<rect x="1101.2" y="625.8" width="8.7" height="10.4" fill="#d8c4dc"/>
<rect x="1109.9" y="625.8" width="8.7" height="10.4" fill="#d8c4dc"/>
<rect x="1127.3" y="625.8" width="8.7" height="10.4" fill="#e6d8e8"/>
<rect x="1092.5" y="636.2" width="8.7" height="10.4" fill="#e6d8e8"/>
<rect x="1101.2" y="636.2" width="8.7" height="10.4" fill="#f2ecf4"/>
<rect x="1109.9" y="636.2" width="8.7" height="10.4" fill="#e6d8e8"/>
<rect x="1127.3" y="636.2" width="8.7" height="10.4" fill="#e6d8e8"/>
<rect x="1092.5" y="646.6" width="8.7" height="10.4" fill="#e6d8e8"/>
<rect x="1101.2" y="646.6" width="8.7" height="10.4" fill="#f2ecf4"/>
<rect x="1109.9" y="646.6" width="8.7" height="10.4" fill="#e6d8e8"/>
<rect x="1127.3" y="646.6" width="8.7" height="10.4" fill="#e6d8e8"/>
<rect x="1092.5" y="657" width="8.7" height="10.4" fill="#d8c4dc"/>
<rect x="1109.9" y="657" width="8.7" height="10.4" fill="#d8c4dc"/>
<rect x="1127.3" y="657" width="8.7" height="10.4" fill="#d8c4dc"/>
<rect x="1092.5" y="667.4" width="8.7" height="10.4" fill="#f2ecf4"/>
<rect x="1101.2" y="667.4" width="8.7" height="10.4" fill="#f2ecf4"/>
<rect x="1109.9" y="667.4" width="8.7" height="10.4" fill="#f2ecf4"/>
<rect x="1127.3" y="667.4" width="8.7" height="10.4" fill="#f2ecf4"/>
<rect x="1092.5" y="677.8" width="8.7" height="10.4" fill="#e6d8e8"/>
<rect x="1101.2" y="677.8" width="8.7" height="10.4" fill="#f2ecf4"/>
<rect x="1127.3" y="677.8" width="8.7" height="10.4" fill="#f2ecf4"/>
<rect x="1092.5" y="688.1" width="8.7" height="10.4" fill="#e6d8e8"/>
<rect x="1109.9" y="688.1" width="8.7" height="10.4" fill="#d8c4dc"/>
<rect x="1127.3" y="688.1" width="8.7" height="10.4" fill="#f2ecf4"/>
<rect x="1092.5" y="698.5" width="8.7" height="10.4" fill="#f2ecf4"/>
<rect x="1101.2" y="698.5" width="8.7" height="10.4" fill="#f2ecf4"/>
<rect x="1109.9" y="698.5" width="8.7" height="10.4" fill="#cbb1cf"/>
<rect x="1127.3" y="698.5" width="8.7" height="10.4" fill="#f2ecf4"/>
<rect x="1092.5" y="708.9" width="8.7" height="10.4" fill="#d8c4dc"/>
<rect x="1101.2" y="708.9" width="8.7" height="10.4" fill="#d8c4dc"/>
<rect x="1109.9" y="708.9" width="8.7" height="10.4" fill="#d8c4dc"/>
<rect x="1127.3" y="708.9" width="8.7" height="10.4" fill="#f2ecf4"/>
<rect x="1136" y="708.9" width="8.7" height="10.4" fill="#f2ecf4"/>
<rect x="1092.5" y="719.3" width="8.7" height="10.4" fill="#e6d8e8"/>
<rect x="1101.2" y="719.3" width="8.7" height="10.4" fill="#e6d8e8"/>
<rect x="1109.9" y="719.3" width="8.7" height="10.4" fill="#d8c4dc"/>
<rect x="1127.3" y="719.3" width="8.7" height="10.4" fill="#f2ecf4"/>
<rect x="1136" y="719.3" width="8.7" height="10.4" fill="#e6d8e8"/>
<rect x="1092.5" y="729.7" width="8.7" height="10.4" fill="#d8c4dc"/>
<rect x="1101.2" y="729.7" width="8.7" height="10.4" fill="#f2ecf4"/>
<rect x="1109.9" y="729.7" width="8.7" height="10.4" fill="#f2ecf4"/>
<rect x="1127.3" y="729.7" width="8.7" height="10.4" fill="#f2ecf4"/>
<rect x="1092.5" y="740.1" width="8.7" height="10.4" fill="#d8c4dc"/>
<rect x="1101.2" y="740.1" width="8.7" height="10.4" fill="#e6d8e8"/>
<rect x="1127.3" y="740.1" width="8.7" height="10.4" fill="#f2ecf4"/>
<rect x="1101.2" y="750.5" width="8.7" height="10.4" fill="#f2ecf4"/>
<rect x="1127.3" y="750.5" width="8.7" height="10.4" fill="#f2ecf4"/>
<rect x="1101.2" y="760.9" width="8.7" height="10.4" fill="#f2ecf4"/>
<rect x="1109.9" y="760.9" width="8.7" height="10.4" fill="#f2ecf4"/>
<rect x="1127.3" y="760.9" width="8.7" height="10.4" fill="#f2ecf4"/>
<rect x="1092.5" y="771.3" width="8.7" height="10.4" fill="#e6d8e8"/>
<rect x="1127.3" y="771.3" width="8.7" height="10.4" fill="#f2ecf4"/>
<rect x="1101.2" y="781.7" width="8.7" height="10.4" fill="#f2ecf4"/>
<rect x="1127.3" y="781.7" width="8.7" height="10.4" fill="#f2ecf4"/>
<rect x="1092.5" y="792.1" width="8.7" height="10.4" fill="#e6d8e8"/>
<rect x="1127.3" y="792.1" width="8.7" height="10.4" fill="#e6d8e8"/>
<rect x="1092.5" y="802.5" width="8.7" height="10.4" fill="#f2ecf4"/>
<rect x="1127.3" y="802.5" width="8.7" height="10.4" fill="#cbb1cf"/>
<rect x="1092.5" y="812.8" width="8.7" height="10.4" fill="#e6d8e8"/>
<rect x="1101.2" y="812.8" width="8.7" height="10.4" fill="#e6d8e8"/>
<rect x="1109.9" y="812.8" width="8.7" height="10.4" fill="#f2ecf4"/>
<rect x="1127.3" y="823.2" width="8.7" height="10.4" fill="#e6d8e8"/>
<rect x="1092.5" y="833.6" width="8.7" height="10.4" fill="#d8c4dc"/>
<rect x="1136" y="833.6" width="8.7" height="10.4" fill="#e6d8e8"/>
<rect x="1092.5" y="844" width="8.7" height="10.4" fill="#f2ecf4"/>
<rect x="1101.2" y="844" width="8.7" height="10.4" fill="#f2ecf4"/>
<rect x="1109.9" y="844" width="8.7" height="10.4" fill="#cbb1cf"/>
<rect x="1127.3" y="844" width="8.7" height="10.4" fill="#f2ecf4"/>
<rect x="1092.5" y="854.4" width="8.7" height="10.4" fill="#e6d8e8"/>
<rect x="1101.2" y="854.4" width="8.7" height="10.4" fill="#f2ecf4"/>
<rect x="1109.9" y="854.4" width="8.7" height="10.4" fill="#d8c4dc"/>
<rect x="1127.3" y="854.4" width="8.7" height="10.4" fill="#f2ecf4"/>
<rect x="1092.5" y="864.8" width="8.7" height="10.4" fill="#e6d8e8"/>
<rect x="1109.9" y="864.8" width="8.7" height="10.4" fill="#cbb1cf"/>
<rect x="1127.3" y="864.8" width="8.7" height="10.4" fill="#f2ecf4"/>
<rect x="1092.5" y="875.2" width="8.7" height="10.4" fill="#f2ecf4"/>
<rect x="1101.2" y="875.2" width="8.7" height="10.4" fill="#f2ecf4"/>
<rect x="1127.3" y="875.2" width="8.7" height="10.4" fill="#f2ecf4"/>
<rect x="1092.5" y="885.6" width="8.7" height="10.4" fill="#f2ecf4"/>
<rect x="1109.9" y="885.6" width="8.7" height="10.4" fill="#f2ecf4"/>
<rect x="1127.3" y="885.6" width="8.7" height="10.4" fill="#f2ecf4"/>
<rect x="1092.5" y="896" width="8.7" height="10.4" fill="#e6d8e8"/>
<rect x="1092.5" y="906.4" width="8.7" height="10.4" fill="#cbb1cf"/>
<rect x="1101.2" y="906.4" width="8.7" height="10.4" fill="#e6d8e8"/>
<rect x="1109.9" y="906.4" width="8.7" height="10.4" fill="#f2ecf4"/>
<rect x="1118.6" y="906.4" width="8.7" height="10.4" fill="#f2ecf4"/>
<rect x="1127.3" y="906.4" width="8.7" height="10.4" fill="#f2ecf4"/>
<rect x="1136" y="906.4" width="8.7" height="10.4" fill="#f2ecf4"/>
<rect x="1092.5" y="916.8" width="8.7" height="10.4" fill="#d8c4dc"/>
<rect x="1101.2" y="916.8" width="8.7" height="10.4" fill="#e6d8e8"/>
<rect x="1118.6" y="916.8" width="8.7" height="10.4" fill="#8b5f96"/>
<rect x="1092.5" y="927.2" width="8.7" height="10.4" fill="#a47ead"/>
<rect x="1101.2" y="927.2" width="8.7" height="10.4" fill="#d8c4dc"/>
<rect x="1118.6" y="927.2" width="8.7" height="10.4" fill="#784882"/>
<rect x="1092.5" y="937.6" width="8.7" height="10.4" fill="#e6d8e8"/>
<rect x="1101.2" y="937.6" width="8.7" height="10.4" fill="#f2ecf4"/>
<rect x="1118.6" y="937.6" width="8.7" height="10.4" fill="#8b5f96"/>
<rect x="1092.5" y="947.9" width="8.7" height="10.4" fill="#e6d8e8"/>
<rect x="1101.2" y="947.9" width="8.7" height="10.4" fill="#d8c4dc"/>
<rect x="1109.9" y="947.9" width="8.7" height="10.4" fill="#cbb1cf"/>
<rect x="1118.6" y="947.9" width="8.7" height="10.4" fill="#8b5f96"/>
<rect x="1127.3" y="947.9" width="8.7" height="10.4" fill="#cbb1cf"/>
<rect x="1101.2" y="958.3" width="8.7" height="10.4" fill="#f2ecf4"/>
<rect x="1109.9" y="958.3" width="8.7" height="10.4" fill="#f2ecf4"/>
<rect x="1118.6" y="958.3" width="8.7" height="10.4" fill="#cbb1cf"/>
<rect x="1127.3" y="958.3" width="8.7" height="10.4" fill="#e6d8e8"/>
<rect x="1136" y="958.3" width="8.7" height="10.4" fill="#f2ecf4"/>
<rect x="1101.2" y="968.7" width="8.7" height="10.4" fill="#e6d8e8"/>
<rect x="1109.9" y="968.7" width="8.7" height="10.4" fill="#e6d8e8"/>
<rect x="1118.6" y="968.7" width="8.7" height="10.4" fill="#d8c4dc"/>
<rect x="1127.3" y="968.7" width="8.7" height="10.4" fill="#d8c4dc"/>
<rect x="1101.2" y="979.1" width="8.7" height="10.4" fill="#cbb1cf"/>
<rect x="1118.6" y="979.1" width="8.7" height="10.4" fill="#e6d8e8"/>
<rect x="1127.3" y="979.1" width="8.7" height="10.4" fill="#cbb1cf"/>
<rect x="1092.5" y="989.5" width="8.7" height="10.4" fill="#f2ecf4"/>
<rect x="1092.5" y="1020.7" width="8.7" height="10.4" fill="#f2ecf4"/>
<rect x="1118.6" y="1020.7" width="8.7" height="10.4" fill="#f2ecf4"/>
<rect x="1092.5" y="1031.1" width="8.7" height="10.4" fill="#f2ecf4"/>
<rect x="1118.6" y="1031.1" width="8.7" height="10.4" fill="#f2ecf4"/>
<rect x="1092.5" y="1041.5" width="8.7" height="10.4" fill="#f2ecf4"/>
<rect x="1101.2" y="1041.5" width="8.7" height="10.4" fill="#f2ecf4"/>
<rect x="1109.9" y="1041.5" width="8.7" height="10.4" fill="#f2ecf4"/>
<rect x="1118.6" y="1041.5" width="8.7" height="10.4" fill="#e6d8e8"/>
<rect x="1092.5" y="1051.9" width="8.7" height="10.4" fill="#d8c4dc"/>
<rect x="1101.2" y="1051.9" width="8.7" height="10.4" fill="#d8c4dc"/>
<rect x="1109.9" y="1051.9" width="8.7" height="10.4" fill="#f2ecf4"/>
<rect x="1118.6" y="1051.9" width="8.7" height="10.4" fill="#f2ecf4"/>
<rect x="1092.5" y="1062.3" width="8.7" height="10.4" fill="#e6d8e8"/>
<rect x="1101.2" y="1062.3" width="8.7" height="10.4" fill="#f2ecf4"/>
<rect x="1109.9" y="1062.3" width="8.7" height="10.4" fill="#f2ecf4"/>
<rect x="1118.6" y="1062.3" width="8.7" height="10.4" fill="#f2ecf4"/>
<rect x="1092.5" y="1072.6" width="8.7" height="10.4" fill="#f2ecf4"/>
<rect x="1118.6" y="1072.6" width="8.7" height="10.4" fill="#e6d8e8"/>
<rect x="1092.5" y="1083" width="8.7" height="10.4" fill="#f2ecf4"/>
<rect x="1101.2" y="1083" width="8.7" height="10.4" fill="#f2ecf4"/>
<rect x="1118.6" y="1083" width="8.7" height="10.4" fill="#f2ecf4"/>
<rect x="1092.5" y="1093.4" width="8.7" height="10.4" fill="#f2ecf4"/>
<rect x="1101.2" y="1093.4" width="8.7" height="10.4" fill="#f2ecf4"/>
<rect x="1118.6" y="1093.4" width="8.7" height="10.4" fill="#e6d8e8"/>
<rect x="1092.5" y="1103.8" width="8.7" height="10.4" fill="#e6d8e8"/>
<rect x="1101.2" y="1103.8" width="8.7" height="10.4" fill="#f2ecf4"/>
<rect x="1118.6" y="1103.8" width="8.7" height="10.4" fill="#e6d8e8"/>
<rect x="1092.5" y="1114.2" width="8.7" height="10.4" fill="#e6d8e8"/>
<rect x="1101.2" y="1114.2" width="8.7" height="10.4" fill="#e6d8e8"/>
<rect x="1109.9" y="1114.2" width="8.7" height="10.4" fill="#e6d8e8"/>
<rect x="1118.6" y="1114.2" width="8.7" height="10.4" fill="#784882"/>
<rect x="1127.3" y="1114.2" width="8.7" height="10.4" fill="#d8c4dc"/>
<rect x="1136" y="1114.2" width="8.7" height="10.4" fill="#f2ecf4"/>
<rect x="1092.5" y="1124.6" width="8.7" height="10.4" fill="#f2ecf4"/>
<rect x="1101.2" y="1124.6" width="8.7" height="10.4" fill="#f2ecf4"/>
<rect x="1109.9" y="1124.6" width="8.7" height="10.4" fill="#e6d8e8"/>
<rect x="1118.6" y="1124.6" width="8.7" height="10.4" fill="#784882"/>
<rect x="1127.3" y="1124.6" width="8.7" height="10.4" fill="#a47ead"/>
<rect x="1136" y="1124.6" width="8.7" height="10.4" fill="#f2ecf4"/>
<rect x="1092.5" y="1135" width="8.7" height="10.4" fill="#e6d8e8"/>
<rect x="1101.2" y="1135" width="8.7" height="10.4" fill="#f2ecf4"/>
<rect x="1118.6" y="1135" width="8.7" height="10.4" fill="#784882"/>
<rect x="1127.3" y="1135" width="8.7" height="10.4" fill="#cbb1cf"/>
<rect x="1136" y="1135" width="8.7" height="10.4" fill="#f2ecf4"/>
<rect x="1092.5" y="1145.4" width="8.7" height="10.4" fill="#cbb1cf"/>
<rect x="1101.2" y="1145.4" width="8.7" height="10.4" fill="#e6d8e8"/>
<rect x="1118.6" y="1145.4" width="8.7" height="10.4" fill="#b898be"/>
<rect x="1092.5" y="1155.8" width="8.7" height="10.4" fill="#e6d8e8"/>
<rect x="1101.2" y="1155.8" width="8.7" height="10.4" fill="#d8c4dc"/>
<rect x="1118.6" y="1155.8" width="8.7" height="10.4" fill="#f2ecf4"/>
<rect x="1092.5" y="1166.2" width="8.7" height="10.4" fill="#e6d8e8"/>
<rect x="1101.2" y="1166.2" width="8.7" height="10.4" fill="#f2ecf4"/>
<rect x="1118.6" y="1166.2" width="8.7" height="10.4" fill="#e6d8e8"/>
<rect x="1092.5" y="1176.6" width="8.7" height="10.4" fill="#d8c4dc"/>
<rect x="1101.2" y="1176.6" width="8.7" height="10.4" fill="#cbb1cf"/>
<rect x="1118.6" y="1176.6" width="8.7" height="10.4" fill="#e6d8e8"/>
<rect x="1101.2" y="1187" width="8.7" height="10.4" fill="#e6d8e8"/>
<rect x="1118.6" y="1187" width="8.7" height="10.4" fill="#e6d8e8"/>
<rect x="1101.2" y="1197.4" width="8.7" height="10.4" fill="#e6d8e8"/>
<rect x="1118.6" y="1197.4" width="8.7" height="10.4" fill="#e6d8e8"/>
<rect x="1101.2" y="1207.7" width="8.7" height="10.4" fill="#f2ecf4"/>
<rect x="1118.6" y="1207.7" width="8.7" height="10.4" fill="#e6d8e8"/>
<rect x="1092.5" y="1218.1" width="8.7" height="10.4" fill="#e6d8e8"/>
<rect x="1101.2" y="1218.1" width="8.7" height="10.4" fill="#e6d8e8"/>
<rect x="1118.6" y="1218.1" width="8.7" height="10.4" fill="#e6d8e8"/>
<rect x="1092.5" y="1228.5" width="8.7" height="10.4" fill="#e6d8e8"/>
<rect x="1101.2" y="1228.5" width="8.7" height="10.4" fill="#b898be"/>
<rect x="1118.6" y="1228.5" width="8.7" height="10.4" fill="#f2ecf4"/>
<rect x="1092.5" y="1238.9" width="8.7" height="10.4" fill="#f2ecf4"/>
<rect x="1101.2" y="1238.9" width="8.7" height="10.4" fill="#f2ecf4"/>
<rect x="1118.6" y="1238.9" width="8.7" height="10.4" fill="#e6d8e8"/>
<rect x="1092.5" y="1249.3" width="8.7" height="10.4" fill="#e6d8e8"/>
<rect x="1118.6" y="1249.3" width="8.7" height="10.4" fill="#b898be"/>
<rect x="1092.5" y="1259.7" width="8.7" height="10.4" fill="#e6d8e8"/>
<rect x="1101.2" y="1259.7" width="8.7" height="10.4" fill="#f2ecf4"/>
<rect x="1118.6" y="1259.7" width="8.7" height="10.4" fill="#d8c4dc"/>
<rect x="1092.5" y="1270.1" width="8.7" height="10.4" fill="#f2ecf4"/>
<rect x="1118.6" y="1270.1" width="8.7" height="10.4" fill="#e6d8e8"/>
<rect x="1092.5" y="1280.5" width="8.7" height="10.4" fill="#f2ecf4"/>
<rect x="1101.2" y="1280.5" width="8.7" height="10.4" fill="#f2ecf4"/>
<rect x="1118.6" y="1280.5" width="8.7" height="10.4" fill="#f2ecf4"/>
<rect x="1092.5" y="1290.9" width="8.7" height="10.4" fill="#f2ecf4"/>
<rect x="1101.2" y="1290.9" width="8.7" height="10.4" fill="#f2ecf4"/>
<rect x="1118.6" y="1290.9" width="8.7" height="10.4" fill="#f2ecf4"/>
<path d="M1092.5 95.8H1144.7M1092.5 106.2H1144.7M1092.5 116.6H1144.7M1092.5 127H1144.7M1092.5 137.4H1144.7M1092.5 147.8H1144.7M1092.5 158.2H1144.7M1092.5 168.5H1144.7M1092.5 178.9H1144.7M1092.5 189.3H1144.7M1092.5 199.7H1144.7M1092.5 210.1H1144.7M1092.5 220.5H1144.7M1092.5 230.9H1144.7M1092.5 241.3H1144.7M1092.5 251.7H1144.7M1092.5 262.1H1144.7M1092.5 272.5H1144.7M1092.5 282.9H1144.7M1092.5 293.2H1144.7M1092.5 303.6H1144.7M1092.5 314H1144.7M1092.5 324.4H1144.7M1092.5 334.8H1144.7M1092.5 345.2H1144.7M1092.5 355.6H1144.7M1092.5 366H1144.7M1092.5 376.4H1144.7M1092.5 386.8H1144.7M1092.5 397.2H1144.7M1092.5 407.6H1144.7M1092.5 418H1144.7M1092.5 428.3H1144.7M1092.5 438.7H1144.7M1092.5 449.1H1144.7M1092.5 459.5H1144.7M1092.5 469.9H1144.7M1092.5 480.3H1144.7M1092.5 490.7H1144.7M1092.5 501.1H1144.7M1092.5 511.5H1144.7M1092.5 521.9H1144.7M1092.5 532.3H1144.7M1092.5 542.7H1144.7M1092.5 553H1144.7M1092.5 563.4H1144.7M1092.5 573.8H1144.7M1092.5 584.2H1144.7M1092.5 594.6H1144.7M1092.5 605H1144.7M1092.5 615.4H1144.7M1092.5 625.8H1144.7M1092.5 636.2H1144.7M1092.5 646.6H1144.7M1092.5 657H1144.7M1092.5 667.4H1144.7M1092.5 677.8H1144.7M1092.5 688.1H1144.7M1092.5 698.5H1144.7M1092.5 708.9H1144.7M1092.5 719.3H1144.7M1092.5 729.7H1144.7M1092.5 740.1H1144.7M1092.5 750.5H1144.7M1092.5 760.9H1144.7M1092.5 771.3H1144.7M1092.5 781.7H1144.7M1092.5 792.1H1144.7M1092.5 802.5H1144.7M1092.5 812.8H1144.7M1092.5 823.2H1144.7M1092.5 833.6H1144.7M1092.5 844H1144.7M1092.5 854.4H1144.7M1092.5 864.8H1144.7M1092.5 875.2H1144.7M1092.5 885.6H1144.7M1092.5 896H1144.7M1092.5 906.4H1144.7M1092.5 916.8H1144.7M1092.5 927.2H1144.7M1092.5 937.6H1144.7M1092.5 947.9H1144.7M1092.5 958.3H1144.7M1092.5 968.7H1144.7M1092.5 979.1H1144.7M1092.5 989.5H1144.7M1092.5 999.9H1144.7M1092.5 1010.3H1144.7M1092.5 1020.7H1144.7M1092.5 1031.1H1144.7M1092.5 1041.5H1144.7M1092.5 1051.9H1144.7M1092.5 1062.3H1144.7M1092.5 1072.6H1144.7M1092.5 1083H1144.7M1092.5 1093.4H1144.7M1092.5 1103.8H1144.7M1092.5 1114.2H1144.7M1092.5 1124.6H1144.7M1092.5 1135H1144.7M1092.5 1145.4H1144.7M1092.5 1155.8H1144.7M1092.5 1166.2H1144.7M1092.5 1176.6H1144.7M1092.5 1187H1144.7M1092.5 1197.4H1144.7M1092.5 1207.7H1144.7M1092.5 1218.1H1144.7M1092.5 1228.5H1144.7M1092.5 1238.9H1144.7M1092.5 1249.3H1144.7M1092.5 1259.7H1144.7M1092.5 1270.1H1144.7M1092.5 1280.5H1144.7M1092.5 1290.9H1144.7M1092.5 1301.3H1144.7M1092.5 95.8V1301.3M1101.2 95.8V1301.3M1109.9 95.8V1301.3M1118.6 95.8V1301.3M1127.3 95.8V1301.3M1136 95.8V1301.3M1144.7 95.8V1301.3" stroke="#3a3a3a" stroke-width="1" fill="none"/>
<g font-size="7.2" fill="#222">
<text transform="translate(988.3,95.5) rotate(-45)" font-size="8.7">Phylum</text>
<text transform="translate(1002.4,95.6) rotate(-45)">COG0168</text>
<text transform="translate(1011.2,95.6) rotate(-45)">COG3158</text>
<text transform="translate(1020.1,95.6) rotate(-45)">COG0530</text>
<text transform="translate(1028.9,95.6) rotate(-45)">COG0038</text>
<text transform="translate(1045.6,95.6) rotate(-45)">COG0591</text>
<text transform="translate(1054.4,95.6) rotate(-45)">COG0477</text>
<text transform="translate(1063.2,95.6) rotate(-45)">COG1115</text>
<text transform="translate(1080.3,95.6) rotate(-45)">COG0580</text>
<text transform="translate(1097.6,95.6) rotate(-45)">COG2217</text>
<text transform="translate(1106.3,95.6) rotate(-45)">COG0861</text>
<text transform="translate(1115,95.6) rotate(-45)">COG2059</text>
<text transform="translate(1123.8,95.6) rotate(-45)">COG2409</text>
<text transform="translate(1132.5,95.6) rotate(-45)">COG0767</text>
<text transform="translate(1141.1,95.6) rotate(-45)">COG1613</text>
</g>
<rect x="997.2" y="1308.5" width="35.3" height="5.7" rx="0.6" fill="#9b1a32" stroke="#444" stroke-width="0.7"/>
<rect x="1040.4" y="1308.5" width="26.4" height="5.7" rx="0.6" fill="#f7aa4c" stroke="#444" stroke-width="0.7"/>
<rect x="1075.3" y="1308.5" width="8.5" height="5.7" rx="0.6" fill="#46654b" stroke="#444" stroke-width="0.7"/>
<rect x="1092.5" y="1308.5" width="26.1" height="5.7" fill="#9b1a32"/>
<rect x="1118.6" y="1308.5" width="8.7" height="5.7" fill="#4db5aa"/>
<rect x="1127.3" y="1308.5" width="8.7" height="5.7" fill="#3451a6"/>
<rect x="1136" y="1308.5" width="8.7" height="5.7" fill="#9b1a32"/>
<rect x="1092.5" y="1308.5" width="52.2" height="5.7" rx="0.6" fill="none" stroke="#444" stroke-width="0.7"/>
<text x="988.5" y="1313.5" font-size="7.4" font-style="italic" fill="#333" text-anchor="end">Category of COGs</text>
<line x1="997.2" y1="1320.9" x2="1083.8" y2="1320.9" stroke="#000" stroke-width="2"/>
<line x1="1092.5" y1="1320.9" x2="1144.7" y2="1320.9" stroke="#000" stroke-width="2"/>
<text x="1038.5" y="1330.6" font-size="7.4" font-style="italic" fill="#333" text-anchor="middle">osmoregulation</text>
<text x="1116" y="1330.6" font-size="7.4" font-style="italic" fill="#333" text-anchor="middle">other adaptations</text>
<text x="4" y="744" font-size="33" font-weight="bold" fill="#000">c</text>
<text x="25.4" y="787" font-size="8.6" fill="#666">Tree scale: 0.1</text>
<path d="M91.3 784.5H115.7M91.3 781V788M115.7 781V788M103.5 784.5V786.8" stroke="#555" stroke-width="2.1" fill="none"/>
<line x1="23.5" y1="792.2" x2="23.5" y2="837.4" stroke="#111" stroke-width="2.0" stroke-linecap="square"/>
<line x1="23.5" y1="792.2" x2="77.2" y2="792.2" stroke="#e0596f" stroke-width="2.0"/>
<line x1="23.5" y1="807.7" x2="31" y2="807.7" stroke="#e0596f" stroke-width="2.0"/>
<line x1="30" y1="802.5" x2="30" y2="812.9" stroke="#e0596f" stroke-width="2.0" stroke-linecap="square"/>
<line x1="30" y1="802.5" x2="74.3" y2="802.5" stroke="#e0596f" stroke-width="2.0"/>
<line x1="30" y1="812.9" x2="71" y2="812.9" stroke="#e0596f" stroke-width="2.0"/>
<line x1="23.5" y1="837.4" x2="36.2" y2="837.4" stroke="#111" stroke-width="2.0"/>
<line x1="35.2" y1="823.3" x2="35.2" y2="851.5" stroke="#111" stroke-width="2.0" stroke-linecap="square"/>
<line x1="35.2" y1="823.3" x2="73" y2="823.3" stroke="#e0596f" stroke-width="2.0"/>
<line x1="35.2" y1="851.5" x2="77.9" y2="851.5" stroke="#111" stroke-width="2.0"/>
<line x1="76.9" y1="838.8" x2="76.9" y2="864.1" stroke="#111" stroke-width="2.0" stroke-linecap="square"/>
<line x1="76.9" y1="838.8" x2="105.3" y2="838.8" stroke="#e0596f" stroke-width="2.0"/>
<line x1="104.3" y1="833.6" x2="104.3" y2="844" stroke="#e0596f" stroke-width="2.0" stroke-linecap="square"/>
<line x1="104.3" y1="833.6" x2="158" y2="833.6" stroke="#e0596f" stroke-width="2.0"/>
<line x1="104.3" y1="844" x2="153.2" y2="844" stroke="#e0596f" stroke-width="2.0"/>
<line x1="76.9" y1="864.1" x2="158.1" y2="864.1" stroke="#111" stroke-width="2.0"/>
<line x1="157.1" y1="854.4" x2="157.1" y2="873.8" stroke="#111" stroke-width="2.0" stroke-linecap="square"/>
<line x1="157.1" y1="854.4" x2="276.4" y2="854.4" stroke="#e0596f" stroke-width="2.0"/>
<line x1="157.1" y1="873.8" x2="208.6" y2="873.8" stroke="#111" stroke-width="2.0"/>
<line x1="207.6" y1="864.7" x2="207.6" y2="882.9" stroke="#111" stroke-width="2.0" stroke-linecap="square"/>
<line x1="207.6" y1="864.7" x2="360.2" y2="864.7" stroke="#f0a95e" stroke-width="2.0"/>
<line x1="207.6" y1="882.9" x2="328.6" y2="882.9" stroke="#86706f" stroke-width="2.0"/>
<line x1="327.6" y1="875.1" x2="327.6" y2="890.6" stroke="#86706f" stroke-width="2.0" stroke-linecap="square"/>
<line x1="327.6" y1="875.1" x2="370" y2="875.1" stroke="#86706f" stroke-width="2.0"/>
<line x1="327.6" y1="890.6" x2="366" y2="890.6" stroke="#86706f" stroke-width="2.0"/>
<line x1="365" y1="885.5" x2="365" y2="895.8" stroke="#86706f" stroke-width="2.0" stroke-linecap="square"/>
<line x1="365" y1="885.5" x2="370" y2="885.5" stroke="#86706f" stroke-width="2.0"/>
<line x1="365" y1="895.8" x2="370" y2="895.8" stroke="#86706f" stroke-width="2.0"/>
<g fill="#000"><circle cx="104.3" cy="838.8" r="3.1"/>
<circle cx="365" cy="890.6" r="3.1"/>
<circle cx="327.6" cy="882.9" r="3.1"/>
<circle cx="207.6" cy="873.8" r="3.1"/>
<circle cx="157.1" cy="864.1" r="3.1"/>
<circle cx="76.9" cy="851.5" r="3.1"/>
<circle cx="35.2" cy="837.4" r="3.1"/></g>
<rect x="372" y="787" width="27.9" height="114" fill="#d4e2fb"/>
<rect x="408.8" y="787" width="8.5" height="72.5" fill="#e0566e"/>
<rect x="408.8" y="859.5" width="8.5" height="10.4" fill="#f0a860"/>
<rect x="408.8" y="869.9" width="8.5" height="31.1" fill="#857272"/>
<g font-size="7.8" fill="#111">
<text x="372.1" y="795.2">bin.103</text>
<text x="372.1" y="805.5">bin.95</text>
<text x="372.1" y="815.9">bin.105</text>
<text x="372.1" y="826.3">bin.90</text>
<text x="372.1" y="836.6">bin.9</text>
<text x="372.1" y="847">bin.29</text>
<text x="372.1" y="857.4">bin.91</text>
<text x="372.1" y="867.7">bin.104</text>
<text x="372.1" y="878.1">bin.43</text>
<text x="372.1" y="888.5">bin.94</text>
<text x="372.1" y="898.8">bin.108</text>
</g>
<rect x="423.5" y="787" width="8.8" height="10.4" fill="#e86c59"/>
<rect x="441.2" y="787" width="8.8" height="10.4" fill="#e86c59"/>
<rect x="423.5" y="797.4" width="8.8" height="10.4" fill="#e86c59"/>
<rect x="441.2" y="797.4" width="8.8" height="10.4" fill="#e86c59"/>
<rect x="423.5" y="807.7" width="8.8" height="10.4" fill="#901010"/>
<rect x="441.2" y="807.7" width="8.8" height="10.4" fill="#e86c59"/>
<rect x="423.5" y="818.1" width="8.8" height="10.4" fill="#e86c59"/>
<rect x="441.2" y="818.1" width="8.8" height="10.4" fill="#e86c59"/>
<rect x="423.5" y="828.5" width="8.8" height="10.4" fill="#a91c18"/>
<rect x="441.2" y="828.5" width="8.8" height="10.4" fill="#e86c59"/>
<rect x="423.5" y="838.8" width="8.8" height="10.4" fill="#c2291f"/>
<rect x="441.2" y="838.8" width="8.8" height="10.4" fill="#ed8373"/>
<rect x="423.5" y="849.2" width="8.8" height="10.4" fill="#e2553f"/>
<rect x="441.2" y="849.2" width="8.8" height="10.4" fill="#e2553f"/>
<rect x="450" y="849.2" width="8.8" height="10.4" fill="#e2553f"/>
<rect x="423.5" y="869.9" width="8.8" height="10.4" fill="#901010"/>
<rect x="441.2" y="869.9" width="8.8" height="10.4" fill="#f3aca3"/>
<rect x="423.5" y="880.3" width="8.8" height="10.4" fill="#e2553f"/>
<rect x="441.2" y="880.3" width="8.8" height="10.4" fill="#e2553f"/>
<rect x="423.5" y="890.6" width="8.8" height="10.4" fill="#e86c59"/>
<rect x="441.2" y="890.6" width="8.8" height="10.4" fill="#e86c59"/>
<path d="M423.5 787H458.8M423.5 797.4H458.8M423.5 807.7H458.8M423.5 818.1H458.8M423.5 828.5H458.8M423.5 838.8H458.8M423.5 849.2H458.8M423.5 859.5H458.8M423.5 869.9H458.8M423.5 880.3H458.8M423.5 890.6H458.8M423.5 901H458.8M423.5 787V901M432.3 787V901M441.2 787V901M450 787V901M458.8 787V901" stroke="#3a3a3a" stroke-width="1" fill="none"/>
<rect x="466.7" y="787" width="8.8" height="10.4" fill="#fcefc0"/>
<rect x="475.5" y="787" width="8.8" height="10.4" fill="#fce59b"/>
<rect x="466.7" y="797.4" width="8.8" height="10.4" fill="#fceaae"/>
<rect x="475.5" y="797.4" width="8.8" height="10.4" fill="#fcefc0"/>
<rect x="466.7" y="807.7" width="8.8" height="10.4" fill="#fcefc0"/>
<rect x="475.5" y="807.7" width="8.8" height="10.4" fill="#fcefc0"/>
<rect x="466.7" y="818.1" width="8.8" height="10.4" fill="#fcefc0"/>
<rect x="475.5" y="818.1" width="8.8" height="10.4" fill="#fcdc7c"/>
<rect x="466.7" y="828.5" width="8.8" height="10.4" fill="#fcefc0"/>
<rect x="475.5" y="828.5" width="8.8" height="10.4" fill="#fce59b"/>
<rect x="466.7" y="838.8" width="8.8" height="10.4" fill="#fcefc0"/>
<rect x="475.5" y="838.8" width="8.8" height="10.4" fill="#fceaae"/>
<rect x="466.7" y="849.2" width="8.8" height="10.4" fill="#fceaae"/>
<rect x="475.5" y="849.2" width="8.8" height="10.4" fill="#fcefc0"/>
<rect x="475.5" y="859.5" width="8.8" height="10.4" fill="#facc3b"/>
<rect x="466.7" y="869.9" width="8.8" height="10.4" fill="#fef7e0"/>
<rect x="475.5" y="869.9" width="8.8" height="10.4" fill="#fef7e0"/>
<rect x="466.7" y="880.3" width="8.8" height="10.4" fill="#fef7e0"/>
<rect x="475.5" y="880.3" width="8.8" height="10.4" fill="#fcefc0"/>
<rect x="475.5" y="890.6" width="8.8" height="10.4" fill="#fcefc0"/>
<path d="M466.7 787H493.1M466.7 797.4H493.1M466.7 807.7H493.1M466.7 818.1H493.1M466.7 828.5H493.1M466.7 838.8H493.1M466.7 849.2H493.1M466.7 859.5H493.1M466.7 869.9H493.1M466.7 880.3H493.1M466.7 890.6H493.1M466.7 901H493.1M466.7 787V901M475.5 787V901M484.3 787V901M493.1 787V901" stroke="#3a3a3a" stroke-width="1" fill="none"/>
<rect x="501.6" y="787" width="8.5" height="10.4" fill="#b8d8a5"/>
<rect x="501.6" y="797.4" width="8.5" height="10.4" fill="#b8d8a5"/>
<rect x="501.6" y="818.1" width="8.5" height="10.4" fill="#b8d8a5"/>
<rect x="501.6" y="828.5" width="8.5" height="10.4" fill="#b8d8a5"/>
<rect x="501.6" y="838.8" width="8.5" height="10.4" fill="#c8e2ba"/>
<rect x="501.6" y="849.2" width="8.5" height="10.4" fill="#b8d8a5"/>
<rect x="501.6" y="869.9" width="8.5" height="10.4" fill="#b8d8a5"/>
<rect x="501.6" y="880.3" width="8.5" height="10.4" fill="#3a6a2a"/>
<rect x="501.6" y="890.6" width="8.5" height="10.4" fill="#98c47e"/>
<path d="M501.6 787H510.1M501.6 797.4H510.1M501.6 807.7H510.1M501.6 818.1H510.1M501.6 828.5H510.1M501.6 838.8H510.1M501.6 849.2H510.1M501.6 859.5H510.1M501.6 869.9H510.1M501.6 880.3H510.1M501.6 890.6H510.1M501.6 901H510.1M501.6 787V901M510.1 787V901" stroke="#3a3a3a" stroke-width="1" fill="none"/>
<rect x="518.8" y="787" width="8.7" height="10.4" fill="#b898be"/>
<rect x="544.9" y="787" width="8.7" height="10.4" fill="#e6d8e8"/>
<rect x="518.8" y="797.4" width="8.7" height="10.4" fill="#e6d8e8"/>
<rect x="544.9" y="797.4" width="8.7" height="10.4" fill="#e6d8e8"/>
<rect x="518.8" y="807.7" width="8.7" height="10.4" fill="#e6d8e8"/>
<rect x="544.9" y="807.7" width="8.7" height="10.4" fill="#e6d8e8"/>
<rect x="518.8" y="818.1" width="8.7" height="10.4" fill="#a47ead"/>
<rect x="544.9" y="818.1" width="8.7" height="10.4" fill="#d8c4dc"/>
<rect x="518.8" y="828.5" width="8.7" height="10.4" fill="#a47ead"/>
<rect x="544.9" y="828.5" width="8.7" height="10.4" fill="#d8c4dc"/>
<rect x="518.8" y="838.8" width="8.7" height="10.4" fill="#cbb1cf"/>
<rect x="544.9" y="838.8" width="8.7" height="10.4" fill="#e6d8e8"/>
<rect x="518.8" y="849.2" width="8.7" height="10.4" fill="#b898be"/>
<rect x="518.8" y="859.5" width="8.7" height="10.4" fill="#d8c4dc"/>
<rect x="527.5" y="869.9" width="8.7" height="10.4" fill="#f2ecf4"/>
<path d="M518.8 787H571M518.8 797.4H571M518.8 807.7H571M518.8 818.1H571M518.8 828.5H571M518.8 838.8H571M518.8 849.2H571M518.8 859.5H571M518.8 869.9H571M518.8 880.3H571M518.8 890.6H571M518.8 901H571M518.8 787V901M527.5 787V901M536.2 787V901M544.9 787V901M553.6 787V901M562.3 787V901M571 787V901" stroke="#3a3a3a" stroke-width="1" fill="none"/>
<g font-size="7.2" fill="#222">
<text transform="translate(414.6,786.7) rotate(-45)" font-size="8.7">Phylum</text>
<text transform="translate(428.7,786.8) rotate(-45)">COG0168</text>
<text transform="translate(437.5,786.8) rotate(-45)">COG3158</text>
<text transform="translate(446.4,786.8) rotate(-45)">COG0530</text>
<text transform="translate(455.2,786.8) rotate(-45)">COG0038</text>
<text transform="translate(471.9,786.8) rotate(-45)">COG0591</text>
<text transform="translate(480.7,786.8) rotate(-45)">COG0477</text>
<text transform="translate(489.5,786.8) rotate(-45)">COG1115</text>
<text transform="translate(506.6,786.8) rotate(-45)">COG0580</text>
<text transform="translate(523.9,786.8) rotate(-45)">COG2217</text>
<text transform="translate(532.6,786.8) rotate(-45)">COG0861</text>
<text transform="translate(541.3,786.8) rotate(-45)">COG2059</text>
<text transform="translate(550,786.8) rotate(-45)">COG2409</text>
<text transform="translate(558.7,786.8) rotate(-45)">COG0767</text>
<text transform="translate(567.4,786.8) rotate(-45)">COG1613</text>
</g>
<rect x="423.5" y="908.2" width="35.3" height="5.7" rx="0.6" fill="#9b1a32" stroke="#444" stroke-width="0.7"/>
<rect x="466.7" y="908.2" width="26.4" height="5.7" rx="0.6" fill="#f7aa4c" stroke="#444" stroke-width="0.7"/>
<rect x="501.6" y="908.2" width="8.5" height="5.7" rx="0.6" fill="#46654b" stroke="#444" stroke-width="0.7"/>
<rect x="518.8" y="908.2" width="26.1" height="5.7" fill="#9b1a32"/>
<rect x="544.9" y="908.2" width="8.7" height="5.7" fill="#4db5aa"/>
<rect x="553.6" y="908.2" width="8.7" height="5.7" fill="#3451a6"/>
<rect x="562.3" y="908.2" width="8.7" height="5.7" fill="#9b1a32"/>
<rect x="518.8" y="908.2" width="52.2" height="5.7" rx="0.6" fill="none" stroke="#444" stroke-width="0.7"/>
<text x="414.8" y="913.2" font-size="7.4" font-style="italic" fill="#333" text-anchor="end">Category of COGs</text>
<line x1="423.5" y1="920.6" x2="510.1" y2="920.6" stroke="#000" stroke-width="2"/>
<line x1="518.8" y1="920.6" x2="571" y2="920.6" stroke="#000" stroke-width="2"/>
<text x="464.8" y="930.3" font-size="7.4" font-style="italic" fill="#333" text-anchor="middle">osmoregulation</text>
<text x="542.3" y="930.3" font-size="7.4" font-style="italic" fill="#333" text-anchor="middle">other adaptations</text>
<text x="27" y="947.5" font-size="7.5" font-weight="bold" fill="#111">Category of MAG</text>
<line x1="25.2" y1="951.9" x2="91.3" y2="951.9" stroke="#000" stroke-width="2"/>
<rect x="24.6" y="955.4" width="9.4" height="9.4" fill="#d6e3fb" stroke="#8a8a8a" stroke-width="0.8"/>
<text x="41.2" y="962.4" font-size="7.4" fill="#333">High-salinity</text>
<rect x="24.6" y="970.2" width="9.4" height="9.4" fill="#fdeedb" stroke="#8a8a8a" stroke-width="0.8"/>
<text x="41.2" y="977.2" font-size="7.4" fill="#333">Intermediate-salinity</text>
<rect x="24.6" y="985.1" width="9.4" height="9.4" fill="#d6efd3" stroke="#8a8a8a" stroke-width="0.8"/>
<text x="41.2" y="992.1" font-size="7.4" fill="#333">Low-salinity</text>
<rect x="24.6" y="999.9" width="9.4" height="9.4" fill="#d0c4a4" stroke="#8a8a8a" stroke-width="0.8"/>
<text x="41.2" y="1006.9" font-size="7.4" fill="#333">Euryhaline</text>
<text x="25.7" y="1034.2" font-size="7.5" font-weight="bold" fill="#111">Category of euryhaline MAG</text>
<line x1="25.2" y1="1038.2" x2="131.7" y2="1038.2" stroke="#000" stroke-width="2"/>
<circle cx="29.1" cy="1046.3" r="4.9" fill="#a9c4f8" stroke="#9a9a9a" stroke-width="0.6"/>
<text x="41" y="1048.6" font-size="7.4" fill="#333">High-salinity inclined</text>
<circle cx="29.1" cy="1061.1" r="4.9" fill="#fbd77a" stroke="#9a9a9a" stroke-width="0.6"/>
<text x="41" y="1063.4" font-size="7.4" fill="#333">Intermediate-salinity inclined</text>
<circle cx="29.1" cy="1075.9" r="4.9" fill="#a8cdbd" stroke="#9a9a9a" stroke-width="0.6"/>
<text x="41" y="1078.2" font-size="7.4" fill="#333">Low-salinity inclined</text>
<text x="27" y="1104.4" font-size="7.5" font-weight="bold" fill="#111">Archaeal phylum</text>
<line x1="25.2" y1="1108.4" x2="87" y2="1108.4" stroke="#000" stroke-width="2"/>
<rect x="24.6" y="1111.7" width="9.6" height="9.6" fill="#f0a858" stroke="#777" stroke-width="0.6"/>
<text x="41.7" y="1118.8" font-size="7.4" font-style="italic" fill="#333">Asgardarchaeota</text>
<rect x="24.6" y="1126.5" width="9.6" height="9.6" fill="#e0566e" stroke="#777" stroke-width="0.6"/>
<text x="41.7" y="1133.6" font-size="7.4" font-style="italic" fill="#333">Thermoplasmatota</text>
<rect x="24.6" y="1141.3" width="9.6" height="9.6" fill="#7d6e6e" stroke="#777" stroke-width="0.6"/>
<text x="41.7" y="1148.4" font-size="7.4" font-style="italic" fill="#333">Thermoproteota</text>
<text x="171" y="947.5" font-size="7.5" font-weight="bold" fill="#111">Bacterial phylum</text>
<line x1="169.8" y1="951.9" x2="230.3" y2="951.9" stroke="#000" stroke-width="2"/>
<rect x="168.1" y="955.2" width="9.8" height="9.8" fill="#4a62a8" stroke="#888" stroke-width="0.6"/>
<text x="185.7" y="962.4" font-size="7.4" font-style="italic" fill="#333">Actinobacteriota</text>
<rect x="168.1" y="969.9" width="9.8" height="9.8" fill="#8587c8" stroke="#888" stroke-width="0.6"/>
<text x="185.7" y="977.1" font-size="7.4" font-style="italic" fill="#333">Bacteroidota</text>
<rect x="168.1" y="984.7" width="9.8" height="9.8" fill="#b9a6dc" stroke="#888" stroke-width="0.6"/>
<text x="185.7" y="991.9" font-size="7.4" font-style="italic" fill="#333">Chloroflexota</text>
<rect x="168.1" y="999.4" width="9.8" height="9.8" fill="#efc0cc" stroke="#888" stroke-width="0.6"/>
<text x="185.7" y="1006.6" font-size="7.4" font-style="italic" fill="#333">Cyanobacteria</text>
<rect x="168.1" y="1014.2" width="9.8" height="9.8" fill="#a8145a" stroke="#888" stroke-width="0.6"/>
<text x="185.7" y="1021.4" font-size="7.4" font-style="italic" fill="#333">Desulfobacterota_B</text>
<rect x="168.1" y="1028.9" width="9.8" height="9.8" fill="#a6cbe8" stroke="#888" stroke-width="0.6"/>
<text x="185.7" y="1036.1" font-size="7.4" font-style="italic" fill="#333">Firmicutes</text>
<rect x="168.1" y="1043.6" width="9.8" height="9.8" fill="#f0a078" stroke="#888" stroke-width="0.6"/>
<text x="185.7" y="1050.8" font-size="7.4" font-style="italic" fill="#333">Gemmatimonadota</text>
<rect x="168.1" y="1058.4" width="9.8" height="9.8" fill="#9cab8c" stroke="#888" stroke-width="0.6"/>
<text x="185.7" y="1065.6" font-size="7.4" font-style="italic" fill="#333">Margulisbacteria</text>
<rect x="168.1" y="1073.1" width="9.8" height="9.8" fill="#b87880" stroke="#888" stroke-width="0.6"/>
<text x="185.7" y="1080.3" font-size="7.4" font-style="italic" fill="#333">Myxococcota</text>
<rect x="168.1" y="1087.9" width="9.8" height="9.8" fill="#1a7a6e" stroke="#888" stroke-width="0.6"/>
<text x="185.7" y="1095.1" font-size="7.4" font-style="italic" fill="#333">Planctomycetota</text>
<rect x="168.1" y="1102.6" width="9.8" height="9.8" fill="#5ab8a8" stroke="#888" stroke-width="0.6"/>
<text x="185.7" y="1109.8" font-size="7.4" font-style="italic" fill="#333">Proteobacteria</text>
<rect x="168.1" y="1117.3" width="9.8" height="9.8" fill="#e8c888" stroke="#888" stroke-width="0.6"/>
<text x="185.7" y="1124.5" font-size="7.4" font-style="italic" fill="#333">Verrucomicrobiota</text>
<text x="291.9" y="950.5" font-size="7.5" font-weight="bold" fill="#111">Bootstrap</text>
<line x1="289.6" y1="955" x2="326.4" y2="955" stroke="#000" stroke-width="2"/>
<circle cx="294.5" cy="963" r="2.7" fill="#000"/>
<text x="306" y="965.5" font-size="7.4" fill="#333">&gt;0.95</text>
<text x="290" y="998" font-size="7.5" font-weight="bold" fill="#111">Category of COG</text>
<line x1="287.8" y1="1002.5" x2="354.3" y2="1002.5" stroke="#000" stroke-width="2"/>
<rect x="287.5" y="1005.8" width="10" height="9.8" fill="#a01838" stroke="#666" stroke-width="0.6"/>
<text x="304.6" y="1013" font-size="7.4" fill="#333">Inorganic ion transport and metabolism</text>
<rect x="287.5" y="1020.6" width="10" height="9.8" fill="#f8b050" stroke="#666" stroke-width="0.6"/>
<text x="304.6" y="1027.8" font-size="7.4" fill="#333">Amino acid transport and metabolism</text>
<rect x="287.5" y="1035.4" width="10" height="9.8" fill="#4a6a4a" stroke="#666" stroke-width="0.6"/>
<text x="304.6" y="1042.6" font-size="7.4" fill="#333">Intracellular trafficking, secretion, and vesicular transport</text>
<rect x="287.5" y="1050.1" width="10" height="9.8" fill="#50b8a8" stroke="#666" stroke-width="0.6"/>
<text x="304.6" y="1057.3" font-size="7.4" fill="#333">Cell cycle control, cell division, chromosom partitioning</text>
<rect x="287.5" y="1064.9" width="10" height="9.8" fill="#3050a8" stroke="#666" stroke-width="0.6"/>
<text x="304.6" y="1072.1" font-size="7.4" fill="#333">Secondary metabolites biosynthesis, transport, and catabolism</text>
<text x="26.8" y="1188.3" font-size="7.5" font-weight="bold" fill="#111">Relative abundance of COG</text>
<line x1="23.4" y1="1192.7" x2="128.2" y2="1192.7" stroke="#000" stroke-width="2"/>
<text x="26.8" y="1205.2" font-size="7.4" font-weight="bold" fill="#222">Salt-in strategy (%)</text>
<rect x="24.1" y="1209.6" width="10.9" height="11.05" fill="#ffffff" stroke="#222" stroke-width="0.9"/>
<text x="39.7" y="1216.9" font-size="5.5" font-weight="bold" fill="#222">0</text>
<rect x="24.1" y="1220.6" width="10.9" height="11.05" fill="#fadcd8" stroke="#222" stroke-width="0.9"/>
<text x="39.7" y="1227.9" font-size="5.5" font-weight="bold" fill="#222">0.025</text>
<rect x="24.1" y="1231.7" width="10.9" height="11.05" fill="#f6c0bc" stroke="#222" stroke-width="0.9"/>
<text x="39.7" y="1239" font-size="5.5" font-weight="bold" fill="#222">0.05</text>
<rect x="24.1" y="1242.8" width="10.9" height="11.05" fill="#f2a29c" stroke="#222" stroke-width="0.9"/>
<text x="39.7" y="1250" font-size="5.5" font-weight="bold" fill="#222">0.075</text>
<rect x="24.1" y="1253.8" width="10.9" height="11.05" fill="#ee8478" stroke="#222" stroke-width="0.9"/>
<text x="39.7" y="1261.1" font-size="5.5" font-weight="bold" fill="#222">0.1</text>
<rect x="24.1" y="1264.8" width="10.9" height="11.05" fill="#e85a4a" stroke="#222" stroke-width="0.9"/>
<text x="39.7" y="1272.1" font-size="5.5" font-weight="bold" fill="#222">0.125</text>
<rect x="24.1" y="1275.9" width="10.9" height="11.05" fill="#d84030" stroke="#222" stroke-width="0.9"/>
<text x="39.7" y="1283.2" font-size="5.5" font-weight="bold" fill="#222">0.15</text>
<rect x="24.1" y="1286.9" width="10.9" height="11.05" fill="#c83028" stroke="#222" stroke-width="0.9"/>
<text x="39.7" y="1294.2" font-size="5.5" font-weight="bold" fill="#222">0.175</text>
<rect x="24.1" y="1298" width="10.9" height="11.05" fill="#a82020" stroke="#222" stroke-width="0.9"/>
<text x="39.7" y="1305.3" font-size="5.5" font-weight="bold" fill="#222">0.2</text>
<rect x="24.1" y="1309" width="10.9" height="11.05" fill="#901818" stroke="#222" stroke-width="0.9"/>
<text x="39.7" y="1316.3" font-size="5.5" font-weight="bold" fill="#222">0.225</text>
<rect x="24.1" y="1320.1" width="10.9" height="11.05" fill="#700808" stroke="#222" stroke-width="0.9"/>
<text x="39.7" y="1327.4" font-size="5.5" font-weight="bold" fill="#222">0.25</text>
<text x="109.7" y="1205.2" font-size="7.4" font-weight="bold" fill="#222">Salt-out strategy (%)</text>
<rect x="107.5" y="1209.6" width="10.9" height="11.05" fill="#ffffff" stroke="#222" stroke-width="0.9"/>
<text x="122.6" y="1216.9" font-size="5.5" font-weight="bold" fill="#222">0</text>
<rect x="107.5" y="1220.6" width="10.9" height="11.05" fill="#fdf4d0" stroke="#222" stroke-width="0.9"/>
<text x="122.6" y="1227.9" font-size="5.5" font-weight="bold" fill="#222">0.2</text>
<rect x="107.5" y="1231.7" width="10.9" height="11.05" fill="#fce8a8" stroke="#222" stroke-width="0.9"/>
<text x="122.6" y="1239" font-size="5.5" font-weight="bold" fill="#222">0.4</text>
<rect x="107.5" y="1242.8" width="10.9" height="11.05" fill="#fcdc70" stroke="#222" stroke-width="0.9"/>
<text x="122.6" y="1250" font-size="5.5" font-weight="bold" fill="#222">0.6</text>
<rect x="107.5" y="1253.8" width="10.9" height="11.05" fill="#fcd040" stroke="#222" stroke-width="0.9"/>
<text x="122.6" y="1261.1" font-size="5.5" font-weight="bold" fill="#222">0.8</text>
<rect x="107.5" y="1264.8" width="10.9" height="11.05" fill="#f8c010" stroke="#222" stroke-width="0.9"/>
<text x="122.6" y="1272.1" font-size="5.5" font-weight="bold" fill="#222">1</text>
<rect x="107.5" y="1275.9" width="10.9" height="11.05" fill="#f4b818" stroke="#222" stroke-width="0.9"/>
<text x="122.6" y="1283.2" font-size="5.5" font-weight="bold" fill="#222">1.2</text>
<rect x="107.5" y="1286.9" width="10.9" height="11.05" fill="#f0b020" stroke="#222" stroke-width="0.9"/>
<text x="122.6" y="1294.2" font-size="5.5" font-weight="bold" fill="#222">1.4</text>
<rect x="107.5" y="1298" width="10.9" height="11.05" fill="#eca830" stroke="#222" stroke-width="0.9"/>
<text x="122.6" y="1305.3" font-size="5.5" font-weight="bold" fill="#222">1.6</text>
<rect x="107.5" y="1309" width="10.9" height="11.05" fill="#e8a038" stroke="#222" stroke-width="0.9"/>
<text x="122.6" y="1316.3" font-size="5.5" font-weight="bold" fill="#222">1.8</text>
<rect x="107.5" y="1320.1" width="10.9" height="11.05" fill="#e09840" stroke="#222" stroke-width="0.9"/>
<text x="122.6" y="1327.4" font-size="5.5" font-weight="bold" fill="#222">2</text>
<text x="198.6" y="1205.2" font-size="7.4" font-weight="bold" fill="#222">Water channel activity regulation (%)</text>
<rect x="196.2" y="1209.6" width="10.9" height="11.05" fill="#ffffff" stroke="#222" stroke-width="0.9"/>
<text x="211.4" y="1216.9" font-size="5.5" font-weight="bold" fill="#222">0</text>
<rect x="196.2" y="1220.6" width="10.9" height="11.05" fill="#e4f0dc" stroke="#222" stroke-width="0.9"/>
<text x="211.4" y="1227.9" font-size="5.5" font-weight="bold" fill="#222">0.035</text>
<rect x="196.2" y="1231.7" width="10.9" height="11.05" fill="#cce4c0" stroke="#222" stroke-width="0.9"/>
<text x="211.4" y="1239" font-size="5.5" font-weight="bold" fill="#222">0.07</text>
<rect x="196.2" y="1242.8" width="10.9" height="11.05" fill="#b8d8a8" stroke="#222" stroke-width="0.9"/>
<text x="211.4" y="1250" font-size="5.5" font-weight="bold" fill="#222">0.105</text>
<rect x="196.2" y="1253.8" width="10.9" height="11.05" fill="#a0cc88" stroke="#222" stroke-width="0.9"/>
<text x="211.4" y="1261.1" font-size="5.5" font-weight="bold" fill="#222">0.14</text>
<rect x="196.2" y="1264.8" width="10.9" height="11.05" fill="#88b870" stroke="#222" stroke-width="0.9"/>
<text x="211.4" y="1272.1" font-size="5.5" font-weight="bold" fill="#222">0.175</text>
<rect x="196.2" y="1275.9" width="10.9" height="11.05" fill="#78a860" stroke="#222" stroke-width="0.9"/>
<text x="211.4" y="1283.2" font-size="5.5" font-weight="bold" fill="#222">0.21</text>
<rect x="196.2" y="1286.9" width="10.9" height="11.05" fill="#689850" stroke="#222" stroke-width="0.9"/>
<text x="211.4" y="1294.2" font-size="5.5" font-weight="bold" fill="#222">0.245</text>
<rect x="196.2" y="1298" width="10.9" height="11.05" fill="#588848" stroke="#222" stroke-width="0.9"/>
<text x="211.4" y="1305.3" font-size="5.5" font-weight="bold" fill="#222">0.28</text>
<rect x="196.2" y="1309" width="10.9" height="11.05" fill="#4a7840" stroke="#222" stroke-width="0.9"/>
<text x="211.4" y="1316.3" font-size="5.5" font-weight="bold" fill="#222">0.315</text>
<rect x="196.2" y="1320.1" width="10.9" height="11.05" fill="#3a6030" stroke="#222" stroke-width="0.9"/>
<text x="211.4" y="1327.4" font-size="5.5" font-weight="bold" fill="#222">0.35</text>
<text x="348.7" y="1205.2" font-size="7.4" font-weight="bold" fill="#222">Other environmental challenges (%)</text>
<rect x="345.5" y="1209.6" width="10.9" height="11.05" fill="#ffffff" stroke="#222" stroke-width="0.9"/>
<text x="361.5" y="1216.9" font-size="5.5" font-weight="bold" fill="#222">0</text>
<rect x="345.5" y="1220.6" width="10.9" height="11.05" fill="#f0e8f0" stroke="#222" stroke-width="0.9"/>
<text x="361.5" y="1227.9" font-size="5.5" font-weight="bold" fill="#222">0.05</text>
<rect x="345.5" y="1231.7" width="10.9" height="11.05" fill="#e4d4e8" stroke="#222" stroke-width="0.9"/>
<text x="361.5" y="1239" font-size="5.5" font-weight="bold" fill="#222">0.1</text>
<rect x="345.5" y="1242.8" width="10.9" height="11.05" fill="#d8c0dc" stroke="#222" stroke-width="0.9"/>
<text x="361.5" y="1250" font-size="5.5" font-weight="bold" fill="#222">0.15</text>
<rect x="345.5" y="1253.8" width="10.9" height="11.05" fill="#c8a8d0" stroke="#222" stroke-width="0.9"/>
<text x="361.5" y="1261.1" font-size="5.5" font-weight="bold" fill="#222">0.2</text>
<rect x="345.5" y="1264.8" width="10.9" height="11.05" fill="#b890c0" stroke="#222" stroke-width="0.9"/>
<text x="361.5" y="1272.1" font-size="5.5" font-weight="bold" fill="#222">0.25</text>
<rect x="345.5" y="1275.9" width="10.9" height="11.05" fill="#a478b0" stroke="#222" stroke-width="0.9"/>
<text x="361.5" y="1283.2" font-size="5.5" font-weight="bold" fill="#222">0.3</text>
<rect x="345.5" y="1286.9" width="10.9" height="11.05" fill="#8c5c9c" stroke="#222" stroke-width="0.9"/>
<text x="361.5" y="1294.2" font-size="5.5" font-weight="bold" fill="#222">0.35</text>
<rect x="345.5" y="1298" width="10.9" height="11.05" fill="#784888" stroke="#222" stroke-width="0.9"/>
<text x="361.5" y="1305.3" font-size="5.5" font-weight="bold" fill="#222">0.4</text>
<rect x="345.5" y="1309" width="10.9" height="11.05" fill="#643470" stroke="#222" stroke-width="0.9"/>
<text x="361.5" y="1316.3" font-size="5.5" font-weight="bold" fill="#222">0.45</text>
<rect x="345.5" y="1320.1" width="10.9" height="11.05" fill="#4a1a50" stroke="#222" stroke-width="0.9"/>
<text x="361.5" y="1327.4" font-size="5.5" font-weight="bold" fill="#222">0.5</text>
</svg>
</body></html>
